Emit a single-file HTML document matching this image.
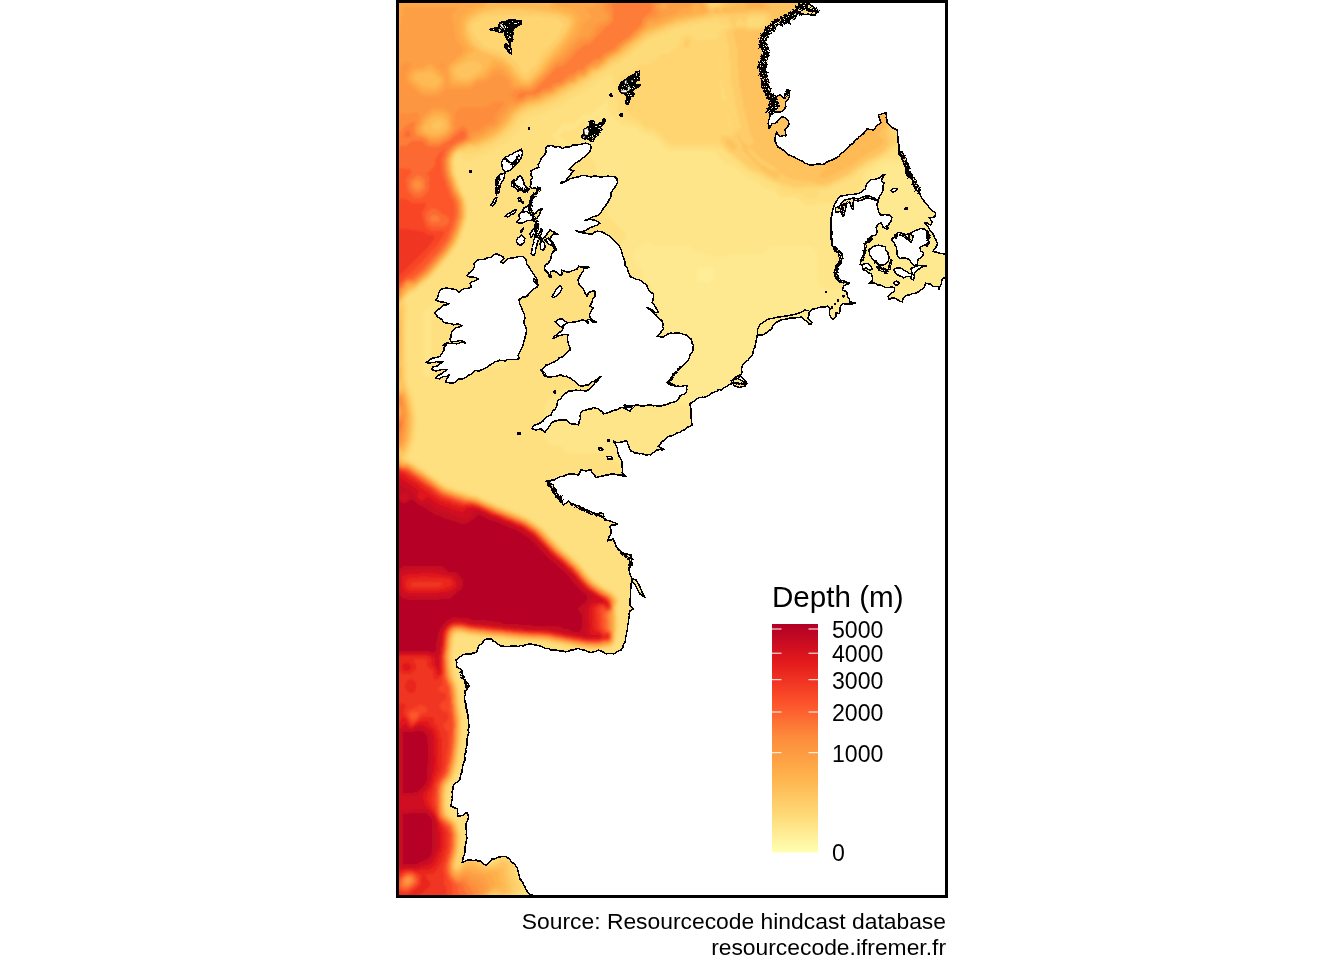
<!DOCTYPE html>
<html><head><meta charset="utf-8"><title>Depth (m)</title>
<style>
html,body{margin:0;padding:0;background:#fff;}
body{width:1344px;height:960px;overflow:hidden;position:relative;font-family:"Liberation Sans",Arial,sans-serif;color:#000;}
svg{position:absolute;left:0;top:0;}
.cap{position:absolute;right:398px;text-align:right;font-size:22.85px;line-height:26px;white-space:nowrap;}
</style></head><body>
<svg width="1344" height="960" viewBox="0 0 1344 960">
<defs>
<clipPath id="clip"><rect x="399" y="3" width="546" height="892"/></clipPath>
<linearGradient id="lg" x1="0" y1="1" x2="0" y2="0">
<stop offset="0" stop-color="#FFFFB2"/><stop offset="0.1667" stop-color="#FED976"/><stop offset="0.3333" stop-color="#FEB24C"/><stop offset="0.5" stop-color="#FD8D3C"/><stop offset="0.6667" stop-color="#FC4E2A"/><stop offset="0.8333" stop-color="#E31A1C"/><stop offset="1" stop-color="#B10026"/>
</linearGradient>
<filter id="b1" x="0" y="0" width="100%" height="100%" filterUnits="userSpaceOnUse"><feGaussianBlur stdDeviation="0.8"/></filter>
</defs>
<g clip-path="url(#clip)">
<rect x="396" y="0" width="552" height="898" fill="#FFEE97"/>
<g filter="url(#b1)">
<path d="M376,-20 376,919 969,919 969,-20ZM698,269 699,268 712,268 713,269 713,278 711,279 708,283 706,282 707,281 698,281 697,280 698,279Z" fill="#FEE990"/>
<path d="M376,-20 376,919 969,919 969,473 952,473 949,471 698,471 694,468 694,465 693,464 694,460 697,458 707,458 710,456 710,453 711,452 711,410 710,409 710,406 709,405 701,405 695,402 693,402 692,403 687,403 686,404 657,404 654,402 654,399 653,398 653,327 654,326 654,323 658,318 658,315 660,310 652,300 652,288 645,280 643,276 643,270 636,262 634,258 634,253 636,250 641,245 646,244 647,243 652,244 654,246 688,246 689,247 691,247 699,254 705,254 706,255 715,256 720,258 723,258 731,254 763,254 771,247 774,247 775,246 808,246 813,248 817,252 817,281 819,285 823,289 825,290 856,290 858,288 858,286 860,283 860,203 862,199 869,191 869,184 870,183 870,178 871,176 875,172 876,172 879,168 887,164 895,164 896,165 899,165 905,169 914,169 915,170 919,170 939,190 941,193 941,200 945,205 945,224 946,225 947,241 949,246 949,244 950,243 951,216 953,214 955,214 960,218 966,221 969,221 969,-20Z" fill="#FEE589"/>
<path d="M487,919 494,919 493,917 489,917 489,918ZM431,312 431,367 434,366 434,364 439,361 501,361 501,321 461,321 456,319 454,316 449,313 448,311 447,311 446,309 445,309 444,307 440,304 439,304 439,305 437,306 437,307 435,308 432,312ZM376,-20 376,-6 378,-6 378,-10 380,-11 382,-14 384,-14 385,-16 387,-13 387,-6 385,-5 384,-3 381,-3 378,1 376,1 376,919 478,919 482,916 482,912 484,910 498,910 499,911 499,916 501,917 501,919 530,919 530,911 531,910 614,910 615,908 786,908 787,909 787,914 786,915 617,915 616,917 537,917 537,919 969,919 969,479 956,479 956,481 957,482 957,484 956,485 687,485 686,483 685,483 684,481 683,481 682,479 678,476 678,475 634,475 626,468 617,463 608,454 606,453 568,453 560,446 550,444 545,438 545,405 546,404 546,402 560,390 562,390 563,389 592,389 593,388 596,388 599,386 636,386 636,317 638,316 641,312 642,312 642,309 641,309 640,307 636,304 636,293 635,293 634,291 633,291 632,289 631,289 630,287 626,284 626,273 625,273 624,271 623,271 622,269 621,269 620,267 616,264 616,247 618,246 618,245 620,244 620,243 622,242 625,238 626,238 626,232 625,233 624,231 623,231 622,229 621,229 620,227 619,227 618,225 617,225 616,223 615,223 614,221 613,221 612,219 611,219 610,217 606,214 606,203 605,203 604,201 603,201 602,199 601,199 600,197 596,194 596,162 593,161 592,159 591,159 590,157 586,154 586,118 584,119 575,129 570,131 563,131 559,135 559,136 566,143 566,144 567,143 568,144 571,152 571,261 590,261 591,262 594,262 597,266 600,267 601,269 605,272 605,274 609,276 609,279 610,280 610,380 607,383 605,384 604,383 604,277 603,277 602,275 601,275 600,273 599,273 598,271 594,268 594,267 565,267 564,266 564,147 563,147 562,145 561,145 560,143 559,143 558,141 557,141 556,139 555,139 554,137 551,135 552,134 554,134 554,133 556,132 556,131 558,130 561,126 562,126 561,125 562,124 574,124 574,123 576,122 576,121 578,120 578,119 580,118 583,114 592,114 592,113 599,107 602,106 606,100 607,101 607,108 611,114 613,115 613,116 621,125 623,126 635,127 643,134 653,136 667,150 669,150 670,151 710,151 711,152 714,152 726,164 734,166 749,180 756,181 763,187 767,189 771,189 773,190 781,198 795,198 796,199 798,199 803,204 807,206 812,206 813,205 822,204 823,203 845,204 846,205 844,206 844,207 840,211 839,211 838,209 835,207 835,276 846,276 846,203 848,202 848,201 850,200 850,199 860,189 860,187 862,183 862,179 864,174 869,169 872,168 875,165 884,160 886,160 887,159 909,159 910,158 912,158 913,156 924,156 925,158 926,158 927,160 928,160 929,162 930,162 931,164 932,164 933,166 934,166 935,168 936,168 937,170 938,170 939,172 940,172 941,174 942,174 943,176 944,176 945,178 946,178 947,180 948,180 949,182 950,182 951,184 955,187 955,202 957,203 957,207 955,208 958,208 961,212 964,212 965,214 968,214 969,216 969,-20 841,-20 841,-18 840,-17 807,-17 806,-18 806,-20 563,-20 563,-18 561,-17 558,-13 483,-13 482,-15 478,-18 478,-20 403,-20 403,-18 401,-17 398,-13 387,-13 386,-14 386,-19 387,-20 396,-20ZM787,896 792,896 793,897 793,908 792,909 787,909 786,908 786,897ZM956,486 957,484 959,484 960,485 957,487ZM635,475 641,481 641,575 640,576 640,651 639,652 639,655 635,657 635,659 633,660 633,661 631,662 631,663 629,664 629,665 627,666 627,667 625,668 622,672 619,673 619,674 617,675 614,679 611,679 610,680 581,680 580,679 577,679 574,675 571,674 570,672 566,670 491,670 490,669 487,669 484,665 481,664 480,662 481,678 490,688 490,691 491,692 491,759 488,767 487,768 485,767 486,768 481,773 481,781 475,790 471,793 471,798 476,803 476,804 479,806 481,810 481,818 486,823 486,824 487,823 490,828 490,831 491,832 491,845 489,846 492,846 492,845 494,844 497,840 514,840 515,842 516,842 517,844 518,844 519,846 520,846 521,848 522,848 523,850 524,850 525,852 526,852 527,854 530,856 531,858 531,868 532,868 533,870 534,870 535,872 536,872 537,874 538,874 539,876 543,879 543,880 549,886 551,890 786,890 787,891 787,896 786,897 542,897 541,896 544,892 544,887 543,887 542,885 538,882 538,881 535,880 534,879 534,877 533,877 532,875 528,872 528,871 524,869 524,857 523,857 522,855 521,855 520,853 519,853 518,851 514,848 514,847 497,847 497,848 495,849 492,853 489,853 488,851 484,848 484,827 483,827 482,825 481,825 480,823 476,820 476,819 475,820 474,819 474,807 473,807 472,805 468,802 468,801 464,799 464,793 466,792 466,791 468,790 468,789 470,788 473,784 474,784 474,772 475,771 476,772 476,771 478,770 478,769 480,768 483,764 484,764 484,687 483,687 482,685 478,682 478,681 474,679 474,655 475,654 479,654 480,655 479,656 480,656 481,658 482,658 483,660 487,663 487,664 569,664 570,665 569,666 570,666 571,668 572,668 573,670 577,673 577,674 614,674 614,673 616,672 616,671 618,670 618,669 620,668 620,667 622,666 622,665 624,664 624,663 626,662 626,661 628,660 628,659 630,658 633,654 634,654 634,476ZM424,311 425,310 428,310 428,309 430,308 430,307 432,306 432,305 434,304 437,300 438,300 440,296 441,298 442,298 443,300 444,300 445,302 446,302 447,304 448,304 449,306 450,306 451,308 452,308 453,310 457,313 457,314 506,314 507,315 507,366 506,367 437,367 437,368 435,369 432,373 431,373 429,377 425,377 424,376ZM815,-6 840,-6 841,-5 841,-1 839,1 821,1 821,14 817,17 817,18 815,19 812,23 811,23 811,68 812,68 821,78 821,118 822,118 823,120 828,120 828,119 830,118 830,108 831,106 834,104 834,103 836,102 836,101 838,100 838,99 840,98 840,97 842,96 842,95 844,94 847,90 894,90 897,94 898,94 899,96 900,96 901,98 902,98 903,100 907,103 907,104 911,106 911,118 912,118 921,128 921,150 915,156 914,155 914,127 913,127 912,125 908,122 908,121 904,119 904,107 903,107 902,105 901,105 900,103 899,103 898,101 894,98 894,97 847,97 847,98 845,99 845,100 843,101 843,102 841,103 838,107 837,107 837,118 835,119 835,120 833,121 830,125 829,125 830,126 829,127 822,127 820,123 819,123 818,121 814,118 814,77 813,77 812,75 811,75 810,73 806,70 806,69 805,70 804,69 804,23 806,22 806,21 808,20 808,19 810,18 813,14 814,14 814,-5ZM841,-18 845,-18 847,-16 847,-7 845,-5 841,-5 840,-6 840,-17Z" fill="#FEE081"/>
<path d="M406,-20 406,-18 405,-16 403,-15 403,-13 401,-9 394,-9 391,-7 391,-5 388,-2 381,1 380,3 376,4 376,422 379,418 380,413 382,410 382,408 387,395 388,394 390,396 390,412 385,422 383,424 383,426 379,431 379,433 376,437 376,919 476,919 483,908 500,908 505,919 522,919 522,917 524,914 524,911 528,908 611,908 614,906 777,906 778,905 781,905 782,904 782,901 777,899 516,899 515,898 516,897 518,897 524,894 524,890 526,885 526,881 520,875 518,871 518,862 516,859 512,856 512,855 509,853 501,853 492,861 489,861 480,853 478,853 477,852 464,852 462,850 462,841 463,840 462,830 460,827 460,824 458,820 450,813 449,808 448,807 448,793 449,792 449,788 456,778 456,776 458,773 458,769 460,765 460,760 461,759 461,755 462,754 463,737 464,736 464,717 463,716 463,710 462,709 461,691 460,690 460,685 458,682 458,680 456,677 456,674 454,670 454,660 453,659 453,654 454,653 454,643 455,642 456,637 458,635 462,635 463,636 468,636 469,637 473,637 474,638 486,638 487,639 493,639 494,640 506,640 507,641 513,641 514,642 544,643 545,644 552,644 556,646 562,646 567,648 573,648 578,650 587,650 588,651 601,651 602,650 608,650 613,648 616,645 616,642 618,638 618,631 619,630 619,615 618,614 618,606 620,603 620,600 618,596 611,589 609,589 597,581 588,572 588,571 586,570 581,563 576,558 569,553 568,551 567,551 566,549 565,549 548,532 548,531 544,528 544,527 526,515 524,515 521,513 514,511 512,509 509,509 506,507 504,507 502,505 499,505 497,503 495,503 479,495 473,494 467,491 464,491 461,489 458,489 455,487 452,487 450,485 448,485 433,475 429,471 409,458 410,454 412,451 412,449 414,446 414,443 416,440 418,418 417,417 417,411 416,410 415,400 408,381 408,362 407,361 407,320 408,319 408,304 407,303 407,299 412,294 413,294 429,280 430,280 442,267 446,261 448,260 458,246 460,242 460,240 462,238 462,235 464,232 464,230 466,227 466,224 468,220 468,201 462,189 462,187 460,185 460,183 456,173 456,167 455,166 456,159 460,156 463,160 469,161 480,156 482,156 485,154 487,154 490,152 492,152 497,148 506,143 519,130 521,126 529,118 534,116 537,116 541,114 544,114 564,104 569,100 581,94 607,76 611,75 613,77 613,82 615,87 615,98 617,101 617,109 621,116 625,120 632,122 635,124 638,124 646,131 648,131 649,132 654,132 668,146 673,148 720,148 728,154 731,158 737,162 747,171 776,185 782,192 784,192 785,193 790,193 791,194 799,194 807,199 814,199 815,198 817,198 819,196 819,194 818,193 821,190 827,190 852,178 858,174 859,172 867,166 872,164 874,162 876,162 878,160 880,160 889,154 895,148 901,145 905,141 905,135 904,134 904,130 898,123 898,111 891,103 889,103 888,102 854,102 853,103 851,103 845,109 843,112 843,119 840,124 831,132 819,132 809,122 808,120 807,82 798,71 798,21 808,9 808,-8 810,-10 832,-10 834,-11 834,-12 832,-13 805,-13 803,-15 803,-20 566,-20 565,-16 563,-15 562,-11 560,-9 552,-9 547,-7 540,-7 539,-8 489,-8 488,-9 480,-9 479,-10 478,-15 477,-15 475,-18 475,-20Z" fill="#FEDB79"/>
<path d="M407,-20 407,-18 403,-13 403,-9 401,-7 393,-7 390,-1 387,-1 378,5 376,5 376,416 380,409 380,407 382,404 382,401 384,398 384,396 386,393 386,391 388,387 391,384 393,387 393,390 391,393 391,408 392,410 378,438 378,440 377,441 378,442 376,444 376,919 475,919 478,915 480,910 484,907 498,907 499,908 501,908 506,919 515,919 515,910 517,908 530,908 531,907 611,907 615,904 780,904 781,903 780,901 611,901 610,900 505,900 504,899 505,897 513,896 518,894 520,890 520,888 522,885 521,881 516,875 515,863 514,861 513,861 510,857 504,855 499,857 494,862 492,863 488,863 479,855 461,855 460,854 460,843 461,842 460,830 457,822 448,814 447,807 446,806 446,795 447,794 447,789 448,788 448,786 454,778 454,776 456,773 456,769 458,766 458,761 459,760 459,756 460,755 460,747 461,746 461,740 462,739 462,715 461,714 461,709 460,708 460,697 459,696 458,685 454,677 453,667 452,666 452,650 453,649 454,637 457,634 464,634 469,636 478,636 479,637 486,637 487,638 498,638 499,639 506,639 507,640 532,641 533,642 548,642 553,644 558,644 563,646 569,646 570,647 580,648 581,649 587,649 588,650 600,650 601,649 610,648 612,647 616,642 616,636 617,635 617,630 618,629 618,616 617,615 618,599 614,593 608,589 603,587 595,581 588,574 588,573 586,572 580,564 568,553 567,553 566,551 565,551 546,532 546,531 544,530 544,529 530,519 518,513 516,513 513,511 511,511 508,509 506,509 503,507 496,505 494,503 487,501 475,495 471,495 470,494 453,489 450,487 448,487 441,483 424,470 421,469 418,466 409,461 406,458 410,450 410,447 412,444 412,442 414,438 414,432 415,431 415,413 414,412 414,407 413,406 412,398 411,397 411,395 407,385 407,382 406,381 406,364 405,363 405,318 406,317 406,306 404,303 404,301 406,297 408,296 409,294 416,290 417,288 422,285 434,274 434,273 450,255 456,246 460,238 460,236 462,234 462,231 464,228 464,225 466,222 466,218 467,217 467,206 466,205 466,200 458,184 458,181 456,178 456,175 454,171 454,159 456,155 459,152 462,152 465,154 466,153 471,154 472,153 478,152 481,150 483,150 485,148 488,148 506,136 506,135 508,134 511,130 512,130 518,121 523,116 529,112 532,112 535,110 542,109 564,98 569,94 584,86 587,83 590,82 593,79 596,78 599,75 602,74 613,66 618,64 632,54 633,52 642,46 643,44 652,38 654,38 657,36 659,36 662,34 664,34 677,28 680,28 685,26 690,26 695,24 700,24 705,22 713,22 716,20 722,25 725,25 726,24 728,24 729,25 728,27 723,28 718,32 718,38 716,40 715,39 709,39 708,40 696,40 691,35 685,35 681,37 679,40 679,43 677,47 671,51 670,53 663,54 657,57 657,58 651,63 638,66 630,73 625,75 622,75 619,78 620,95 625,102 625,108 626,109 626,111 635,119 638,120 647,128 654,128 671,144 718,144 722,146 730,154 731,154 737,160 738,160 739,162 740,162 749,170 755,173 760,174 769,180 771,180 773,182 775,182 782,186 792,188 793,189 825,188 826,187 829,187 834,184 836,184 838,182 840,182 842,180 844,180 846,178 851,176 867,164 883,156 887,152 888,152 891,148 900,142 900,138 898,135 898,132 895,127 895,124 896,123 896,112 890,105 888,105 887,104 857,104 856,105 853,105 847,111 845,115 845,121 843,124 834,133 832,134 825,134 824,135 819,135 817,134 806,123 806,109 805,108 805,104 804,103 804,85 802,80 795,72 795,21 798,16 804,10 805,5 806,4 806,-4 802,-12 802,-20 710,-20 710,-16 709,-15 699,-15 697,-20 567,-20 567,-18 563,-13 563,-9 562,-8 560,-8 559,-7 552,-7 548,-5 530,-5 529,-6 489,-6 488,-7 480,-7 478,-9 478,-13 474,-18 474,-20ZM729,118 731,122 731,127 730,128 728,125 728,119ZM728,115 729,116 729,118 728,119 727,118 727,116ZM721,78 722,79 723,87 724,88 724,92 726,97 726,101 725,102 722,99 722,96 721,95 721,89 720,88 720,79ZM720,55 721,56 721,70 720,71 719,70 719,56ZM747,23 748,22 748,20 750,18 763,18 765,20 765,24 762,26 749,26Z" fill="#FED571"/>
<path d="M688,38 685,39 684,41 684,47 685,48 687,48 690,46 690,44 691,43 690,42 690,40ZM801,-20 717,-20 717,-16 711,-11 699,-11 696,-16 695,-20 568,-20 564,-12 565,-10 565,-8 562,-6 554,-6 553,-5 551,-5 549,-3 514,-3 513,-4 491,-3 485,-6 395,-6 391,0 384,1 380,5 376,6 376,410 380,403 380,401 382,398 382,395 384,392 384,390 390,377 391,376 393,377 394,384 395,385 395,390 392,394 392,406 393,407 393,412 380,437 380,441 384,443 387,447 391,450 389,451 386,449 383,449 378,446 376,446 376,919 475,919 475,917 478,914 480,909 482,907 500,907 503,909 507,919 514,919 514,909 517,907 608,907 609,906 611,906 615,903 778,903 778,902 492,901 490,898 493,896 508,896 509,895 514,894 516,892 516,886 517,884 514,880 514,877 512,872 512,865 507,859 501,859 495,864 488,865 484,863 478,857 465,857 462,859 459,866 458,867 456,866 456,861 458,857 458,852 459,851 460,834 458,830 458,827 455,821 447,814 446,812 446,805 445,804 446,787 452,779 456,769 456,765 458,760 459,748 460,747 460,735 461,734 461,717 460,716 460,708 459,707 459,701 458,700 458,689 457,688 456,683 454,680 454,677 452,674 452,664 451,663 452,641 453,640 454,635 456,633 464,633 465,634 476,635 477,636 488,636 489,637 508,638 509,639 516,639 517,640 535,640 536,641 546,641 547,642 553,642 558,644 563,644 564,645 574,646 575,647 579,647 580,648 589,648 590,649 600,649 601,648 606,648 607,647 612,646 614,644 614,642 615,641 615,638 616,637 616,606 618,601 616,597 611,592 608,591 593,581 592,579 588,576 588,575 583,570 578,563 577,563 569,555 561,549 560,547 559,547 540,527 528,519 520,515 518,515 515,513 513,513 510,511 503,509 496,505 489,503 487,501 485,501 478,497 467,495 464,493 461,493 458,491 455,491 452,489 449,489 447,487 445,487 439,483 438,481 425,473 422,470 419,469 416,466 407,461 404,458 404,456 406,454 410,446 410,443 412,440 413,428 414,427 414,416 413,415 412,404 411,403 410,396 408,393 408,390 406,387 405,379 404,378 404,306 402,304 402,302 404,300 404,298 409,292 414,290 423,282 424,282 424,281 426,280 436,270 437,268 438,268 446,257 448,256 456,244 462,231 462,228 464,225 464,222 466,218 466,205 465,204 464,197 462,195 462,193 460,191 460,189 457,184 457,182 454,175 453,166 452,165 452,162 453,161 454,156 456,153 459,151 463,151 470,148 477,149 483,146 485,146 487,144 489,144 504,134 504,133 506,132 509,128 510,128 516,119 523,112 532,108 542,106 544,104 546,104 558,98 560,96 565,94 567,92 572,90 577,86 580,85 583,82 588,80 595,74 600,72 611,64 622,58 648,37 680,24 685,24 690,22 695,22 700,20 710,19 713,17 726,17 729,19 731,23 734,26 726,32 726,36 727,37 727,42 729,47 729,59 730,60 731,84 733,89 733,94 735,99 735,104 737,109 737,114 739,118 739,122 740,123 741,128 735,131 732,136 728,136 727,135 723,135 721,136 720,140 723,145 729,151 734,154 735,156 736,156 750,168 752,168 754,170 757,170 759,172 764,174 769,178 777,182 780,182 783,184 786,184 787,185 790,185 795,187 805,187 806,186 827,186 830,184 832,184 834,182 836,182 838,180 840,180 842,178 844,178 846,176 848,176 867,162 883,154 893,144 894,144 895,142 894,138 892,136 892,134 891,133 891,128 892,127 894,117 893,116 893,112 889,107 855,107 849,114 848,121 845,126 843,127 843,128 834,136 831,136 830,137 821,137 820,138 818,138 816,137 803,124 803,122 802,121 802,107 800,104 800,101 799,100 799,83 798,81 794,78 791,72 791,22 794,16 800,10 802,6 802,-6 797,-7 796,-8 791,-8 790,-10 791,-11 797,-11 798,-12 800,-12 801,-14ZM735,25 739,18 740,18 742,21 744,22 745,21 745,19 750,15 764,15 766,16 768,19 768,24 765,27 763,27 762,28 749,28 745,26 738,27ZM472,31 472,25 475,22 477,22 482,18 487,16 498,16 499,15 515,15 516,16 540,16 541,17 552,17 553,18 557,18 564,24 563,28 560,31 557,38 543,53 543,54 541,55 538,62 535,66 533,67 530,71 529,71 528,73 524,73 521,70 520,67 517,63 508,55 503,53 501,51 499,51 495,49 490,49 483,45 482,43 481,43 480,41 476,38ZM708,-11 715,-10 719,-7 720,2 718,5 712,6 710,4 709,-4 707,-8 707,-10ZM580,-9 584,-11 589,-11 590,-10 618,-10 619,-9 618,-8 581,-8ZM404,-11 407,-9 474,-9 477,-11 473,-20 408,-20Z" fill="#FECD69"/>
<path d="M726,139 725,140 726,144 732,150 735,150 738,146 730,139ZM799,-20 724,-20 724,-12 727,-6 727,2 721,7 716,7 711,9 708,5 708,-1 706,-5 704,-5 703,-6 691,-6 690,-7 574,-6 573,-5 554,-4 547,1 540,1 539,0 526,0 525,-1 496,-1 495,0 491,0 490,-1 488,-1 484,-4 396,-4 394,-2 394,8 393,9 393,32 392,33 392,38 391,39 389,36 389,27 388,26 388,23 391,17 390,2 389,1 386,1 381,5 376,7 376,402 380,395 380,393 382,390 382,387 384,384 386,377 390,369 393,366 395,366 396,367 396,382 399,387 393,395 393,407 394,408 394,413 391,417 391,419 389,421 389,423 387,425 387,427 385,429 385,431 382,437 382,439 384,440 389,445 389,446 397,450 399,452 399,454 398,455 393,455 378,447 376,447 376,919 474,919 474,917 477,914 479,909 482,906 500,906 505,910 505,912 508,917 508,919 512,919 512,911 513,909 517,906 610,906 612,904 611,902 493,902 492,901 488,901 487,900 487,898 492,894 505,895 506,894 509,894 512,891 511,884 510,883 510,879 508,874 508,868 507,867 507,865 505,863 501,863 499,865 497,865 493,867 486,867 479,863 478,861 476,860 464,861 462,865 458,869 456,869 454,865 456,860 456,856 458,852 458,841 459,840 459,835 458,834 457,827 454,821 453,821 446,814 445,812 445,808 444,807 444,794 445,793 445,788 446,787 446,785 452,777 454,772 454,769 456,765 457,755 458,754 458,747 459,746 459,739 460,738 460,716 459,715 459,710 458,709 458,698 457,697 456,685 452,677 451,667 450,666 450,651 451,650 451,643 452,642 452,637 453,635 456,632 464,632 469,634 477,634 478,635 485,635 486,636 497,636 498,637 505,637 506,638 517,638 518,639 529,639 530,640 547,640 552,642 558,642 563,644 568,644 569,645 580,646 581,647 586,647 587,648 601,648 602,647 606,647 607,646 610,646 614,642 615,631 616,630 616,615 615,614 615,607 617,602 616,601 616,599 611,593 603,589 593,582 587,576 582,569 581,569 580,567 570,558 570,557 562,551 541,529 537,527 534,524 531,523 528,520 518,515 516,515 513,513 511,513 508,511 506,511 503,509 496,507 489,503 487,503 475,497 470,497 469,496 452,491 449,489 447,489 429,477 422,471 419,470 411,464 407,462 405,462 402,459 402,455 406,451 406,449 408,446 408,444 410,441 410,438 411,437 411,432 412,431 412,413 411,412 410,402 408,398 408,395 406,392 406,389 403,383 403,369 402,368 402,308 401,308 397,313 394,310 394,307 397,304 400,303 404,296 410,290 412,290 425,279 426,279 434,271 434,270 445,258 451,250 452,247 455,244 460,233 460,231 462,228 462,225 465,217 465,207 464,206 464,200 458,189 458,187 456,184 456,182 452,172 452,158 454,156 454,154 458,150 466,148 469,146 478,146 494,138 500,134 500,133 502,132 509,124 510,124 514,117 519,112 529,106 533,106 537,104 540,104 560,94 572,86 576,85 582,80 584,80 590,76 590,75 594,72 601,69 611,61 614,60 623,54 627,50 628,50 632,46 648,34 650,34 657,30 660,30 667,26 672,25 678,22 682,22 687,20 692,20 697,18 702,18 703,17 710,16 713,14 737,15 738,14 746,14 751,12 766,12 767,13 769,13 771,15 771,17 772,18 772,23 768,29 766,30 754,30 753,31 748,31 745,29 737,29 733,32 734,38 735,39 735,43 737,48 737,66 738,67 738,79 739,80 739,86 741,91 741,96 743,101 743,106 744,107 744,110 745,111 745,114 746,115 746,118 747,119 750,134 754,141 754,142 750,146 749,146 742,141 739,135 737,135 742,145 743,151 763,171 774,178 778,178 780,174 783,174 786,177 794,180 814,182 817,184 824,184 825,183 830,182 848,173 851,170 869,158 871,158 873,156 875,156 877,154 880,153 884,150 887,146 888,146 889,141 888,140 888,137 886,134 886,130 888,128 888,126 890,123 890,113 889,111 885,109 861,109 855,113 851,124 836,139 829,139 828,140 820,141 819,142 814,141 799,126 798,124 798,111 794,104 794,101 793,100 793,84 787,77 787,73 786,72 786,22 788,17 793,12 794,9 796,7 796,5 798,2 798,-4 797,-5 787,-5 786,-6 780,-6 779,-7 769,-8 768,-9 766,-9 764,-11 765,-13 770,-13 771,-14 798,-14 799,-15ZM748,148 749,147 759,157 769,164 775,167 777,170 776,171 773,171 771,169 768,168 766,166 761,164 757,161 748,151ZM468,30 468,25 471,20 482,13 484,13 485,12 490,12 491,11 495,11 496,10 523,10 524,11 543,12 544,13 557,14 560,16 567,18 569,20 569,26 567,28 567,30 559,42 545,58 537,70 527,79 525,79 522,77 517,72 514,67 503,57 493,53 490,53 487,51 485,51 481,49 472,40ZM565,-11 567,-10 578,-10 581,-12 603,-12 604,-11 693,-11 696,-13 696,-15 694,-18 694,-20 569,-20 567,-15 565,-13ZM405,-13 405,-12 408,-10 473,-10 476,-12 472,-20 409,-20 407,-15Z" fill="#FEC35E"/>
<path d="M376,448 376,919 474,919 474,916 477,913 480,907 483,905 498,905 499,906 502,906 506,909 507,913 509,915 510,919 511,919 511,909 514,906 527,906 528,905 610,905 611,903 609,903 608,902 487,902 485,901 484,899 492,892 494,892 495,891 497,891 501,893 505,893 507,892 506,882 505,881 505,877 504,876 504,871 501,867 500,868 495,868 494,869 485,869 482,867 480,867 474,863 469,863 468,864 466,864 458,871 454,868 454,861 456,857 457,847 458,846 458,833 454,823 446,816 444,812 444,788 445,787 445,785 450,779 452,775 452,773 454,770 454,766 456,761 456,755 457,754 457,750 458,749 458,739 459,738 459,716 458,715 458,707 457,706 456,689 450,673 450,660 449,659 450,644 451,643 451,638 453,633 456,631 462,631 463,632 468,632 469,633 473,633 474,634 484,634 485,635 492,635 493,636 504,636 505,637 512,637 513,638 543,639 544,640 551,640 556,642 562,642 567,644 572,644 573,645 577,645 578,646 585,646 586,647 602,647 603,646 608,646 612,644 614,640 614,632 615,631 615,616 614,615 614,607 616,604 616,601 614,597 613,597 612,595 608,592 605,591 593,583 586,576 580,568 571,559 563,553 562,551 561,551 540,529 525,519 523,519 516,515 514,515 511,513 509,513 506,511 504,511 501,509 494,507 492,505 485,503 483,501 481,501 478,499 472,498 471,497 467,497 464,495 461,495 458,493 455,493 452,491 445,489 432,479 408,463 404,463 399,458 399,457 395,457 393,455 391,455 380,449ZM403,389 401,389 395,393 394,395 394,406 396,411 395,412 395,414 393,416 393,418 391,420 391,422 389,424 389,426 387,428 387,430 384,436 385,438 389,441 390,444 393,447 398,449 401,452 404,451 406,447 406,445 408,442 409,436 410,435 410,424 411,423 410,409 408,404 408,400 406,396 406,393ZM400,367 397,375 398,380 400,380 401,379 401,369ZM886,115 884,113 862,113 860,115 855,126 840,141 837,143 830,143 827,145 825,145 823,147 821,147 819,149 819,155 825,165 825,169 821,172 821,174 819,178 826,178 829,176 831,176 833,174 835,174 837,172 839,172 841,170 843,170 845,168 853,164 860,158 865,156 867,154 878,148 884,142 884,140 881,138 878,134 885,125 885,123 886,122ZM714,10 714,12 716,13 719,11 718,9 715,9ZM770,6 768,3 759,-3 750,-3 742,4 735,4 729,7 724,7 722,10 724,12 730,12 731,11 748,11 749,10 769,10 770,9ZM703,-4 694,-4 693,-5 581,-5 580,-4 576,-4 575,-3 557,-3 553,-1 553,0 548,4 539,4 538,3 520,3 519,2 498,2 497,3 489,3 485,-1 480,-3 398,-3 396,-2 395,0 395,28 394,29 393,57 392,58 391,70 389,74 388,73 388,68 387,67 387,57 386,56 386,50 388,47 388,28 387,27 387,23 389,19 389,3 388,2 386,2 379,7 377,7 376,8 376,394 380,387 380,385 382,382 382,379 384,376 384,374 389,363 393,358 396,356 398,357 400,355 400,322 398,320 394,312 394,310 393,309 394,305 400,301 409,289 413,288 425,278 426,278 426,277 428,276 438,265 442,259 444,258 454,244 462,225 462,222 464,218 464,204 463,203 463,200 460,195 460,193 458,191 458,189 455,184 455,182 452,175 452,171 451,170 451,159 454,153 457,150 461,148 463,148 465,146 467,146 470,144 474,145 490,138 499,132 508,123 513,115 521,108 529,104 533,104 534,103 539,102 542,100 544,100 546,98 548,98 550,96 552,96 556,94 561,90 563,90 572,84 575,84 579,80 583,78 585,78 589,74 590,74 591,72 594,70 597,70 603,65 606,64 609,60 615,56 620,54 644,34 652,30 654,30 657,28 659,28 662,26 664,26 667,24 674,22 677,20 681,20 682,19 691,18 692,17 696,17 697,16 702,16 703,15 708,14 710,11 706,4 706,-2ZM432,128 432,124 436,121 440,121 443,123 443,126 440,129 435,130ZM481,64 482,66 481,70 472,77 470,77 469,78 461,78 460,77 458,77 456,75 456,73 455,72 456,69 459,66 464,64 466,62 474,61 475,62 478,62ZM469,18 483,10 491,9 492,8 497,8 498,7 531,8 532,9 539,9 540,10 547,10 548,11 559,12 562,14 569,16 572,19 572,25 565,38 551,55 551,56 549,57 549,58 545,62 540,70 532,79 526,82 525,81 523,81 519,78 511,67 503,60 497,57 494,57 491,55 488,55 485,53 483,53 477,49 472,44 468,38 468,36 466,33 466,23ZM567,-15 567,-11 578,-11 582,-13 601,-13 602,-12 692,-12 694,-13 694,-18 693,-20 570,-20 569,-19 569,-17ZM407,-15 407,-12 408,-11 473,-11 474,-12 474,-15 472,-17 472,-19 471,-20 410,-20 409,-19 409,-17Z" fill="#FEBA54"/>
<path d="M376,449 376,919 473,919 474,915 477,912 479,907 481,905 501,905 507,908 510,908 515,905 608,905 609,903 487,903 486,902 483,902 481,900 485,896 486,896 487,894 496,888 501,888 501,883 500,882 500,876 499,875 499,873 497,871 483,871 473,866 465,867 458,873 454,870 453,868 453,863 454,862 454,858 456,854 456,848 457,847 457,833 456,832 456,829 454,824 449,819 448,819 444,814 444,811 443,810 443,791 444,790 444,786 450,778 454,767 454,763 455,762 455,758 456,757 456,751 457,750 457,744 458,743 458,728 459,727 458,712 457,711 457,705 456,704 456,693 455,692 454,684 450,676 450,671 449,670 449,659 448,658 449,649 450,648 450,639 451,638 452,633 457,630 461,630 466,632 479,633 480,634 490,634 491,635 510,636 511,637 519,637 520,638 540,638 541,639 548,639 549,640 554,640 555,641 565,642 566,643 570,643 571,644 576,644 577,645 581,645 582,646 592,646 593,647 604,646 605,645 610,644 613,641 613,639 614,638 614,605 615,604 615,601 613,597 610,594 607,593 592,583 586,577 580,569 570,559 569,559 568,557 560,551 540,530 527,521 519,517 517,517 514,515 512,515 509,513 507,513 504,511 497,509 490,505 488,505 486,503 484,503 476,499 465,497 462,495 459,495 456,493 453,493 450,491 448,491 435,483 428,477 410,465 405,463 402,463 395,457 391,455 389,455 387,453 385,453 378,449ZM401,391 395,395 395,406 397,409 397,413 395,415 387,431 387,436 391,440 391,442 394,446 400,449 403,449 408,437 408,431 409,430 409,412 408,411 408,405 407,404 406,397 404,393ZM861,151 862,152 864,152 864,150 862,150ZM746,6 746,8 764,8 765,7 763,4 758,3 757,2 751,2ZM703,-2 697,-2 696,-3 684,-3 683,-4 588,-4 587,-3 583,-3 579,-1 557,-1 553,2 550,6 550,8 556,9 557,10 561,10 564,12 567,12 571,14 575,18 575,24 573,27 573,29 571,31 571,33 559,50 557,51 557,52 551,58 541,72 530,83 528,83 527,84 522,83 519,81 514,76 508,67 500,61 498,61 497,60 491,60 491,62 486,70 481,75 479,75 470,81 457,81 454,78 452,74 452,67 466,58 470,54 474,52 474,50 472,47 470,46 464,35 464,21 469,15 475,11 486,6 485,3 482,0 480,-1 398,-1 396,4 396,33 395,34 395,58 394,59 394,68 393,69 393,79 392,80 392,85 391,86 390,98 389,99 389,101 387,103 386,102 386,95 385,94 385,84 384,83 384,78 386,75 386,58 385,57 385,50 387,46 387,28 386,27 386,23 388,19 388,3 385,3 382,6 376,9 376,386 380,380 380,377 382,374 382,371 384,368 384,366 386,363 386,361 388,357 398,345 398,339 399,338 398,324 393,312 393,306 402,297 403,294 409,288 413,286 415,286 419,282 420,282 426,276 427,276 436,266 436,265 438,264 438,263 452,246 458,234 458,232 462,222 462,219 463,218 463,203 462,202 462,199 460,197 460,195 455,186 455,184 451,174 451,170 450,169 450,159 453,153 457,149 463,146 465,146 467,144 478,142 496,132 508,120 512,113 521,106 530,102 534,102 535,101 540,100 551,94 553,94 558,90 565,87 567,85 571,83 576,82 579,78 584,77 588,74 591,70 596,69 604,64 607,60 620,52 624,48 640,36 641,34 647,30 649,30 651,28 654,28 657,26 659,26 662,24 664,24 677,18 682,18 687,16 691,16 695,14 702,14 707,12 707,9 705,6 705,1ZM442,117 445,119 447,123 447,128 444,131 438,134 432,134 424,130 424,127 431,119 435,117ZM415,75 419,73 431,71 440,79 440,83 436,87 428,87 427,86 424,86 423,85 421,85 415,79 414,77ZM568,-12 578,-12 582,-14 600,-14 601,-13 606,-13 607,-12 660,-12 661,-13 692,-13 694,-15 692,-20 571,-20 569,-17ZM408,-14 408,-12 473,-12 472,-17 470,-20 411,-20Z" fill="#FEB14B"/>
<path d="M501,904 505,906 511,906 516,904ZM376,449 376,919 472,919 478,908 482,904 486,904 479,902 478,900 481,897 484,896 484,895 486,894 495,885 495,883 492,876 490,874 481,873 473,869 466,869 462,871 459,874 456,874 452,868 452,864 454,859 454,855 456,851 456,840 457,839 457,837 456,836 456,831 455,830 454,825 444,816 443,809 442,808 442,793 443,792 443,787 444,786 444,784 449,778 452,772 452,769 454,764 454,759 456,754 456,746 457,745 457,737 458,736 458,717 457,716 457,711 456,710 455,691 454,690 454,686 450,678 449,668 448,667 448,651 449,650 450,636 452,632 455,630 464,630 469,632 485,633 486,634 496,634 497,635 505,635 506,636 528,637 529,638 547,638 548,639 558,640 559,641 568,642 569,643 573,643 574,644 586,645 587,646 601,646 602,645 606,645 611,643 613,640 613,609 614,608 614,600 610,595 591,583 590,581 586,578 581,571 568,558 567,558 560,551 559,551 558,549 557,549 538,529 522,519 520,519 517,517 515,517 512,515 510,515 507,513 505,513 498,509 491,507 475,499 470,499 469,498 463,497 460,495 457,495 454,493 451,493 448,491 446,491 431,481 424,475 415,470 412,467 406,464 402,464 394,457 392,457ZM399,393 396,396 396,398 395,399 396,405 399,412 389,430 389,435 393,439 393,442 395,445 399,447 402,447 406,439 407,427 408,426 408,412 407,411 406,401 405,400 404,395 402,393ZM702,0 697,0 696,-1 685,-1 684,-2 680,-2 679,-3 594,-3 584,1 558,1 556,3 556,5 557,6 562,6 563,7 571,8 580,16 580,20 578,23 575,33 569,40 567,44 565,45 559,54 557,55 552,61 551,61 543,72 530,85 522,85 517,83 508,71 504,68 504,67 497,64 494,65 484,76 476,79 471,83 469,83 468,84 462,84 461,83 454,83 452,81 451,76 450,75 450,72 449,71 449,69 451,65 456,62 468,51 468,48 460,36 460,25 459,24 461,17 471,8 475,6 480,5 480,2 478,1 399,1 398,3 398,20 397,21 397,50 396,51 395,82 394,83 393,100 392,101 392,107 391,108 391,115 390,116 390,120 389,121 389,126 386,129 384,126 383,109 382,107 384,103 384,87 383,86 383,78 385,74 384,49 386,46 386,19 387,18 387,5 386,4 379,9 377,9 376,10 376,381 377,381 379,377 380,370 382,366 382,363 384,360 386,353 388,349 396,340 396,336 397,335 397,333 396,332 396,323 395,322 394,315 392,311 392,305 401,297 404,291 406,290 409,286 416,284 425,276 426,276 426,275 428,274 431,270 432,270 432,269 442,258 451,246 458,232 458,230 462,220 463,211 462,210 462,201 454,186 454,183 452,180 452,177 450,173 449,161 452,153 457,148 467,143 473,142 480,138 482,138 491,132 496,130 496,129 498,128 503,122 504,122 508,115 518,106 531,100 536,100 539,98 541,98 543,96 550,94 554,92 557,89 566,85 570,82 574,82 577,78 581,76 584,76 591,68 596,68 598,67 609,57 618,52 622,48 638,36 639,34 648,28 649,26 659,24 661,22 663,22 666,20 668,20 671,18 673,18 683,14 688,14 692,11 692,8 696,4 698,4 701,7 702,10 704,10 704,8 703,7 703,1ZM422,126 424,124 425,121 433,114 443,114 447,117 449,122 449,128 448,130 445,133 438,136 431,136 426,134 422,131ZM412,74 417,70 424,70 429,67 431,67 442,77 443,82 442,83 442,85 436,90 427,90 426,89 422,89 412,80 411,78ZM569,-14 570,-13 578,-13 583,-15 600,-15 605,-13 662,-13 663,-14 691,-14 692,-15 692,-18 691,-20 572,-20ZM409,-15 410,-13 471,-13 472,-14 469,-20 412,-20 411,-19 411,-17Z" fill="#FEA848"/>
<path d="M376,450 376,919 472,919 472,916 480,904 477,903 475,900 484,894 488,890 490,886 488,884 486,879 480,875 476,875 470,872 464,872 458,876 454,874 452,870 452,861 454,857 455,847 456,846 456,833 452,823 451,823 443,815 443,813 442,812 442,788 444,783 450,775 450,773 452,770 452,766 454,762 455,750 456,749 457,726 458,725 457,723 457,715 456,714 456,706 455,705 454,689 448,673 448,659 447,658 447,655 448,654 448,647 449,646 449,639 450,638 450,635 453,630 455,630 456,629 461,629 462,630 467,630 472,632 482,632 483,633 490,633 491,634 502,634 503,635 523,636 524,637 550,638 555,640 560,640 561,641 565,641 566,642 572,642 573,643 583,644 584,645 592,645 593,646 598,646 603,644 608,644 612,641 612,639 613,638 613,632 612,631 612,611 613,610 614,601 609,595 593,585 582,574 582,573 575,566 575,565 574,565 566,557 565,557 564,555 556,549 537,529 525,521 523,521 521,519 519,519 516,517 514,517 511,515 509,515 506,513 499,511 492,507 485,505 483,503 481,503 478,501 476,501 472,499 467,499 464,497 461,497 458,495 455,495 452,493 449,493 441,489 434,483 427,479 420,473 417,472 407,465 401,465 400,463 399,463 394,458 388,455 386,455 380,451 377,451ZM402,395 398,395 396,399 397,405 400,410 400,413 397,417 395,422 393,424 393,426 391,429 391,433 395,439 395,442 400,446 402,445 404,440 404,436 406,431 406,419 407,418 405,402 404,401 404,398ZM690,2 688,2 687,1 681,1 680,0 671,-1 670,-2 601,-2 600,-1 597,-1 596,4 594,7 585,7 587,10 589,11 591,15 591,18 583,25 581,29 580,34 569,45 565,51 551,64 547,70 545,71 545,72 531,86 529,87 515,86 513,84 512,80 504,72 504,71 500,69 495,69 493,70 487,77 484,79 480,79 476,81 470,86 452,86 449,83 447,68 450,63 452,62 452,61 454,60 463,51 462,46 460,45 456,40 456,38 455,37 455,32 454,31 454,25 452,21 452,15 454,11 456,10 458,7 403,7 403,14 401,17 401,23 400,24 400,29 399,30 399,47 398,48 397,83 396,84 395,104 394,105 394,111 393,112 393,121 392,122 391,137 390,138 390,142 389,143 389,148 386,153 384,152 382,148 382,139 381,138 381,132 382,131 381,105 383,101 383,94 382,93 382,77 384,73 384,62 383,61 383,49 384,48 384,22 383,21 383,19 384,18 384,9 383,11 381,11 379,13 376,13 376,378 377,378 379,373 380,363 382,360 382,356 383,355 384,350 386,347 386,345 390,339 394,335 394,329 395,328 395,326 394,325 394,318 393,317 392,310 391,309 392,304 400,297 402,293 402,291 404,290 409,284 415,284 430,271 430,270 446,252 454,239 454,237 458,230 458,227 460,224 460,221 462,217 462,206 461,205 461,201 454,188 454,185 452,182 452,179 450,176 450,172 449,171 448,161 449,160 450,155 452,152 459,146 467,142 469,142 475,138 483,135 489,130 493,128 495,128 500,123 503,117 508,112 511,107 516,106 523,102 525,102 527,100 538,98 544,94 552,92 556,88 558,88 566,84 567,82 573,81 578,76 583,75 586,73 591,67 597,66 603,62 607,57 610,56 613,53 618,51 623,46 624,46 625,44 630,41 635,36 636,36 637,34 643,30 649,22 656,22 666,16 669,16 670,15 675,14 679,10 684,8 687,8 690,6 691,4ZM433,111 443,111 444,112 446,112 447,114 449,115 450,122 451,123 451,128 450,130 445,135 438,138 431,138 423,134 420,131 420,126 422,124 423,120ZM410,72 415,68 422,68 427,64 431,63 436,68 437,68 444,76 445,78 445,83 444,84 444,86 443,88 437,93 424,93 420,91 410,82 408,77ZM660,6 663,3 666,3 668,5 668,7 666,9 662,9ZM573,-16 577,-16 578,-18 599,-18 604,-14 663,-14 664,-15 689,-16 690,-17 690,-20 599,-20 598,-18 596,-20 575,-20 575,-17ZM413,-16 468,-16 466,-17 466,-20 415,-20 415,-17Z" fill="#FD9F44"/>
<path d="M376,451 376,919 471,919 472,915 478,906 477,904 474,904 472,901 475,898 479,896 484,891 484,887 480,881 476,879 473,879 468,875 463,875 460,877 456,877 453,874 451,869 451,863 452,862 452,859 454,854 454,850 455,849 455,832 454,831 453,826 451,823 443,816 442,814 442,809 441,808 441,793 442,792 442,785 450,774 450,771 452,767 452,763 454,758 454,752 455,751 455,745 456,744 456,731 457,730 457,720 456,719 456,711 455,710 455,703 454,702 454,692 453,691 452,684 448,676 448,667 447,666 447,651 448,650 448,641 449,640 450,633 454,629 458,628 459,629 464,629 465,630 476,631 477,632 487,632 488,633 507,634 508,635 516,635 517,636 546,637 547,638 553,638 558,640 563,640 564,641 574,642 575,643 579,643 580,644 588,644 589,645 606,644 612,640 611,613 613,608 613,601 608,595 592,585 583,576 578,569 577,569 576,567 570,562 570,561 569,561 563,555 555,549 554,547 553,547 552,545 536,529 524,521 517,519 510,515 507,515 500,511 493,509 477,501 474,501 469,499 465,499 462,497 459,497 456,495 453,495 450,493 447,493 445,491 443,491 437,487 430,481 407,466 402,466 394,459 378,451ZM401,396 399,396 397,398 397,402 402,412 400,416 397,419 393,427 393,432 395,434 395,436 398,443 400,443 402,441 402,438 404,433 404,427 405,426 405,411 404,410 404,402ZM441,63 440,64 442,68 444,68 444,65ZM664,0 662,-1 606,-1 605,0 603,0 602,1 603,2 603,10 607,14 607,16 608,17 607,19 604,21 599,22 593,28 591,34 588,37 583,37 579,39 579,40 577,41 577,42 575,43 572,47 571,47 567,53 560,60 557,61 549,69 549,70 547,71 547,72 532,87 530,88 512,88 510,86 509,81 505,77 500,74 495,74 487,81 477,83 470,89 449,89 447,88 445,89 442,93 437,96 423,96 411,87 406,81 405,74 412,64 410,63 403,63 401,65 400,74 399,75 399,89 398,90 398,98 397,99 397,109 396,110 396,116 395,117 395,125 394,126 394,132 393,133 393,142 392,143 392,149 391,150 391,158 390,159 389,170 387,175 385,177 382,175 380,170 381,150 380,149 380,135 379,134 380,129 381,128 381,123 380,122 380,104 381,103 381,85 380,84 380,76 382,73 382,68 381,67 380,62 379,63 376,63 376,376 377,376 377,374 378,373 380,359 382,354 382,349 383,348 386,337 390,331 392,330 392,327 393,326 392,313 391,312 391,308 390,307 392,303 394,302 394,301 396,300 399,296 400,296 401,291 406,287 406,285 408,283 414,283 416,282 425,274 426,274 429,270 430,270 434,264 448,248 458,228 458,225 461,217 461,206 460,205 460,201 458,198 458,196 454,190 454,188 449,175 449,172 448,171 448,158 450,155 450,153 457,146 470,140 474,135 481,133 490,126 494,126 498,122 498,118 500,115 504,112 510,103 516,104 517,103 522,102 528,98 537,97 543,93 552,91 557,86 560,86 564,84 567,81 572,80 577,75 579,74 583,74 590,66 592,66 602,61 605,57 616,51 620,48 621,46 632,38 640,30 641,30 649,20 657,18 660,15 661,13 657,7 658,5ZM432,108 444,108 446,109 452,116 452,130 448,135 438,140 431,140 427,137 420,134 418,132 418,127 420,124 422,117ZM603,-20 603,-16 606,-14 660,-14 666,-18 666,-20Z" fill="#FD9640"/>
<path d="M376,452 376,919 470,919 470,916 476,908 476,905 472,905 469,903 469,901 479,893 479,890 475,885 471,883 470,881 469,881 468,879 465,877 463,877 460,879 457,879 453,876 451,872 450,864 451,863 452,856 454,852 455,835 454,834 454,831 453,830 452,825 451,825 450,823 449,823 448,821 447,821 442,816 442,814 441,813 441,807 440,806 441,787 442,786 442,784 450,772 450,769 451,768 452,761 453,760 454,747 455,746 455,739 456,738 456,716 455,715 455,709 454,708 453,690 452,689 452,686 450,683 450,681 448,678 448,674 447,673 447,663 446,662 446,653 447,652 447,648 448,647 448,638 449,637 450,632 455,628 462,628 463,629 473,630 474,631 492,632 493,633 501,633 502,634 512,634 513,635 521,635 522,636 543,636 544,637 550,637 551,638 555,638 556,639 560,639 561,640 566,640 567,641 571,641 572,642 577,642 578,643 582,643 583,644 602,644 603,643 610,642 612,639 612,632 610,629 610,613 612,610 612,600 610,597 591,585 584,578 578,570 569,561 561,555 560,553 559,553 546,540 546,539 545,539 544,537 543,537 542,535 538,532 538,531 526,523 518,519 516,519 513,517 511,517 508,515 501,513 494,509 487,507 485,505 483,505 478,502 463,499 460,497 457,497 454,495 451,495 448,493 446,493 439,489 432,483 406,466 401,466 393,459 385,455 383,455 381,453ZM405,882 407,878 409,878 411,880 409,883 406,883ZM403,415 399,419 395,426 395,430 397,433 397,435 399,439 400,439 401,437 402,431 403,430 403,423 404,422 404,417ZM400,397 398,399 398,401 399,402 399,404 402,407 403,405 402,404 402,399ZM376,113 376,190 377,190 379,188 378,161 380,158 380,149 379,148 379,137 378,136 379,119ZM503,101 495,101 485,107 462,107 458,109 455,113 455,121 454,122 455,127 453,132 451,133 448,137 438,142 431,142 426,138 422,136 420,136 417,134 416,132 416,127 418,124 418,121 420,116 418,112 414,112 413,113 401,113 399,116 399,119 397,124 397,130 396,131 396,135 395,136 395,146 394,147 394,152 393,153 393,163 392,164 391,180 390,181 390,185 389,186 388,196 387,197 387,199 384,201 380,197 376,195 376,374 378,370 378,364 380,359 380,353 381,352 382,343 384,339 384,335 386,332 387,328 391,322 390,304 398,297 400,294 401,289 405,286 405,284 407,282 414,282 420,278 420,277 422,276 432,266 433,264 434,264 442,253 444,252 450,243 454,235 456,228 458,225 458,222 460,218 460,203 458,200 458,198 456,196 456,194 454,192 454,190 452,187 452,185 448,175 448,170 447,169 447,159 448,158 448,156 453,148 459,144 468,140 470,138 470,135 472,132 478,131 486,124 494,122 494,119 496,114 504,105 504,102ZM416,184 418,183 419,185 417,186ZM658,1 656,0 612,0 611,1 608,1 607,3 607,8 610,13 610,19 609,21 599,27 599,28 597,29 595,32 595,34 589,40 581,42 562,62 558,63 555,65 555,66 553,67 553,68 535,87 529,90 524,90 523,89 521,89 520,90 514,91 511,95 512,98 517,102 518,101 521,101 529,96 536,96 542,92 551,90 555,86 562,84 569,78 572,78 579,72 583,72 586,70 588,66 591,64 593,64 596,61 602,60 602,59 606,55 616,50 619,46 620,46 625,41 628,40 629,38 630,38 638,30 639,30 643,26 644,22 648,18 652,16 654,16 656,13 655,6ZM605,-20 605,-16 606,-15 659,-15 661,-16 661,-20Z" fill="#FD8D3C"/>
<path d="M376,453 376,919 469,919 469,908 470,907 466,903 466,901 468,900 468,899 470,898 474,894 474,893 464,880 462,880 461,881 456,880 452,876 450,872 450,861 452,857 452,853 454,848 454,833 451,825 442,817 440,812 440,789 443,781 448,775 448,773 450,770 450,766 452,762 452,757 453,756 453,751 454,750 455,729 456,728 456,721 455,720 455,715 454,714 454,705 453,704 452,688 448,680 447,671 446,670 446,651 447,650 448,635 450,631 453,628 465,628 470,630 478,630 479,631 486,631 487,632 498,632 499,633 506,633 507,634 518,634 519,635 530,635 531,636 548,636 553,638 558,638 563,640 569,640 570,641 580,642 581,643 586,643 587,644 600,644 605,642 609,642 611,640 611,638 612,637 612,634 609,629 609,619 608,618 608,615 612,609 612,601 608,596 605,595 588,583 580,574 580,573 579,573 578,571 566,559 565,559 558,552 557,552 537,531 525,523 517,519 515,519 512,517 510,517 507,515 505,515 502,513 495,511 488,507 486,507 484,505 482,505 474,501 464,500 463,499 455,497 452,495 449,495 446,493 444,493 428,481 407,467 401,467 392,459 390,459 388,457 386,457 379,453ZM404,884 404,879 407,877 410,877 413,880 412,882 408,885 405,885ZM402,421 400,421 397,425 397,429 399,432 400,432 400,430 402,426ZM376,135 376,188 378,186 377,161 379,156 379,153 378,152 378,137ZM463,126 460,127 448,139 438,144 431,144 423,138 417,137 415,135 415,133 414,132 414,126 415,125 415,123 414,122 412,122 408,125 406,125 398,134 398,136 397,137 397,149 395,154 395,163 394,164 393,182 392,183 392,190 391,191 391,200 390,201 390,207 389,208 389,214 388,215 387,222 384,225 381,223 380,221 376,219 376,372 377,367 378,366 378,361 379,360 379,356 380,355 380,347 382,343 382,338 383,337 384,328 389,317 389,304 398,295 400,289 404,286 404,284 407,281 414,281 416,280 417,278 423,274 429,268 429,267 434,262 434,261 436,260 436,259 444,250 452,237 452,235 456,228 456,225 459,217 459,205 458,204 458,201 452,190 452,188 447,175 447,172 446,171 446,158 448,155 448,153 454,146 466,140 466,139 468,138 468,131 467,129ZM415,180 419,180 422,183 422,187 418,190 415,189 413,187 413,183ZM653,3 651,2 615,2 612,4 612,8 613,9 613,21 608,26 607,26 590,44 585,45 581,47 581,48 579,49 579,50 577,51 577,52 575,53 575,54 573,55 573,56 564,65 560,67 558,67 555,69 555,70 553,71 553,72 551,73 551,74 534,91 532,92 522,92 521,93 519,93 517,97 518,98 522,98 527,94 534,94 539,92 543,89 550,88 553,84 561,82 565,78 566,78 569,74 573,74 576,72 577,70 583,69 587,64 590,63 594,59 600,58 603,54 615,48 615,47 619,43 620,43 624,39 627,38 637,28 638,28 639,26 640,26 642,22 642,20 644,17 652,11 652,4ZM607,-20 607,-16 658,-16 659,-18 659,-20Z" fill="#FD7C37"/>
<path d="M376,453 376,919 468,919 468,917 467,916 467,907 465,905 463,905 462,904 462,902 466,898 467,894 464,890 463,885 460,883 457,883 451,877 449,872 449,869 448,868 450,858 451,857 451,854 452,853 452,848 453,847 453,833 452,832 452,829 450,825 449,825 448,823 447,823 440,816 440,811 439,810 439,791 440,790 440,785 442,781 445,778 449,770 449,767 451,762 451,758 452,757 453,744 454,743 454,727 455,726 455,723 454,722 454,713 453,712 453,705 452,704 452,693 451,692 450,685 448,682 448,680 446,676 446,664 445,663 445,653 446,652 446,645 447,644 448,633 452,628 454,628 455,627 462,627 463,628 468,628 469,629 473,629 474,630 484,630 485,631 492,631 493,632 504,632 505,633 512,633 513,634 526,634 527,635 542,635 543,636 551,636 556,638 562,638 567,640 572,640 573,641 584,642 585,643 600,643 601,642 607,642 611,639 611,633 607,628 607,616 606,615 607,613 610,611 612,607 612,604 610,599 608,597 599,592 587,583 580,575 580,574 574,568 574,567 572,566 572,565 571,565 565,559 557,553 556,551 555,551 554,549 553,549 552,547 551,547 550,545 549,545 548,543 547,543 546,541 536,531 520,521 518,521 515,519 513,519 510,517 508,517 505,515 503,515 500,513 498,513 491,509 489,509 477,503 471,502 470,501 464,501 463,500 452,497 449,495 446,495 444,493 442,493 422,478 413,473 410,470 406,468 402,468 390,459 388,459 386,457 384,457ZM412,876 414,879 414,882 408,887 404,887 402,885 402,881 403,879 406,876ZM376,144 376,160 377,158 377,147 376,146ZM464,131 461,131 449,141 441,145 439,147 429,147 425,145 424,143 421,141 411,141 411,142 406,146 402,146 401,145 399,149 399,152 397,157 396,178 395,179 394,194 393,195 393,207 392,208 392,213 391,214 391,225 390,226 390,233 389,234 389,240 388,241 387,252 383,255 376,249 376,369 377,362 378,361 378,356 379,355 379,348 380,347 381,337 382,336 382,329 384,325 384,320 387,312 388,303 389,301 397,294 398,290 400,287 402,286 402,285 407,280 413,280 424,270 425,270 425,269 442,250 450,238 450,236 454,228 454,226 456,222 456,219 457,218 457,215 458,214 458,209 457,208 457,203 456,202 456,200 452,194 452,192 448,184 448,181 446,178 446,174 445,173 445,169 444,168 444,159 445,158 446,153 450,147 457,142 465,138 466,134ZM430,217 432,215 436,215 439,217 440,220 438,222 432,222 430,220ZM417,175 421,176 425,180 425,189 419,194 414,193 410,188 410,181ZM410,132 409,131 407,131 403,137 410,137Z" fill="#FC6932"/>
<path d="M376,455 376,919 466,919 466,909 465,907 460,907 456,904 460,899 460,895 458,893 458,887 450,878 447,870 448,861 450,857 450,853 452,848 452,833 451,832 450,827 442,820 439,815 439,812 438,811 438,789 442,779 445,776 448,770 448,766 450,762 450,757 451,756 451,751 452,750 453,730 454,729 454,721 453,720 452,705 451,704 451,695 450,694 450,689 445,676 445,661 444,660 444,655 445,654 445,650 446,649 446,639 447,638 448,632 451,628 455,626 461,626 466,628 478,629 479,630 490,630 491,631 510,632 511,633 519,633 520,634 539,634 540,635 548,635 549,636 554,636 555,637 565,638 566,639 570,639 571,640 576,640 577,641 581,641 582,642 592,642 593,643 597,643 598,642 602,642 603,641 608,641 610,639 610,637 611,636 610,635 610,633 607,631 605,628 605,619 604,618 604,615 606,612 610,610 611,608 611,603 610,602 610,600 607,597 601,594 591,587 580,576 580,575 572,566 571,566 564,559 563,559 562,557 554,551 535,531 526,525 518,521 516,521 513,519 511,519 508,517 501,515 478,504 472,503 471,502 461,501 460,500 455,499 452,497 449,497 446,495 444,495 440,492 437,491 436,489 423,481 410,471 406,469 403,469 397,466 391,461 379,455ZM414,876 416,881 412,886 407,889 404,889 400,886 400,882 402,878 405,875 410,874ZM445,148 443,149 443,150 438,155 435,161 435,164 433,168 429,172 427,172 427,174 429,176 429,179 430,180 429,181 429,190 423,197 421,198 415,198 413,197 407,190 406,179 410,174 411,170 410,169 404,169 403,168 401,168 399,171 399,177 397,182 397,190 396,191 396,198 395,199 395,210 394,211 394,217 393,218 393,231 392,232 392,238 391,239 391,250 390,251 390,258 389,259 389,267 388,268 388,273 387,274 387,280 384,285 383,285 379,281 376,280 376,364 377,358 378,357 378,348 379,347 379,343 380,342 380,334 381,333 381,328 382,327 382,322 383,321 383,313 385,309 386,301 396,291 398,287 400,286 400,285 405,280 408,278 411,278 419,272 427,264 432,257 434,256 446,240 448,236 448,234 450,231 450,229 452,225 452,222 454,219 454,216 455,215 454,202 450,196 450,194 448,191 448,189 446,186 446,184 442,174 441,159ZM428,211 434,208 438,210 442,214 445,215 449,218 449,223 446,226 443,226 442,227 440,227 439,226 434,227 429,225 426,219 426,214Z" fill="#FC562C"/>
<path d="M376,456 376,919 465,919 464,914 459,909 455,907 453,904 452,885 448,879 448,877 446,874 446,864 447,863 448,856 450,852 451,835 448,827 440,819 438,815 437,803 436,802 438,784 446,772 446,769 448,764 448,760 449,759 449,755 450,754 451,738 452,737 452,716 450,711 450,698 449,697 448,687 446,684 446,682 444,678 444,651 445,650 446,635 448,632 448,630 453,626 465,626 470,628 477,628 478,629 485,629 486,630 497,630 498,631 505,631 506,632 517,632 518,633 529,633 530,634 548,634 553,636 558,636 563,638 569,638 570,639 580,640 581,641 586,641 587,642 599,642 603,640 608,640 610,638 610,634 608,632 606,632 602,627 602,610 603,609 604,610 608,610 610,609 610,607 611,606 610,605 609,600 606,597 601,595 591,588 580,577 580,576 574,570 574,569 570,566 570,565 569,565 563,559 555,553 554,551 553,551 552,549 551,549 550,547 549,547 548,545 534,531 531,530 528,527 512,519 509,519 502,515 499,515 497,513 495,513 492,511 490,511 488,509 481,507 479,505 477,505 473,503 463,503 460,501 457,501 454,499 451,499 448,497 441,495 434,489 427,485 414,475 411,474 408,471 401,469 389,461 387,461 385,459 383,459 378,456ZM414,874 415,876 417,877 417,883 413,887 407,891 401,890 398,887 398,884 400,879 407,873ZM410,714 412,712 417,712 418,713 418,716 414,720 413,720 410,717ZM376,310 376,359 376,357 377,356 377,349 378,348 378,341 379,340 379,329 380,328 380,313ZM426,203 413,203 406,199 403,199 402,198 401,198 399,201 399,205 397,210 396,226 395,227 394,245 393,246 393,258 392,259 392,267 391,268 391,288 393,288 396,286 397,284 398,284 406,276 412,272 412,271 414,270 414,269 416,268 424,260 424,259 426,258 427,256 428,256 428,255 438,244 444,234 444,232 443,231 432,231 428,229 425,226 424,221 423,220 423,217 422,216 422,212 426,205Z" fill="#F84528"/>
<path d="M376,457 376,919 464,919 463,917 454,908 449,905 447,902 446,887 444,885 444,874 443,873 443,867 444,866 444,863 446,860 446,857 448,852 448,847 449,846 449,834 448,833 448,830 441,822 438,817 438,815 436,812 436,807 435,806 435,801 434,800 434,798 435,797 435,792 436,791 436,785 440,777 442,775 445,768 445,765 446,764 446,755 447,754 447,749 448,748 448,733 443,726 444,723 446,722 448,719 448,714 446,712 443,711 439,706 440,704 446,699 446,694 442,693 438,690 438,688 442,685 442,677 444,672 444,670 443,669 443,654 444,653 444,644 445,643 446,633 448,629 451,626 453,626 454,625 463,625 464,626 468,626 469,627 473,627 474,628 484,628 485,629 492,629 493,630 504,630 505,631 512,631 513,632 527,632 528,633 543,633 544,634 552,634 557,636 562,636 567,638 573,638 574,639 585,640 586,641 600,641 601,640 606,640 608,639 610,636 608,633 604,633 600,628 599,609 602,606 606,609 608,609 610,608 610,604 606,598 603,597 591,589 580,578 580,577 578,576 578,575 571,567 570,567 564,561 563,561 562,559 561,559 554,552 553,552 535,533 531,531 528,528 519,523 517,523 510,519 507,519 500,515 493,513 477,505 474,505 473,504 463,504 462,503 459,503 456,501 453,501 450,499 447,499 439,495 433,491 432,489 405,471 403,471 395,467 392,464 382,459 380,459 378,457ZM412,872 416,874 419,878 419,883 417,886 406,893 399,891 396,888 396,882 397,880 404,873 406,872ZM426,707 428,710 427,712 422,714 416,721 412,723 407,715 408,711 420,705 422,705ZM434,236 432,235 428,235 422,231 417,231 416,230 411,230 410,229 403,229 402,228 400,229 399,231 399,235 398,236 398,240 397,241 397,256 396,257 396,274 397,276 401,274 428,247 434,239Z" fill="#F03623"/>
<path d="M410,679 407,681 405,685 405,688 409,693 412,693 414,692 416,689 416,683 412,679ZM376,459 376,722 378,725 378,731 376,733 376,864 380,864 386,868 392,869 395,874 397,874 398,875 399,874 401,874 405,871 412,871 422,875 422,877 421,878 421,884 416,889 408,895 399,895 398,896 399,897 399,899 402,902 404,903 409,903 424,892 424,891 430,886 430,883 425,876 427,874 432,874 436,871 442,861 442,859 444,856 444,853 446,849 446,832 444,829 444,827 441,824 436,815 436,813 432,805 432,801 431,800 434,785 442,768 442,739 441,738 440,732 438,729 438,727 434,723 434,719 433,717 423,717 417,721 413,725 411,725 408,719 404,714 404,710 406,706 403,703 400,704 397,707 397,709 396,710 396,718 394,721 393,720 393,717 392,716 392,661 394,659 398,659 400,661 397,664 396,667 402,674 411,674 416,669 416,664 413,661 415,659 425,659 427,661 427,666 433,671 433,676 436,680 438,679 442,675 442,654 443,653 443,648 444,647 444,637 447,629 450,626 454,624 463,624 467,626 473,626 474,627 492,628 493,629 501,629 502,630 512,630 513,631 522,631 523,632 543,632 544,633 556,634 557,635 566,636 567,637 571,637 572,638 578,638 583,640 600,640 604,638 608,638 609,637 608,635 603,635 597,628 597,625 596,624 597,623 597,621 596,620 596,609 600,605 604,605 608,608 609,607 609,603 606,599 587,587 586,585 582,582 582,581 572,570 572,569 570,568 570,567 569,567 563,561 555,555 554,553 553,553 534,533 522,525 515,523 510,520 505,519 498,515 491,513 484,509 482,509 480,507 477,507 474,505 460,505 457,503 454,503 451,501 443,499 433,493 432,491 402,471 400,471 398,469 396,469 394,467 378,459ZM410,585 412,582 441,582 443,584 441,586 439,586 438,587 413,587Z" fill="#E9261F"/>
<path d="M382,734 381,735 376,736 376,861 381,862 388,866 390,866 391,865 391,860 390,859 390,839 388,836 388,814 386,810 385,769 384,768 384,744 383,743 383,736ZM402,717 397,727 397,870 400,872 403,870 415,870 416,871 419,871 420,870 428,870 433,868 438,861 438,859 440,856 440,854 442,851 442,848 443,847 443,833 442,832 442,829 440,826 440,824 438,822 438,820 434,812 430,807 427,799 428,793 432,787 432,785 434,781 434,778 436,775 436,772 438,769 438,739 437,738 436,731 434,728 430,725 428,721 421,721 417,723 414,726 411,727 408,724 407,721 403,717ZM402,666 403,670 405,671 408,671 410,670 411,668 411,666 408,663 405,663ZM376,462 376,697 379,699 379,718 382,722 383,720 383,621 384,620 385,621 385,625 387,627 387,630 388,631 388,634 389,635 389,638 390,639 393,654 395,656 427,656 431,659 431,664 435,669 437,675 439,675 441,673 441,671 442,670 441,669 441,655 442,654 442,647 443,646 444,633 446,629 451,624 453,624 454,623 462,623 463,624 467,624 472,626 482,626 483,627 490,627 491,628 502,628 503,629 510,629 511,630 523,630 524,631 550,632 555,634 561,634 566,636 572,636 573,637 583,638 584,639 600,639 603,637 600,633 594,630 594,628 593,627 593,612 592,610 595,606 599,604 605,604 608,607 608,603 604,599 587,588 581,582 576,575 575,575 574,573 564,564 564,563 556,557 535,535 520,525 518,525 515,523 513,523 510,521 508,521 505,519 503,519 500,517 493,515 477,507 467,506 462,508 461,507 458,507 457,506 452,505 449,503 446,503 443,501 441,501 423,489 416,483 407,478 404,475 399,473 397,471 395,471 393,469 391,469 389,467 387,467 378,462ZM406,587 406,581 409,578 418,578 419,577 445,578 446,579 450,579 453,582 453,584 450,587 447,587 444,589 441,589 440,590 410,590Z" fill="#E0181D"/>
<path d="M376,738 376,860 382,860 384,862 389,863 389,860 388,859 388,840 386,837 386,816 384,812 384,793 382,790 382,769 380,764 380,744 379,743 379,739 378,738ZM404,724 399,729 399,868 401,869 404,869 405,868 412,868 413,869 416,869 417,868 420,868 421,867 424,867 425,866 430,865 433,862 440,847 440,832 439,831 438,823 434,815 425,805 424,800 423,799 423,795 430,785 430,783 432,780 432,775 434,771 434,765 435,764 434,736 432,731 424,725 419,724 411,729 409,728 406,724ZM376,467 376,576 378,579 378,583 379,584 381,595 383,599 383,604 385,608 385,613 387,617 387,622 389,626 389,631 391,635 391,640 392,641 392,644 393,645 393,648 394,649 395,654 426,654 427,655 430,655 434,658 435,660 435,665 437,667 439,672 440,671 440,660 439,659 440,658 440,654 441,653 443,633 445,628 449,624 453,622 464,622 468,624 474,624 475,625 494,626 495,627 502,627 503,628 514,628 515,629 523,629 524,630 545,630 546,631 557,632 562,634 567,634 568,635 578,636 579,637 583,637 584,638 599,638 600,637 599,635 592,635 590,633 590,631 589,630 590,628 589,609 590,608 590,606 594,603 598,603 599,602 604,602 604,601 584,587 576,578 576,577 562,563 561,563 560,561 553,556 533,535 521,527 519,527 512,523 510,523 507,521 505,521 502,519 500,519 497,517 490,515 488,513 481,511 479,509 476,509 475,508 467,508 463,512 461,512 460,511 457,511 456,510 451,509 448,507 445,507 442,505 440,505 428,497 426,497 423,500 421,500 418,497 419,491 417,489 396,475 394,475 392,473 390,473 388,471 386,471 379,467ZM402,577 408,574 420,574 421,573 440,574 441,575 450,576 452,577 456,582 456,586 453,589 449,591 439,592 438,593 409,593 408,592 406,592 402,587Z" fill="#D01020"/>
<path d="M423,809 410,810 409,811 403,811 401,812 401,815 400,816 400,862 401,863 401,866 403,866 404,867 414,867 415,866 418,866 421,864 428,862 432,858 434,854 434,851 436,848 436,824 435,823 434,818 427,811ZM420,727 418,727 413,730 404,729 401,731 401,733 400,734 400,790 401,791 401,794 403,796 416,796 418,795 428,784 429,778 430,777 430,768 431,767 431,745 430,744 430,735 426,731ZM376,473 376,567 378,569 378,573 380,577 380,582 382,587 382,592 384,596 385,605 386,606 387,614 389,619 389,624 391,629 391,634 393,638 393,643 394,644 394,647 396,652 398,652 399,653 430,653 431,654 434,654 437,656 439,654 439,650 440,649 440,638 441,637 442,630 449,622 453,620 462,620 463,621 472,622 473,623 491,624 492,625 510,626 511,627 520,627 521,628 539,628 540,629 549,629 550,630 556,630 561,632 566,632 571,634 577,634 578,635 583,635 584,636 586,636 587,635 585,631 585,628 586,627 585,609 590,601 594,598 594,597 590,593 586,591 578,583 572,575 571,575 570,573 562,566 562,565 555,560 534,538 517,527 515,527 512,525 510,525 507,523 505,523 502,521 495,519 479,511 472,511 473,513 472,515 467,519 463,519 460,517 457,517 454,515 451,515 448,513 445,513 442,511 439,511 427,503 420,503 416,499 413,493 395,481 387,477 385,477 379,473ZM398,575 403,570 413,570 414,569 435,569 436,570 442,570 448,574 453,574 455,575 460,581 460,586 459,588 452,594 450,595 446,595 445,596 438,596 437,597 414,597 413,596 405,596 400,592 400,590 399,589 399,583 398,582ZM400,498 400,496 403,493 406,493 409,496 409,497 405,501 403,501Z" fill="#C30922"/>
<path d="M424,813 404,814 403,815 403,864 417,864 419,862 427,859 430,856 432,852 432,820 430,817 428,816 428,815ZM420,731 415,731 414,732 404,732 403,733 403,792 405,793 416,792 418,791 424,785 427,779 427,765 428,764 427,737 424,733ZM376,479 376,564 379,566 379,568 380,569 380,574 382,579 382,583 383,584 383,588 384,589 384,593 385,594 385,598 386,599 386,603 387,604 389,618 391,623 391,628 393,633 395,647 397,651 430,651 431,652 436,651 436,642 437,641 437,637 438,636 438,633 440,630 440,628 445,622 449,619 454,617 468,618 473,620 486,620 487,621 494,621 495,622 500,622 505,624 519,624 520,625 532,625 533,626 559,626 562,628 568,629 575,632 579,632 582,628 582,616 578,610 578,608 586,601 587,596 578,588 578,587 574,584 569,577 562,570 561,570 554,563 553,563 552,561 551,561 540,550 540,549 539,549 538,547 537,547 536,545 535,545 534,543 530,540 530,539 514,529 511,529 504,525 502,525 494,521 491,521 480,515 477,516 470,522 466,524 461,524 454,521 451,521 448,519 445,519 437,515 435,515 426,509 418,505 413,500 410,500 406,503 401,503 400,501 398,500 398,493 399,491 397,489 382,481 380,481ZM396,573 397,571 403,566 442,566 450,572 456,572 463,579 463,587 460,591 459,591 450,599 441,599 440,600 407,600 406,599 403,599 397,593 397,591 396,590Z" fill="#B70325"/>
</g>
<g fill="#fff" stroke="#000" stroke-width="1.5" stroke-linejoin="round" shape-rendering="crispEdges">
<path d="M496.6,253.9 L499.4,255.1 L501.2,255.5 L502.7,256.7 L504.4,258.6 L502.5,260 L500.5,261.7 L502.8,263.3 L505.9,260.9 L508.3,258.6 L511.4,257.9 L513.8,257.8 L516.9,257.1 L520,256.2 L523.9,257 L525.6,259 L526.2,260.9 L526.7,263.6 L527.8,265.6 L529.5,267.6 L530.9,270.3 L533.1,273.3 L534.1,275 L536.1,277.9 L537.2,279.7 L537.3,282.8 L538,285.2 L537,287 L534.8,288.3 L532.8,289.3 L530.9,291.4 L529.3,293.5 L527.8,295.3 L526,296.8 L523.1,296.9 L521.1,298.6 L519.2,299.2 L519.3,302.4 L520,304.7 L521.2,306.8 L522.3,310.2 L523.8,312.8 L524.7,315.6 L524.8,318.6 L523.9,321.1 L524,323.8 L525.5,326.6 L526.4,329.3 L526.2,332.8 L525.2,336.5 L524.7,339.1 L523.5,342.3 L523.1,345.3 L521.6,348.3 L520.8,350 L520,351.9 L518.4,353.9 L518.2,356 L519.2,358.6 L516.5,359.6 L513.8,359.4 L510.1,359.5 L507.5,359.4 L505.2,360.9 L502.7,360.6 L499.7,360.2 L497.8,361 L495,361.7 L493.7,363 L491.1,364.1 L489.3,365.6 L487.2,367.2 L485,368.2 L482.5,369.5 L478.6,371.1 L474.7,370.3 L473.3,372 L471.6,374.2 L468.8,375 L466.9,376.6 L464.7,378 L462.2,378.9 L459.8,378.7 L457.5,379.7 L455.9,381.8 L453.6,382.8 L449.7,382.8 L445.8,382 L446.6,378.9 L448.3,377.4 L448.9,375 L446.7,376.4 L443.4,376.6 L441.5,377.6 L439.5,378.9 L435.6,378.1 L437.5,376.2 L438.8,375 L441.5,373.9 L443.4,371.9 L445.9,370.8 L447.3,369.5 L445.2,369.6 L441.9,369.5 L438.7,370.5 L435.6,371.1 L431.7,369.5 L433.3,366.4 L436.7,366.2 L438.8,364.8 L441.5,362.7 L443.4,361.7 L441.2,361.7 L438.9,362.2 L436.4,361.7 L433.7,362.6 L431.2,362.4 L429.4,363.3 L426.2,362.5 L428.6,360.7 L430.2,359.4 L432.9,358 L434.8,357.8 L437.1,357.3 L440.3,356.2 L440.9,354.4 L442.7,352.3 L444,350 L444.2,347.7 L446.6,344.5 L442.7,345.3 L445.3,343.5 L447.3,343 L450.4,343.4 L453.1,343.4 L455.9,343.8 L458.5,343.7 L461.4,342.2 L465.3,343 L462.7,341.1 L461.4,340.6 L459.7,340.6 L456.7,341.4 L453.4,341.4 L451.2,342.2 L449.7,339.1 L450.9,337.4 L451.2,334.4 L451.7,331.9 L453.6,329.7 L455,328.2 L457.5,327.3 L459.5,326.8 L462.2,325.8 L459.1,324.2 L456.1,324.2 L453.6,325 L451.3,323.6 L448.9,323.4 L445,322.7 L442.9,321.8 L441.9,319.5 L439.5,318.2 L438,317.2 L436.7,315.7 L434.8,313.3 L437.2,310.2 L439.7,308.5 L441.1,307.8 L443.4,304.7 L446.4,305 L448.9,303.9 L445,302.3 L441.6,302.2 L439.5,301.6 L435.6,300 L437.3,297.8 L438,296.1 L438.4,293.9 L439.5,291.4 L441.4,289.4 L443.4,288.3 L446.5,288.2 L449.7,288.3 L452.9,289.1 L455.9,289.8 L459.1,292.2 L460.8,290.5 L463,289.1 L465.8,288.4 L467.7,288.3 L471.6,287.5 L470,283.6 L472,281.7 L473.9,281.2 L476.6,279.8 L478.6,278.9 L474.7,277.3 L471.7,277 L470,277.3 L466.9,275.8 L469.2,272.7 L472.3,270.3 L473.1,269 L474.7,266.4 L473.9,263.3 L477,260.2 L479.5,259.5 L482.5,259.4 L484.7,259.2 L487.2,257.8 L489.7,257.6 L491.9,257 L494.2,254.7Z"/>
<path d="M547.5,145.6 L549.2,145.9 L551.9,145.2 L555,147.5 L558.1,146.2 L560.4,147.2 L561.9,148.8 L564,147.8 L566.2,146.9 L568.9,147 L571.2,146.2 L573.1,144.9 L576.2,145 L579.8,144.4 L582.5,144 L585.4,143.1 L587.5,143.5 L590.6,144.8 L591,148.8 L589.8,151.3 L588.8,153.1 L586.2,155.6 L584,157.5 L582.5,158.1 L581.2,159 L578.8,161.2 L576.2,162.6 L575,163.8 L573.7,165.2 L571.2,166.9 L568.8,169.4 L570.9,169.9 L573.8,170.6 L571.2,173.8 L568.8,176.9 L566.2,180 L563.8,182.5 L560.6,183.1 L562.2,181.9 L565.1,181.4 L567.5,180.6 L569.6,179 L572.5,178.1 L575.3,177.4 L578.8,176.9 L581.6,175.6 L585,175.6 L588.6,176.3 L591.2,176.9 L593.9,176 L596.2,176 L600,177 L602.5,176.9 L605.1,176.3 L608.8,176.2 L611.9,176.6 L614.4,176.5 L616.9,178.8 L617.5,182.5 L615.6,186.2 L613.1,189.4 L611.2,192.5 L611.2,196.2 L609.4,199.4 L607.5,203.1 L605,206.2 L603.1,208.8 L601.2,211.9 L598.8,215 L595,216.2 L591.2,217.5 L587.5,219.4 L585,220.2 L588.1,219.7 L590,219.4 L592.7,219.9 L594.4,220 L596.9,221.2 L600,223.1 L597.5,225 L593.8,226.2 L590.6,227.5 L587.5,229.4 L583.8,231.2 L581,231.5 L578.8,231.5 L575.6,230.6 L578.3,232 L580,232.5 L582.5,232.9 L585,233.1 L588.1,233.8 L592.5,233.8 L594.3,232.1 L597.5,231.2 L600.1,231.4 L601.9,231.9 L605.6,233.8 L607.3,235.1 L610,236.2 L611.8,238.3 L613.1,240 L616.2,243.1 L619.4,245.6 L620.1,247.7 L621.2,250 L621.9,252.9 L622.5,255 L623.4,257.4 L624.2,259.3 L625,262.5 L625.2,265.3 L627.3,267.6 L627.5,270 L628.4,271.8 L629.6,275.3 L630.6,276.9 L633.8,278.2 L636.2,279.4 L639.6,279.9 L641.9,281.2 L644.1,283.4 L646.2,284.4 L647.2,286.5 L648,288.8 L649.8,291.2 L651.3,292.6 L653.5,293.8 L653.7,296 L653,300 L652.2,302.5 L654,304.7 L655.1,306.3 L656,308 L657.2,310 L658.5,312.5 L655.4,312.4 L653.5,311.2 L651.5,309.5 L649.3,308.7 L647.2,307.5 L648.8,308.8 L650.8,310.7 L652.6,311.9 L653.6,313.1 L656,315 L657.6,317.2 L660.6,319.6 L662.2,321.2 L663,324.2 L662.7,326.7 L663.5,328.8 L661.9,330.7 L659.8,333.8 L657.2,336.2 L659,336.2 L662.2,337.5 L664.7,335.9 L665.9,335.2 L668.5,333.8 L670.8,333 L673,333.4 L675.5,332.9 L678.5,333 L681.3,333.6 L683.3,334.3 L686,335 L687.8,336.7 L691,338.8 L691.7,340.4 L692.1,343.5 L693.5,345 L693.1,347.1 L692.8,350.4 L692.2,352.5 L690.3,354.3 L689.2,357.8 L688.5,360 L686.4,362 L685.4,363.4 L683.5,365 L681.4,367.3 L680.6,368.4 L678.5,370 L675.6,372.1 L673.5,373.8 L672.1,376.4 L671,378.8 L668.8,380.8 L667.2,382.5 L668.5,383.5 L671,385 L674.2,385.9 L675.7,386.3 L678.5,386.2 L681.1,386.6 L684.6,385.6 L687.2,385.5 L686.5,387.1 L686.9,389.5 L686,392.5 L684.4,394.4 L682,394.5 L679.8,396.2 L678.4,399.4 L676,401.2 L673.8,402.1 L670.8,402.7 L668.5,403.8 L665.6,404.8 L663.4,405 L661,406.2 L657.9,406.1 L655.7,405.6 L653.3,405.8 L651,405 L649.1,404.7 L645.6,405.6 L643.5,406.2 L641.7,406.2 L638.3,405 L636,405 L633.7,406.1 L631,406.2 L629.1,406.3 L626.5,407.1 L623.5,407.9 L621,407.5 L618.1,409.1 L616,410 L612.9,410.4 L611.6,411.3 L608.5,412.5 L606.4,413.3 L603.5,413.8 L602.3,411.9 L599.9,410.2 L598.5,408.8 L596.5,408.3 L593.5,407.5 L591.6,408.9 L588,409.2 L586,410 L582.9,410.6 L581,412.5 L580,415.5 L580.6,418 L579.8,420 L578.9,422.7 L578.5,425 L576.4,424.4 L573.6,423.8 L571,423.8 L567.9,421.6 L566,420 L564,420.1 L561.6,419.9 L558.5,420 L556.1,421.2 L554.8,421 L552.2,422.5 L550.6,424.4 L548.5,427.5 L546.1,430.5 L544.8,432.5 L542.3,430.3 L541,428.8 L539.2,429.3 L536,430 L532.2,428.8 L533,426.4 L534.8,425 L536.5,424.5 L538.4,423.9 L541,422.5 L542.5,421.5 L544.9,418.9 L546,417.5 L548.2,416.2 L551,415 L551.7,413.3 L552.9,410.6 L555.4,409.1 L556,407.5 L557,404.9 L557.4,401.9 L558.5,400 L560.7,399 L562.5,396.1 L563.5,395 L565.6,393.3 L568.5,391.2 L571.7,390.9 L573.8,390.6 L576,390 L578.2,390.4 L580.7,390.2 L582.9,390.6 L586,391.2 L588.6,389.6 L590,388.3 L592.2,386.4 L593.5,385 L594.8,382.9 L596.4,381.7 L598.8,379.1 L599.8,377.5 L601,376.2 L598.3,378.2 L596,380 L594.2,381.4 L591.9,381.8 L590,383.2 L588.5,385 L586.1,384.8 L582.9,386 L581,386.2 L578.6,384.9 L576.9,383.4 L574.8,381.2 L572.2,380 L571,378.1 L568.5,377.5 L566.6,376.2 L563.9,376.5 L561,375 L559,375.3 L556,376.2 L552.9,376.7 L551.6,376.8 L548.5,377.5 L546.6,375.7 L543.5,375 L542.8,371.8 L541,370 L542.4,368.9 L544.8,367.2 L546,365 L549,364.5 L551.3,362.9 L553.5,362.5 L555.3,360.8 L557.6,360.2 L558.8,358.1 L561,357.5 L563.7,356.3 L565.2,354.2 L567.2,352.5 L570,350 L569.9,347.4 L568.8,345 L568,342.3 L567.5,340 L567.5,336.8 L568.1,335 L565,334.4 L562.7,334.9 L560,335.6 L557.9,335.9 L555.6,337.5 L553.1,338.8 L554.4,336.4 L556.2,335 L559.4,332.5 L562.5,330 L563.1,326.9 L564.1,324.7 L566.2,323.1 L570,322.5 L573,322.1 L575,321.9 L577.4,321.4 L580,320.6 L582.4,319.9 L585.6,320.6 L587.2,322.2 L588.8,323.8 L587.5,320 L589.4,319.4 L592.5,321.9 L596.2,321.9 L593.1,320.6 L590,317.5 L589.4,315 L591.2,311.2 L593.1,308.1 L590,306.2 L591.2,303.8 L592.1,301.5 L592.5,299.4 L595,296.2 L595.3,294 L595,291.2 L591.9,291.2 L588.8,292.5 L586.9,296.2 L585.3,293.7 L584.4,291.2 L583.1,289 L581.9,287.5 L580.2,285.7 L578.8,283.8 L578.1,280 L580,276.2 L581.9,272.5 L583.4,270.9 L583.8,268.1 L586.3,268 L589.4,267.5 L586,266.6 L583.8,266.9 L581.3,267.1 L578.8,266.2 L577.5,268.8 L574.5,270.1 L572.5,270.6 L570.8,271.3 L568.1,272.5 L565,271.2 L561.2,270 L561.8,272.7 L561.9,274.4 L560,275.6 L556.9,272.5 L553.1,270.6 L550.6,271.9 L550.7,274.7 L551.2,276.9 L549.4,277.5 L549.1,275.4 L548.1,273.1 L545,270 L544.4,266.9 L546.2,264.4 L548.3,263.4 L549.4,261.2 L550.9,258.8 L551.2,256.2 L551.7,253.7 L553.1,251.9 L556.2,248.8 L554.6,246.4 L553.8,243.8 L552.3,241.3 L550,240 L551.5,242.3 L552.3,244 L553.3,246.3 L554.3,248.7 L556.2,250 L555,248.1 L553.5,246.7 L551.2,245 L549,244.3 L547.5,242.5 L545,240 L548.1,238.1 L550,240 L551.2,236.2 L553.8,233.8 L558.1,234.4 L555,232.5 L551.9,231.2 L550,230 L548.7,232 L546.2,235 L544.7,237.4 L542.5,238.8 L540,236.2 L541.1,234.4 L541.6,232.7 L542.5,230 L541.2,228.8 L540.7,231.1 L538.8,233.8 L537.9,235.6 L536.2,237.5 L534.5,235.4 L533.8,233.8 L532,236.2 L531.2,237.5 L530,233.8 L531.9,231.4 L532.5,230 L535,226.9 L535.4,224.6 L535.6,222.5 L536,219.7 L537.5,217.5 L538.4,216 L540,213.8 L540.6,210.9 L542.5,208.8 L539.9,209.3 L537.5,211.2 L536,213 L534.6,214.1 L532.5,216.2 L529.7,214.4 L527.5,212.5 L524.7,212 L522.5,211.2 L523.8,208.1 L527.5,206.2 L530,203.8 L531.2,200.6 L533.8,197.5 L535.6,193.8 L538.8,191.2 L536.6,189.6 L535,187.5 L531.9,188.8 L530,186.9 L531.2,183.8 L530.6,180 L532.5,177.5 L530.6,175 L531.3,173.2 L531.2,170.6 L535,168.8 L538.8,167.5 L538.1,164.4 L540,161.9 L541.2,158.1 L543.8,155.6 L546.2,152.5 L545.6,148.8Z"/>
<path d="M511.2,183.8 L513.1,180 L516.2,180.6 L518.1,176.9 L520.6,175.6 L522.5,178.8 L523.8,181.9 L523.8,183.8 L524.7,185.4 L526.9,188.1 L529.4,188.8 L527.5,191.9 L523.8,192.5 L521.2,190 L518.1,191.2 L517,189.7 L515,187.5 L511.9,186.2Z"/>
<path d="M518.1,198.1 L520.6,198.1 L521.2,200.6 L518.8,201.2Z"/>
<path d="M521.9,201.9 L523.8,201.9 L523.1,203.8Z"/>
<path d="M505,216.2 L508.1,213.8 L510.5,212.8 L512.5,211.2 L516.2,209.4 L515.6,211.9 L513.8,213.8 L511.2,214.4 L509.7,216.2 L507.5,216.9Z"/>
<path d="M518.8,215 L521.2,211.9 L524.1,212 L526.2,211.2 L528.1,212.2 L530,213.8 L531.2,215.2 L533.8,216.2 L532.5,220 L530,220.7 L527.5,220.6 L523.8,222.5 L521.1,223.2 L518.8,223.1 L516.9,221.9 L520,218.8Z"/>
<path d="M521.2,230 L523.1,228.1 L522.5,231.2 L520.6,232.5Z"/>
<path d="M516.2,241.2 L518.1,237.5 L519.6,236.9 L521.9,235 L525,238.1 L524.2,240.6 L524.4,242.5 L522.2,243.7 L521.2,245.6 L517.5,243.8Z"/>
<path d="M531.2,253.8 L531.8,250.5 L532.5,247.5 L532.6,245.5 L533.8,242.5 L533.7,240 L535,237.5 L536.9,233.8 L538.8,237.5 L538.7,239.4 L537.5,242.5 L536.9,245.2 L536.2,247.5 L535.3,249.8 L535.6,252.5 L533.8,255.6Z"/>
<path d="M540,243.8 L541.9,240.6 L544.4,242.5 L544.8,244.9 L545,247.5 L543.1,250.6 L540.6,248.8 L540.4,245.9Z"/>
<path d="M555,321.9 L558.1,319.4 L561.9,318.8 L564.4,321.2 L567.5,322.5 L565.6,323.8 L563.8,325 L561.2,326.9 L558.1,325Z"/>
<path d="M551.9,296.9 L553.1,294.9 L554.4,292.5 L556.2,289.5 L557.5,287.5 L560.6,285.6 L561.9,288.8 L560,292.5 L556.9,295.6 L553.8,297.5Z"/>
<path d="M502.7,160 L504,158.6 L506,156.7 L508.5,156.4 L510,154.7 L512.7,154.2 L514.1,152.7 L516.9,151.4 L518.5,150.8 L521.3,149.2 L522.7,153.3 L521.9,155.4 L521,158.3 L518.5,161.7 L516.6,163.3 L515.2,165 L512.7,168.3 L511.1,169.7 L508.5,170.8 L505.2,171.7 L502.7,169.2 L501.8,165 L501.6,162.2Z"/>
<path d="M496,179.2 L497.5,177 L500.2,174.2 L502.9,174 L505.2,172.5 L504.4,174.7 L504.3,177.5 L503.4,179.8 L501.8,181.7 L500.7,184 L500.2,185.8 L499.6,189.1 L499.3,191.7 L496.8,195 L495.7,192.1 L495.7,190 L496.4,186.9 L496,184.2 L495.7,182.1Z"/>
<path d="M491,205 L492.8,202.4 L493.5,200.7 L494.3,199.2 L496.8,197.5 L496,201.7 L495,203.1 L492.7,205.8Z"/>
<path d="M624.8,408 L626.5,406.7 L628.5,405.5 L630.9,406.2 L633.5,407 L631.5,409.3 L629.8,411.2 L627,409.8Z"/>
<path d="M554.2,391.2 L555.5,391.2 L555.5,393 L554.2,393Z"/>
<path d="M518,432.5 L520.2,432.5 L520.2,434.5 L518,434.5Z"/>
<path d="M598.5,448.2 L601.5,447.8 L603.5,449.5 L599.8,450.5Z"/>
<path d="M607.2,456.5 L611.5,456.5 L612.2,459 L608,459.2Z"/>
<path d="M608,440 L609.5,440 L609.5,441.5 L608,441.5Z"/>
<path d="M536,900 L534.7,897 L532.2,895 L529,893.8 L527.2,891.2 L525.5,888.6 L524.9,886.9 L523.5,885 L522.8,882.6 L521.7,880.6 L519.8,878.8 L519.3,876.3 L518.5,872.5 L517.9,871 L517.1,867.7 L516,866.2 L514.9,864.7 L512.4,862.4 L511,861.2 L509.8,859.6 L508.3,858.3 L506,856.2 L503.5,856.6 L499.8,856.8 L497.5,857.6 L494.4,858.8 L492.2,858.8 L489.9,861.3 L488.7,863.1 L486,865 L483.6,864.2 L482.2,862.5 L480.4,861.2 L477.4,860.9 L476,860 L473.1,860.6 L471.6,860 L469.3,860.2 L467.2,860 L465.3,861 L462.2,862.5 L462.7,860.1 L463.2,857.6 L464.2,854.9 L464.8,852.5 L465.4,850 L464.9,848.2 L465.6,844.9 L466,843.1 L466.5,840 L467,837.5 L466.2,834.4 L466.8,832 L466.2,829.8 L465.8,827.3 L466,825 L466.4,821.9 L467.7,820.4 L468.5,817.5 L468.1,814.6 L467.2,812.5 L465.6,813.1 L463.5,815 L460.2,816.1 L457.2,816.2 L457.8,813.7 L457.7,811.3 L457.2,808.8 L455.2,808.1 L453.8,807.4 L451,806.2 L451.3,804 L451.8,801 L452.3,799.1 L452.2,796.2 L452.6,794.6 L452,791.7 L453.2,789.3 L452.8,787.5 L453.5,785 L455.5,783 L457.1,782.3 L459.8,780 L460.2,777 L460.6,774.7 L462.1,772.1 L462.2,770 L462.4,766.9 L463.2,764.6 L463.5,762.8 L464.9,760.5 L464.8,757.5 L464.6,754.8 L466.1,751.8 L465.6,750 L466.2,747.9 L467.1,745 L467.2,742.5 L467.1,739.6 L467.5,736.9 L468.3,734.5 L468.9,732.7 L468.1,730 L469,727.5 L468.8,724.4 L468.4,721.8 L468.5,719.3 L468,718.2 L468,714.6 L467.2,712.5 L466.8,709.5 L466,708 L466.2,704.3 L465.1,702.7 L464.8,700 L464.3,697.5 L465.4,694.2 L464.8,691.2 L466.3,690 L468.2,687.4 L469.8,686.2 L467.6,683.2 L466,681.2 L464,679.4 L461,677.5 L461.9,674.8 L462.2,671.2 L460.4,668.9 L457.2,667.5 L456.7,665.5 L456.8,662.3 L456,660 L458.7,657.7 L461,656.2 L463,654.8 L465.8,654.2 L468.5,653.8 L471,654 L473,653 L476,652.5 L477.3,650.5 L477.7,648.7 L478.5,646.2 L479.4,645.3 L481.9,643.5 L483.7,641 L484.8,640 L487.3,638.9 L491,638.8 L493.1,641.1 L495.7,642 L497.2,643.8 L499.5,644.9 L501.2,646.1 L503.5,646.2 L506.6,646.5 L509.1,646.6 L511.2,645.9 L513.5,646.2 L515.7,645.8 L517.9,646.8 L520.7,645.5 L523.5,646.2 L525.3,644.8 L527.6,644.4 L529.8,643.8 L532.4,644.4 L536,645 L538.4,645.6 L541.4,646.4 L543.5,647.5 L546.1,648.7 L549.1,648.6 L550.4,650 L553.5,650 L556,650 L558,650.4 L561,651.2 L563.2,650.7 L565.4,651.9 L568.5,651.2 L571.4,649.9 L573.5,650 L576,648.8 L578.5,648.6 L580.8,649.4 L583.5,650 L586.6,650.9 L588.4,651.8 L591,652.5 L592.9,651.9 L596.4,651.1 L598.5,650 L600.8,651 L602.8,651.9 L606,653.8 L608,653.7 L611.4,653.4 L613.5,653.8 L616,652.7 L618.7,650.6 L621,650 L622.9,647.6 L623.3,644.6 L624.8,642.5 L625.5,640.6 L625.5,637.4 L626.3,634.5 L626.6,633.1 L627.2,630 L627.6,628 L627.5,625.5 L628.6,622.1 L628.5,620 L628.9,618.1 L629.3,615.7 L629.1,613.5 L629.8,611.2 L631.4,610.4 L633.5,608.8 L631.5,607.6 L629.8,605 L630,602.1 L629.9,599.5 L630.5,596.9 L630.4,594.7 L630.8,592 L630.5,590 L631.1,588.1 L630.8,585 L631.3,583.5 L631.5,580.4 L632.2,578.8 L631.2,576.7 L629.9,574.4 L629.4,570.8 L628.5,568.8 L629.8,566.7 L632.2,565 L631.9,562 L631,560 L631,557.4 L631,555 L628.7,554.7 L626.7,553.4 L624,553.6 L622.2,552.5 L620,550.4 L618.5,549.8 L617.6,548.4 L616,546.2 L615.3,543.5 L614.2,541.6 L613.5,538.8 L611,540 L609.2,539.8 L607.2,541.2 L608.2,538.8 L609.2,536.8 L611,533.8 L611.2,531.3 L610.8,529 L609.8,526.2 L612.3,524.9 L615.4,525.2 L617.2,523.8 L615.1,522.8 L612.5,522.2 L611,521.2 L608.4,520.4 L604.8,520 L603.9,517.1 L603.5,513.8 L601.4,513 L598.2,513.3 L595.4,513.3 L593.5,512.5 L590.7,512.1 L588.4,510.4 L586,510 L583.3,508.2 L581.5,507.8 L579.8,506.2 L577.1,505.8 L573.5,505 L570.7,503.3 L568.5,501.2 L566.3,502.9 L563.5,505 L562.1,502.9 L561.4,500.4 L561,498.8 L558.3,497.6 L556,497.5 L555.3,495.1 L554,493.6 L552.2,491.2 L552.2,488.7 L553.5,485 L551.4,483.8 L549,482.4 L546,481.2 L549.8,481.2 L551.2,479.9 L553.7,480.1 L556,478.8 L559,477.4 L560.8,476.5 L563.5,476.2 L565.6,475.2 L568.4,474.1 L571,473.8 L573.7,473.8 L576.5,474.6 L578.5,475 L579.7,472.9 L581,470 L583.3,470.3 L586,471.2 L588,470.3 L591,470 L591.9,472.2 L593.3,474 L594.4,475 L596,477.5 L598.2,476.9 L601.6,476.2 L603.5,476.2 L605.6,474.9 L608.2,475.2 L611,473.8 L614.1,473.8 L615.4,474.6 L618.5,475 L621.1,474.9 L623.4,476.2 L626,476.2 L623.4,474.7 L622.2,472.5 L622.5,470.4 L622.2,467.4 L622.2,464.5 L622.2,462.5 L621,459.6 L619.5,456.9 L618.5,455 L617.6,451.9 L617.7,449.6 L617.2,447.5 L616,445.4 L614.4,442.8 L613.5,441.2 L617,442.5 L619.6,442.4 L622.3,441.9 L624.6,440.9 L627,441.2 L627.7,444.1 L628.7,445.6 L629.7,449.2 L630.8,451.2 L632.4,451.3 L635.1,453 L637.2,452.8 L639.5,453.8 L642.1,453.5 L643.7,454.4 L646.8,455 L648.3,454.4 L650.8,455 L652.7,452.8 L654.6,452 L657,450 L660.2,449.5 L661.4,450 L664.5,449.5 L663.1,448.8 L660.2,447.6 L658.2,446.2 L660.5,444 L662,441.2 L663.9,440.6 L666.1,438.3 L667.5,436.9 L669.5,436.2 L671.8,435.7 L674.5,434.4 L677.4,432.8 L679.5,432.5 L681.2,431.2 L683.2,430.3 L685.7,429.2 L687,427.5 L689.6,426.5 L692,425 L691.8,423.2 L691.5,420.1 L691,417.4 L690.8,415 L691,412.6 L691,410.8 L691,408.6 L690.3,405.9 L690,403.8 L691.7,402.4 L695,400.8 L697,398.8 L699.9,397.5 L702.3,397.2 L704.3,397.4 L707,396.2 L708.9,395.2 L710.4,393.8 L712.6,392.8 L715,391.6 L717,391.2 L718.4,389.6 L721.3,389.9 L723.4,388.2 L724.5,387.6 L727,386.2 L729,384.4 L732,383.8 L732.8,382.2 L733.4,380.1 L734.5,377.5 L736.8,376.9 L739.5,375 L741.7,377.4 L743.2,378.8 L745.8,381.7 L747,383.8 L744.1,385 L742,386.2 L740.4,384.8 L738.3,383 L737,381.2 L737.9,378.6 L739.4,377.3 L740.8,374.5 L742,372.5 L741.6,369.2 L742,366.2 L743.9,363.8 L745.9,361.7 L748.2,360 L749.2,358.4 L750.9,356.4 L752.5,354.6 L753.2,352.5 L753.4,349.6 L754.8,347.3 L755.5,344.2 L756.1,340.8 L756.5,338.8 L757.1,335.8 L758.1,334.8 L762.3,335.3 L764.8,333.9 L766.5,332.7 L768.7,330.5 L771.7,329.6 L772.7,325.4 L775.8,322.3 L777.9,321.8 L779.5,320.6 L782.1,319.7 L785.3,319.2 L788.3,318.6 L791.1,317.8 L794.6,318.1 L796.4,317.5 L800,317.3 L801.9,317.1 L805,320.2 L807.1,321.2 L808.6,323.9 L810.7,324.4 L812.3,322.3 L810.2,320.7 L807.6,318.1 L809.1,315.7 L809.2,312.4 L811.4,310.5 L813.3,308.8 L816.2,308.7 L818.7,307.3 L821.7,307.2 L825.4,306.8 L827.9,306.1 L830,308.2 L829.6,311.2 L829.5,314.5 L830.7,317.2 L833.1,319.7 L835.1,317.8 L836.2,316 L835.7,312.9 L839.4,313.4 L840,311.5 L839.8,309.1 L840.4,306.7 L842.5,303.5 L845.8,304.1 L847.7,304.1 L849.9,304 L853.1,303.8 L855.5,303 L852.9,302.8 L849.8,301.5 L849.7,301.9 L849.3,298.9 L847.6,296.7 L847,293.5 L846.5,291.5 L842.4,290.4 L843.4,286.2 L846.2,284.6 L847.5,284.3 L849.7,283.1 L846.5,282.1 L843.4,282.1 L839.2,282.1 L837.8,280 L836.5,278.9 L835.1,276.9 L834.6,274.2 L834.6,271.7 L835.5,268.6 L836.1,265.4 L838.3,264.5 L840.2,262.1 L841.3,261.2 L841.6,258.3 L842.3,256.3 L842.4,254 L840.8,252.4 L838.2,250.8 L836.5,248.1 L834,246.7 L832,245.6 L832,243.3 L832.2,240.6 L831,239.2 L831.1,236.6 L831.1,235.1 L831.2,232.7 L830.9,230 L831.6,232.8 L831.2,234.4 L831.5,237.6 L832.2,239.3 L831.8,241.7 L832.4,239.6 L831.3,237 L832,234.4 L832,231.3 L831.1,229.7 L830.9,227.1 L831,224 L831.1,220.8 L830.8,217.7 L832.2,215.1 L832,212.5 L832.7,210.3 L833.5,207.8 L834,205.3 L835.1,203.1 L836.4,201.6 L837.7,199 L840,196.9 L841.3,195.8 L844.5,195.7 L847.6,194.8 L851.3,194.6 L853.8,194.3 L856.6,194 L859,193.2 L861.3,192.2 L863.2,190.1 L865.2,189 L865.8,186.5 L866.3,184.7 L867.9,182.3 L870.5,179.7 L874.7,179.4 L878.8,178.1 L880.9,176.6 L882.8,175.2 L885.1,174.5 L882.5,177.6 L881.4,181.2 L884,182.8 L882.9,185.7 L883,187.5 L883.1,190.1 L882,192.7 L879.9,195.8 L879.1,197.5 L878.3,200 L878.1,202.5 L876.8,204.2 L877.8,208.3 L878.8,212.5 L880.9,215.1 L885.1,214.6 L889.2,215.1 L891.9,217.7 L890.8,221.9 L888.2,225 L885.6,226.6 L888.7,227.6 L887.2,229.2 L884.6,228.3 L883,227.1 L882.6,224.7 L880.9,222.9 L878.8,224 L877.3,225.6 L876.2,227.6 L876.6,229.4 L877.3,232.3 L875.2,235.4 L873,235.6 L870.5,236.5 L872.6,239.4 L870.8,240.9 L868.4,242.5 L864.2,243.5 L866.3,246.7 L865.2,249.1 L863.2,250.8 L864.2,252.9 L864.2,256 L863.1,258.5 L861.1,260.2 L860.1,264.4 L863.2,265.4 L862.7,269.6 L864.8,270 L867.4,271.7 L868.9,273.1 L871.5,273.8 L872.6,277.9 L872.1,281 L868.9,283.6 L872.6,283.1 L875.4,283.3 L876.8,284.7 L880.9,285.2 L882.6,286.1 L885.1,287.3 L888.2,287.8 L891.3,286.8 L894.5,287.8 L894.5,291.5 L890.8,293.5 L888.2,296.7 L889.2,299.8 L892.4,297.7 L896.5,298.8 L899.7,301.4 L902.3,301.9 L902.4,300 L903.8,297.7 L907,295.1 L910.1,294.8 L912.2,293.5 L914.4,293.6 L917.4,292.5 L919.8,290.5 L921.5,289.4 L923.6,288.4 L924.7,286.2 L925.7,283.1 L928.8,284 L930.9,284.2 L933,286.8 L936,286.5 L938.2,286.2 L939.2,289.4 L939.6,287.1 L941.3,284.2 L941.8,281.1 L942.4,279 L945.1,277.4 L947.5,277.9 L951.5,276.8 L953.8,277.4 L956.2,277.5 L960,277 L959.7,279.7 L959.9,281.7 L959.4,284 L959.6,285.7 L960,287.8 L959.6,290.2 L959.4,292 L959.5,295.1 L959.7,297.5 L960.6,298.6 L960.5,301.9 L959.9,303.4 L960.2,305.7 L959.7,308.2 L959.6,309.9 L959.3,312 L960.4,314 L959.6,316.6 L959.7,318.2 L959.4,320.7 L960.4,323.7 L960.4,325.8 L960.7,327.4 L960.3,329.9 L960.6,332.1 L960.3,334.7 L960.6,336.9 L959.8,339 L960.4,341.6 L959.6,343.5 L960.3,344.9 L959.5,347.7 L960.1,349.5 L960.2,351.5 L960.1,354.2 L960.5,356.7 L959.4,358.7 L959.5,360.8 L960.2,363.3 L959.3,365.3 L959.5,367.4 L960,369.6 L960.4,371.6 L960,373.7 L959.6,376.4 L959.5,378.9 L959.8,380.1 L960.4,382.2 L959.7,385.3 L959.3,387.6 L960.1,390.2 L959.7,392.2 L960.7,393.9 L959.4,395.9 L960.4,397.6 L960.2,400.5 L960.3,402.5 L960.6,404.4 L959.9,406.9 L960.1,408.9 L959.8,411.5 L960.6,413.1 L959.7,415.5 L960.3,418.5 L959.3,420.8 L960.5,422.5 L960.1,425.2 L960.6,426.6 L960.3,428.6 L959.8,432 L960.2,433.6 L959.9,435.7 L959.3,438.1 L960.6,439.7 L959.3,442.6 L960.5,444.5 L959.4,447 L960.2,448.7 L960.4,451.3 L960.4,453.1 L959.8,455.9 L960.2,458.3 L960.6,460.4 L959.3,462.2 L960.2,464.9 L959.7,466.1 L960.1,468.5 L960,470.7 L960.5,472.6 L960.1,476 L960.2,477.2 L960.1,480.4 L960.2,482.7 L960.4,484.2 L959.5,486.8 L960,489.2 L959.9,491.2 L959.5,493.5 L960.5,495.8 L960.4,497.8 L959.5,499.5 L959.7,501.7 L960.1,504 L960.2,506.9 L960.7,507.9 L960.2,510.9 L959.9,513.3 L960.5,514.8 L960.2,516.9 L959.9,519.4 L960.4,522.4 L960.5,524.1 L960.3,526.4 L960.1,527.9 L959.7,531.3 L960.1,532.3 L959.8,534.5 L959.5,537.1 L959.7,538.8 L960,542.3 L959.9,543.7 L959.8,545.8 L959.8,547.9 L959.9,551.1 L959.8,553.2 L960,555.1 L960,557 L960.5,559.4 L959.6,561.2 L959.9,563.8 L959.8,565.6 L959.7,568.8 L960.3,570.9 L960.6,572 L960.1,575.1 L960,577 L960.2,579.3 L959.5,580.7 L959.7,582.9 L959.7,585.1 L959.4,588.2 L959.6,590.5 L959.9,592.9 L960.1,595.1 L959.9,596.7 L960.6,599.3 L959.9,601.7 L960.3,603.6 L959.3,606.2 L959.4,607.2 L959.8,609.6 L959.6,612.2 L960,614.7 L960.5,616.9 L960.5,618.8 L959.5,621.4 L960.7,622.8 L960.2,625.3 L960.7,627 L960,629.7 L959.8,632.4 L959.3,634 L960.7,636.5 L959.3,638.9 L960.2,641.5 L960.5,643.8 L959.7,645.1 L960.3,647.3 L959.8,649.1 L959.6,651.4 L959.8,654.4 L959.6,656.1 L959.4,658.4 L960.1,660.9 L960.2,663 L960.3,665.6 L960.5,666.7 L960.6,669.6 L960.7,672.2 L959.9,673.4 L959.4,676.6 L959.3,677.8 L960.3,680.8 L960.2,682.2 L960.6,685.4 L959.3,687.3 L959.8,689.1 L960.2,692.3 L959.3,694.3 L960.6,695.5 L960.6,697.6 L959.8,699.8 L959.5,702.2 L960.1,704.8 L960.7,707.4 L959.4,708.7 L959.7,711.9 L960.4,714.2 L960.5,716.2 L960.1,718.6 L960.5,720.8 L960.5,722.6 L959.4,724.9 L960.3,727.6 L960.3,729.7 L960.6,731.1 L960.6,733.7 L959.9,735.7 L960,737.8 L960.3,739.8 L959.9,742.6 L960.7,744.9 L960.1,746.6 L960.2,749.6 L959.3,751 L959.7,753.8 L960.2,754.9 L960.6,757.7 L959.5,759.5 L959.4,761.9 L959.4,764.7 L959.5,766.5 L960.2,768.8 L959.7,771 L959.9,773.4 L960.1,775.2 L960.3,778.2 L960.7,780 L959.7,781.4 L959.9,785 L960.7,786.8 L959.6,788.3 L959.5,790.8 L960.6,792.7 L960.4,795.4 L959.7,797.5 L959.4,799.9 L960.6,801.7 L960.7,803.8 L959.8,806.6 L959.6,807.9 L960,810.7 L959.5,812.5 L959.5,814.7 L959.5,817.6 L960.5,819.7 L959.6,821.8 L960.6,823.8 L960.3,825.5 L960.4,828.9 L960.1,831.2 L960.1,833.2 L960,834.8 L959.7,837.3 L960.4,838.8 L960.2,841 L960.2,844.1 L960.6,846.3 L960.2,848.5 L960.2,850.7 L960.3,853.1 L959.8,855.5 L959.6,856.4 L959.4,859.3 L960.5,860.9 L960.5,863.7 L960.2,865.4 L960.7,868 L959.6,870.5 L959.4,872.7 L960.5,874.2 L959.7,876.6 L959.6,879.3 L960.4,881.3 L960.3,884.1 L960.4,885.6 L960.6,887.5 L960.5,889.6 L959.7,891.8 L960.1,894 L960.2,896.3 L960.2,899 L959.7,900.7 L960.4,903 L959.8,906.2 L960.5,908.1 L960,910 L958,910.5 L956,910.5 L953.7,909.9 L951.5,909.9 L949,909.3 L946.3,910.2 L943.9,909.4 L942.8,910.6 L940.8,910.4 L937.6,910.1 L935.7,909.4 L933,910.2 L931.2,910.1 L929.6,909.4 L926.4,910.7 L924.1,909.8 L922.5,909.7 L920,909.5 L918.4,909.6 L916.1,909.9 L913.6,909.4 L911.9,909.3 L909.7,909.3 L906.8,909.9 L904.9,909.7 L903.2,909.8 L899.9,910.3 L898.3,910.2 L896.5,910.5 L893.4,910.6 L892,909.4 L889.3,910.5 L886.9,909.8 L884.8,910.5 L881.9,910.2 L880.7,910.6 L878.4,909.7 L876.2,910.3 L873.3,910.4 L871.7,910.1 L869.6,910.2 L866.7,909.5 L864.3,909.7 L862.3,910.1 L860,909.5 L858.3,910.4 L856.1,909.4 L854.5,910.1 L852.3,910.4 L850,910.4 L847.6,910.5 L845.3,910.7 L843.4,909.5 L840.6,910.6 L838.7,910.2 L836.1,909.4 L833.9,909.3 L831.3,909.9 L829.5,910.2 L827.5,910.4 L825.3,910.4 L822.3,909.9 L821.4,910.3 L819,910.7 L815.8,910 L814.6,909.7 L811.9,909.6 L809.1,910.6 L807.8,910.4 L805.8,910.1 L803.5,910.4 L800.8,910 L798.2,909.9 L796.9,909.3 L794.8,909.6 L792,909.7 L789.1,910.2 L787.1,909.9 L785.8,909.9 L782.9,909.5 L780.3,910.4 L778.7,909.7 L776.9,910 L773.9,910.6 L772,909.8 L770.6,909.9 L767.6,910.5 L765.7,909.7 L762.6,909.4 L760.6,910.3 L758.7,910 L756.3,909.4 L755.1,910.2 L752.5,910.2 L749.4,910.5 L748.3,909.6 L746.1,910.6 L742.9,910.6 L740.5,910.3 L739.6,909.5 L736.7,909.3 L734.6,909.4 L732.3,909.6 L729.7,910.2 L727.5,909.5 L725.4,909.8 L723.7,910.1 L721.4,910.3 L718.7,910.3 L716.2,909.4 L714.7,910.2 L712.1,910.7 L709.7,910.4 L708.1,910.1 L705.7,909.4 L703.5,910.3 L701.7,910.4 L698.9,910 L696.4,909.9 L694.6,910.4 L692,909.4 L690.5,910.4 L687.5,910.3 L685.4,910.5 L683.9,909.6 L681.3,910.5 L679.9,909.4 L677,909.5 L675.5,910.6 L672.5,910.5 L670.1,910.5 L667.8,909.7 L666,910.3 L663.8,909.5 L660.9,909.5 L659.1,910.2 L656.7,910.6 L655.2,909.7 L652.8,910.5 L650.2,910.2 L648.5,910.5 L646.3,909.4 L644.4,909.6 L641.8,909.5 L639.9,910.5 L637.7,910.3 L635.6,910 L633.3,909.7 L630.1,909.6 L628.3,910.4 L626.6,909.7 L624.4,910.6 L621.6,910.3 L619.3,909.8 L617,909.7 L614.6,909.8 L613.4,909.6 L610.3,910.6 L608.3,909.6 L605.9,909.3 L604.6,910.3 L602.5,910.5 L599.9,910.6 L597.1,910.3 L595.7,909.5 L593.6,910.7 L590.4,909.5 L588.1,909.6 L586.2,910.4 L583.8,909.6 L582.3,910.4 L579.1,910.4 L577.8,909.7 L575.3,909.4 L573.1,909.3 L571.3,910 L568.3,909.6 L566.6,909.7 L564.7,910.1 L562.5,909.5 L559.5,910.6 L558,909.9 L556.2,909.4 L553.4,909.5 L550.8,909.6 L548.7,909.4 L546.2,910.2 L544,910 L542.9,910.4 L540,910 L538.4,907.8 L538.1,905.1 L537.4,903.1Z"/>
<path d="M806.7,-3.3 L807.3,0.6 L806.7,3.3 L809.3,4 L811,5.7 L813,6.5 L814.6,8.2 L816.7,9.5 L819.2,10.8 L816.4,12.3 L815,15 L813,14.7 L810.3,15 L807.8,13.9 L806,14.5 L803.3,14.2 L801,13.1 L798.3,11.7 L797.3,13.2 L795.3,14.8 L793.3,16.7 L791.2,18.3 L788.6,18.9 L786.7,20.8 L784.2,22.2 L781.8,23 L779.2,24.2 L777.4,25.1 L774.8,26.7 L773.3,28.3 L771.2,30 L768.3,32.5 L765.9,34 L764.6,36.7 L763.3,38.9 L763.3,41.7 L764.5,44.1 L765.3,45.4 L766.7,47.5 L766.4,49.5 L767.1,52 L766.7,54.2 L765.9,56.5 L765.8,60 L764.7,62.8 L762.9,65 L764.4,67.5 L765,70.8 L765.3,73.7 L765.5,76 L765.1,78.4 L765.8,80 L766.7,78.3 L766.3,81 L766.6,84.3 L767.5,86.7 L768.6,89.6 L769.6,91.7 L770,93.3 L771.7,96.1 L773.3,97.5 L775.9,96.5 L778.4,95.7 L780,95 L781.7,96.1 L784.2,98.3 L785,95.1 L786.5,93.4 L786.7,90 L790,90.4 L789.3,92.2 L789.5,94.7 L789.2,97.5 L787.6,100 L785.8,101.7 L785.5,104.1 L785.8,106.7 L784.3,109.1 L781.7,111.7 L779.2,112.2 L777.7,112.3 L775,111.7 L772.8,113.2 L770,115 L769.7,117.7 L769.1,119.1 L768.3,121.7 L768.2,123.8 L769,126.2 L768.8,128.3 L770.4,127.5 L771.7,123.3 L774.3,123.4 L776.7,122.5 L777.8,120.8 L779.8,118.7 L781.7,116.7 L785,117.5 L786.9,119.4 L788.4,121.4 L789.2,124.2 L787.9,126.2 L786,128.2 L785,130 L785.6,132.8 L786.2,135.8 L783.4,135.6 L780,136.7 L778.2,134.6 L776.7,131.7 L775.8,134.5 L775.4,136.5 L775,138.5 L775,140.8 L776.1,143.2 L777.5,146.7 L779.9,147.9 L781.7,149.2 L784,150.7 L785.9,152 L787.6,154 L789.4,155.3 L792,156.2 L795,157.5 L797.4,159 L799.5,160 L801.6,160.7 L803.2,161.8 L805.2,163.6 L807.3,163.8 L809.5,165 L811.9,165.2 L814.5,164.7 L816.7,164.1 L818.9,163.8 L821.7,164.5 L824.5,163.8 L826.6,162.2 L828.6,161.2 L830.8,160.6 L833.3,159.3 L835.4,158.2 L837,157.5 L839.3,156.2 L839.7,155 L841.7,153 L843.2,152.2 L844.8,150.6 L847,148.8 L848.6,147.3 L850.2,144.7 L852.9,143.7 L853.6,142.4 L855.8,140 L858.1,138.1 L858.6,137.2 L860.5,135.8 L862.7,134.3 L864.5,132.5 L865.8,131 L867,128.8 L870.6,129.5 L873.2,130 L875.2,127.9 L876.5,125.7 L879.4,124 L880.8,122.5 L879.8,119.7 L879.2,117.5 L878.2,115 L881.2,114.1 L883.1,113.5 L885.8,112.5 L886.4,115.6 L886.1,118 L887.4,120.7 L887,122.5 L888.1,124 L890.7,126.3 L892,127.5 L893.9,128.6 L897,130 L897.6,132.9 L897.6,134.6 L897.8,136.9 L898.2,140 L898.2,142.3 L899.2,144.9 L898.8,146.7 L898.9,149.7 L899.4,151.4 L899.7,154.2 L901.5,156.4 L902.3,158.3 L903.7,161 L903.8,163.5 L904.8,165.5 L905.7,168.3 L906.4,169.8 L907.9,172.6 L908,175 L911.1,177.1 L912.1,178.5 L913.2,181.2 L915.2,183.1 L916.3,185.4 L916.8,186.9 L917,189.4 L918.4,191.7 L920.4,194.6 L921,196.9 L923.1,199.7 L924.7,202.1 L925.7,203.4 L927.6,205 L928.8,207.3 L930.8,209.1 L932.5,210.9 L935.6,212.5 L935.1,216.7 L932,217.7 L928.8,217.7 L930.5,219.3 L932,221.9 L930.9,225 L928.2,223.9 L926.8,222.9 L924.7,222.4 L925.8,224.4 L927.8,226 L928.6,228.3 L929.9,230.2 L932.5,233.3 L933.9,235.5 L934.6,237.5 L935.9,239.7 L937.2,242.7 L937.7,243.5 L936.4,246.3 L935.6,247.7 L934,249.2 L933,251.4 L937.2,252.4 L939.8,253.2 L942.9,253.5 L945.1,254.5 L948.1,253.8 L950.1,254.6 L952.6,254 L954.6,255.1 L956.9,254 L959,254.5 L959.6,253 L958.5,250.5 L958.4,247.3 L959.4,246 L959.7,243.7 L959.1,241 L959.2,239.8 L959.3,237.4 L958.7,235 L959.4,231.9 L959.5,229.8 L958.7,227.4 L959.3,225.3 L959.8,222.9 L959.6,221.8 L959.2,219.3 L959.6,217.2 L958.6,215.2 L959,212.7 L959.2,211 L959.1,208.7 L958.6,205.8 L959.4,204 L959.7,201.2 L959.6,199.8 L958.7,196.7 L959.3,195.7 L959.4,192.7 L959.3,191 L959.3,188.4 L959.4,186.8 L959.7,184.4 L958.9,181.9 L959.7,179.9 L959.9,177.9 L958.8,175.2 L959.1,172.5 L959.3,171.4 L959.7,168 L959,166.2 L959.9,164.1 L958.9,162 L959,159.1 L959.5,158.2 L959.8,155.6 L958.9,153.2 L959.6,151.3 L959.3,148.1 L960,146.2 L959.8,144.2 L959.8,141.9 L958.9,139.8 L959.4,138.1 L959.3,135.7 L959.3,133.6 L959,131.6 L960.1,128.2 L960,127 L959.8,123.9 L959.8,122.6 L959.7,120.7 L960.1,118 L960.1,115.1 L959.3,113.5 L959.6,111.9 L959.7,109.2 L959.7,107.4 L959.4,105 L959.7,102.3 L959.4,99.7 L958.9,97.8 L959.3,95.2 L959.6,93.4 L960.2,91.8 L959.9,89.7 L959.3,86.4 L959.8,84.4 L960.3,82.5 L960.2,80 L959.1,78.3 L959.9,75.6 L960.3,74.4 L960,72.2 L960.4,68.9 L960,67.5 L960,64.7 L959.8,62.9 L960.2,59.9 L959.6,58.1 L960.2,55.6 L959.1,53.4 L959.2,51.6 L960.3,49.3 L959.2,47.5 L959.6,45.2 L960.1,42.8 L960.1,40.9 L960.3,38.9 L960.4,36.6 L959.5,34.1 L960.2,32.3 L960.2,30.2 L960.3,27.5 L960.1,24.6 L959.8,23.4 L960.5,21.3 L959.8,18.3 L960.4,16.7 L959.5,13.6 L960.4,12.1 L959.4,10.5 L960.1,8 L960.4,5.1 L960,2.8 L960.1,0.9 L960.4,-1.7 L959.6,-3.5 L959.3,-5.7 L960.6,-7.3 L960,-10 L957.3,-9.4 L955.2,-10.2 L953.5,-10 L950.7,-10.2 L948.4,-9.9 L947.2,-10.1 L944.5,-9.7 L942.5,-9.9 L939.8,-8.8 L937.1,-9.2 L935.3,-9 L933.5,-9.4 L931.6,-9.1 L929.3,-9.2 L926.1,-9 L923.9,-8.8 L921.7,-8.9 L920.5,-8.2 L917.8,-8.1 L916,-8.7 L912.7,-7.7 L910.4,-7.9 L909.1,-7.3 L906,-7.8 L904.2,-7.5 L901.6,-7.1 L900.7,-7.3 L898,-6.8 L896.1,-6.7 L893.3,-7.7 L891.5,-6.5 L889.2,-7.2 L887.3,-6.6 L884.2,-6.3 L881.9,-7 L880.6,-7.1 L878.3,-6.6 L875.7,-6 L873.9,-6.6 L870.6,-6.1 L868.5,-6.1 L866.1,-6.5 L864.6,-6.5 L861.9,-5.9 L859.5,-5.2 L858.4,-6.2 L856,-5.9 L853.7,-6 L851.5,-4.6 L848.6,-5.6 L846.5,-4.5 L844.9,-5.4 L842.8,-4.5 L840.7,-4.1 L837.3,-4.3 L834.9,-5 L833.4,-4.8 L830.7,-4.6 L828.9,-3.7 L826.8,-4.1 L824.8,-4.5 L822.7,-3.6 L820.5,-4 L817.9,-4.4 L815.5,-3.5 L814,-3 L810.9,-3.1 L809.4,-2.8Z"/>
<path d="M898.6,232.3 L901.8,233.3 L905.9,234.4 L908.3,234.2 L909.7,233.7 L912.2,232.3 L913.8,231.5 L916.3,230.2 L917.8,229.8 L920.5,228.6 L924.7,229.2 L927.3,231.2 L926.6,234.1 L926.8,236.5 L927.8,240.6 L926.8,244.8 L927.4,242.8 L927.2,240.5 L928.2,237.1 L927.8,235.2 L928.3,238.4 L928.8,240.4 L928.1,242.4 L926.8,244.6 L922.6,245.6 L920,247.7 L920.5,250.8 L923.6,252.9 L922.6,256 L920.2,258.2 L918.4,259.2 L917.3,262.2 L917.4,264.4 L914.2,265.4 L911.1,262.3 L909,259.2 L904.9,258.1 L902.8,257.9 L899.7,258.6 L897.6,256 L897,253.3 L896.9,251 L896.5,248.8 L896.4,247.3 L894.9,245.2 L894.5,242.5 L891.3,240.4 L892.3,238.3 L894.5,237.3 L896.5,234.2Z"/>
<path d="M868.4,249.8 L870.3,248.8 L872.6,246.7 L876.2,245.5 L878.8,245.1 L882.5,246.1 L885.1,246.7 L885.8,249.9 L887.7,251.9 L888.1,254.2 L889.2,257.1 L888.2,261.2 L886.5,262.9 L885.1,264.4 L880.9,265.4 L878.3,264.6 L876.8,263.3 L875.2,261.3 L872.6,259.2 L871.5,257.3 L869.5,255 L869.4,252Z"/>
<path d="M893.4,269.6 L896.5,268 L899.5,267.8 L901.8,268.5 L904,270.2 L907,271.7 L908.4,273.1 L911.1,273.8 L912.2,276.9 L908,276.4 L906.3,276.5 L903.8,277.9 L902,276.9 L899.7,275.8 L897.8,274.9 L895.5,272.7Z"/>
<path d="M910.6,268.5 L913.2,267.8 L915.3,266.5 L918.5,265.5 L920.5,265.4 L922.7,266.1 L926.2,265.9 L923.1,266.8 L920.5,268 L917.4,270.1 L916.2,271.5 L914.2,273.8 L914.3,276.9 L913.2,280 L911.1,279 L911,277 L912.2,273.8 L911.5,270.6Z"/>
<path d="M862.2,264.4 L866.3,263.3 L867.9,263.8 L870.5,265.4 L872.1,269.1 L869.5,270.1 L866.3,268 L862.7,269.1 L862.6,266.3Z"/>
<path d="M893.4,282.6 L896.5,281 L899.7,283.1 L897.6,285.2 L895,284.7Z"/>
<path d="M890.3,260.2 L891.9,260.2 L891.2,263.1 L890.3,266.5 L888.6,269.1 L887.8,271 L887.2,273.8 L885.6,272.7 L886.5,270.8 L888.4,268.5 L888.7,266.5 L890.2,264Z"/>
<path d="M876.8,266.5 L878.2,267 L880.9,268.5 L882.8,269.8 L885.1,270.6 L883,271.7 L880.4,270.4 L878.8,270.1Z"/>
<path d="M890.8,190.6 L893.4,188.5 L897.6,188.3 L896.5,190.1 L893.4,192.2Z"/>
<path d="M904.4,208.3 L907.5,208.1 L907,209.6 L904.4,209.6Z"/>
<path d="M895,234.4 L897.1,234.9 L896.5,238.5 L895.3,237.5Z"/>
</g>
<g fill="#FEE690" stroke="#000" stroke-width="1.5" stroke-linejoin="round" shape-rendering="crispEdges">
<path d="M632.2,578.8 L636,580 L639.8,586.2 L642.2,592.5 L644.8,597.5 L639.8,593.8 L636,586.2 L632.2,581.2Z"/>
<path d="M731,380.6 L737.3,378.5 L741.5,380.6 L746.7,382.7 L745.6,385.8 L739.4,387.4 L734.2,385.8Z"/>
<path d="M835.3,208.3 L839.2,206.2 L842.4,202.1 L844.5,200 L849.7,199 L853.8,197.9 L858,199 L862.2,197.4 L866.3,195.8 L870.5,196.4 L874.7,198.4 L878,200.2 L874.7,200 L870.5,198.4 L866.3,197.9 L862.2,200 L858,201 L853.8,200 L852.8,204.2 L853.8,209.4 L851.8,208.3 L849.7,202.1 L846.5,203.1 L845.5,209.4 L843.4,216.7 L841.3,212.5 L839.2,211.5 L836.1,212.5Z"/>
<path d="M908.5,235.2 L911.1,234.2 L913.2,236.2 L912.2,240.4 L910.6,242.5 L909.6,239.4Z"/>
</g>
<g fill="#000" stroke="#000" stroke-width="1.5" stroke-linejoin="round" shape-rendering="crispEdges">
<path d="M825.3,291.6 L826.4,291.6 L826.4,292.6 L825.3,292.6Z"/>
<path d="M831.6,307.2 L832.6,307.2 L832.6,308.2 L831.6,308.2Z"/>
<path d="M837.3,299.9 L838.3,299.9 L838.3,300.9 L837.3,300.9Z"/>
<path d="M834.7,303.5 L835.7,303.5 L835.7,304.6 L834.7,304.6Z"/>
<path d="M843,295.7 L844.1,295.7 L844.1,296.8 L843,296.8Z"/>
<path d="M489.9,29.3 L494.1,28.2 L498.8,27.2 L499.3,23.5 L501.4,22.2 L505.5,21.5 L508.1,20.2 L511.2,20.2 L515.4,19.9 L518.5,21.2 L520.9,20.9 L520.9,24.1 L518.5,25.6 L515.9,27.2 L513.3,29.3 L512.3,31.4 L513.9,34 L512.3,35 L511.8,38.1 L512.8,39.7 L512.3,41.8 L509.2,41.2 L507.1,39.2 L505.5,36.6 L504.5,33.4 L506,31.9 L503.4,31.4 L501.4,32.4 L498.2,31.9 L495.1,30.6 L490.4,30.6Z"/>
<path d="M504.2,44.9 L506,43.9 L508.1,45.9 L510.7,48.5 L511.8,51.1 L511.5,53.8 L510.2,53.5 L508.1,51.1 L506,48.5 L504.5,46.5Z"/>
<path d="M509.2,42.3 L510.5,42.3 L510.7,45.9 L509.7,45.9Z"/>
<path d="M618.3,88.1 L620.6,83 L624.4,80.2 L627.2,78.3 L630.9,75.5 L634.7,74.5 L635.6,71.7 L639.4,71.2 L639.8,74.1 L638.4,76.9 L639.8,79.7 L637,80.2 L634.7,82 L635.6,85.3 L640.8,84.8 L637.5,87.7 L633.7,89.1 L631.9,91.9 L634.7,93.7 L633.3,96.1 L630.5,97 L629.5,100.3 L628.6,104.1 L626.7,104.5 L625.3,102.7 L626.7,98.9 L626.2,95.6 L624.4,93.3 L621.1,92.8 L619.7,90.5Z"/>
<path d="M610.1,94.2 L611.7,94.2 L611.9,96.6 L610.3,96.6Z"/>
<path d="M620.2,113.9 L622,113.9 L622,116 L620.2,116Z"/>
<path d="M581.2,136.9 L583.6,134.1 L584.1,129.4 L587.8,127 L590.2,125.6 L589.2,121.4 L593,120.5 L594.8,122.3 L593.4,124.7 L596.7,125.2 L600,122.8 L602.8,121.9 L603.3,119.2 L604.9,119.2 L604.7,122.8 L602.3,124.7 L600,127.5 L601.9,129.8 L600,132.2 L597.7,131.2 L598.1,135 L595.8,136.4 L593.9,139.2 L593,141.6 L590.2,141.1 L589.2,138.7 L585.9,139.7 L583.1,138.3Z"/>
<path d="M528.5,128 L529.5,128 L529.5,129 L528.5,129Z"/>
<path d="M470,171 L471,171 L471,172 L470,172Z"/>
</g>
<g fill="none" stroke="#000" stroke-width="1.5" stroke-linejoin="round" shape-rendering="crispEdges">
<path d="M757.9,334.8 L757.3,330.1 L760.2,324.4 L767.5,319.4 L776.9,317.3 L786.2,316 L794.6,314.5 L800.8,312.4 L805,310 L809.2,310.8"/>
</g>
<path d="M805.8,4.2 L803.8,5.8 L803.1,7 L800.2,8.8 L798.3,10 L795.8,11.7 L795.3,14.1 L793.3,15 L790.1,15.9 L787.9,18.6 L786.7,19.2 L785.3,18.9 L784.2,22 L781.5,22 L779.2,22.5 L776.4,22.7 L775.3,24.2 L773.3,26.7 L770.6,27.4 L768.2,29.3 L767.5,30.8 L765.9,33.3 L764.7,34.5 L763.3,35.8 L762.8,38.2 L762.1,39.2 L761.7,41.7 L764.1,44.9 L764.8,46.1 L765,47.5 L764.5,49 L764.5,50.9 L765,54.2 L765.3,56.8 L764.2,60 L764,61.4 L763.1,64.2 L760.8,65 L760.4,66.2 L763.5,68.8 L763.3,70.8 L764.8,72.8 L762.7,75.7 L764.7,77.1 L764.2,80 L765,78.3 L764.1,80 L766.6,83.2 L764.6,84 L765.8,86.7 L765.6,87.8 L768.2,90.3 L768.3,93.3 L769.6,94.8 L769.8,97.2 L771.7,98.3 L771.3,100.9 L771.8,102.6 L773.3,105 L771.8,106.9 L771.7,110 L771.7,112.4 L769.2,113.3" fill="none" stroke="#000" stroke-width="4.8" stroke-linejoin="round" shape-rendering="crispEdges"/>
<path d="M805.4,4.7 L808.1,4.8 L803.6,6.6 L800,6.9 L802.4,10 L797,6.9 L795.9,11.8 L799.6,6.6 L800.9,14.9 L797.3,13.1 L792.4,9.3 L794.3,10.7 L790.6,13.1 L788.1,15.6 L790.2,19.4 L789.7,18.5 L788.4,19.4 L786.8,17.1 L789.9,23.5 L787.4,21.8 L781.9,18.5 L780.4,17.8 L782.9,21 L782.3,21.5 L782,25.9 L773.2,21.6 L779.3,24.5 L778.8,24.7 L770.4,27.4 L774.9,25.3 L768.2,26.6 L774.1,30.9 L766.1,27.6 L764.9,26.9 L769.4,28.8 L766.6,32 L762.8,35.3 L761.4,35.7 L760.4,35 L760.7,35.1 L766.4,40.7 L760.7,42.7 L759.6,40.2 L764.9,43.4 L759.5,47.4 L761.1,42.8 L766.3,44.6 L763.2,43.8 L761.7,49.2 L762.9,50.7 L764,50.9 L768.7,52.6 L765.6,57 L762.3,52.7 L767.9,59.4 L762.4,55.8 L766.2,63.2 L761.2,64.5 L765.9,62.9 L761.4,60 L757.5,68.1 L759,67.2 L759.7,69.4 L762.9,66.5 L760.1,71.2 L759.8,68.5 L763.9,74.9 L764.5,71.7 L767,72.5 L760,74.4 L763.5,74.2 L761.5,78 L765,76.6 L763.9,81.4 L769,80.9 L766.8,81.8 L762.5,78.8 L761.7,87.2 L767.3,89 L762,87.8 L766.1,89.8 L765.3,93.3 L763.9,91 L769.7,95.1 L770.2,94.8 L771.4,97.7 L768.6,97 L773.8,99.7 L770.7,100.2 L774.8,99.7 L773.2,99.6 L773.2,102.7 L769.5,104.3 L777.1,107.6 L774.8,105 L774.5,107.9 L771.7,111.3 L768.4,111.9 L767.1,111.9 L769.9,110 L770.8,113.3M806.7,7.6 L802.7,1.1 L802,7.3 L800.1,4.1 L804.6,8.9 L799.8,11.6 L797.8,10.7 L795.7,9.7 L799.5,14.5 L799.1,11.3 L795.8,11.7 L791.2,14.2 L795.8,17.9 L793.6,19.5 L788.9,14 L789.1,15.6 L786.1,17.5 L788.2,18.9 L784.5,22.3 L788.5,19.7 L780,16.9 L785.1,17.6 L782.5,22.4 L778,24.7 L774.5,20.2 L776.8,20.1 L778.7,22.6 L772,21.9 L774.8,25.9 L773.7,28.4 L773.9,31.6 L771.8,26.4 L769,27 L764.1,30.2 L768.8,28.8 L764.3,31.2 L766.8,33.7 L765.3,36.6 L762.6,38 L766.2,33.6 L766.1,40.1 L759.3,39.3 L762.9,44.3 L761.1,42.8 L765.8,45.9 L767,44.4 L765.3,43.6 L766.6,49.7 L766.1,50.3 L762.7,53.1 L768.8,55.1 L765.3,55 L763.6,57.4 L767.7,54.3 L761.3,56.4 L764.8,60.4 L764.1,55.9 L766.1,57.4 L765.2,59.4 L760.7,65.5 L758.4,61.5 L761.2,67.4 L764.3,68.4 L765.7,68.1 L766.3,66.1 L761,70.9 L761.7,73.9 L764.7,73.7 L766.4,75.4 L762.3,75.3 L766.7,80.9 L761.8,81.9 L768.1,79.8 L765.6,75.9 L765.4,79.7 L766.1,77.3 L769.2,82.6 L764.7,86.3 L766.2,85.2 L767.3,83.2 L766.6,87.3 L770.4,92.7 L765.4,90.4 L764.8,91.4 L770.8,96.4 L768.8,92.9 L767.4,96.5 L774,93.7 L773.6,94 L769.5,97 L773.7,99.1 L771.4,102.8 L769.7,105.1 L770.2,104.7 L771,103.5 L772.8,106.8 L771.2,107.9 L772,107.2 L768.5,112.1 L771.2,112.4 L772,114.2M808.7,2.1 L806.6,7.5 L806.8,4.4 L801,10.2 L799.1,11.6 L803.4,5.6 L797.1,11.2 L796.1,7 L799.7,10.6 L798.4,9.2 L794.3,14.7 L790.2,11.8 L794.5,18.4 L795.6,12.8 L790.8,18.7 L789.6,18.9 L785.9,14.7 L784,15.2 L786.3,19.7 L785.2,17.3 L780.8,18.3 L784.8,25.2 L784.2,18.6 L776,26 L778,25.2 L775.8,23.7 L776.2,24.2 L775.7,21.7 L775.4,29.1 L770.1,26.8 L773.4,27.2 L767.9,26.1 L769.3,25.7 L771.2,32.8 L768.7,34.2 L767.2,31.7 L766,33.5 L768.2,37 L761.5,38.9 L764.9,39.2 L765.1,37.5 L765.4,42.7 L763.4,43.1 L764.2,41.5 L764.5,40.1 L762.2,44.5 L760.2,44.8 L765.9,48.2 L762.9,52.1 L766.3,48.6 L766.3,51.9 L765.3,51.8 L769,55.3 L766.4,57.6 L768.5,53.1 L765.4,60.2 L762.3,58.9 L760,58.4 L761.8,58.8 L760,66.4 L761.6,64.4 L764.8,66.1 L765.6,68 L764.6,64.8 L763.5,71.5 L759.6,74.2 L760.7,71.9 L760.9,73.5 L764.6,71.4 L767.4,75.7 L764.2,78.5 L763,77.4 L765.6,80.1 L763.3,80 L763.5,75.8 L763.2,77.4 L762.7,84.5 L764.7,87.1 L767.7,81.7 L769.7,90.2 L762.9,91.2 L766.2,89.1 L771.1,88.5 L768,95.4 L770.1,93 L772.9,96.9 L770.7,92.5 L771.6,96.3 L769,94.3 L772.1,96.1 L771.8,101.9 L772.2,100 L773.5,102.6 L775.4,104.8 L777,109.6 L774.4,105.2 L769.1,111.7 L774,110.9 L769.8,109.2 L771.5,112.7 L769.9,114.4M807.8,1.7 L802.7,8.9 L806.9,8.9 L798.8,3.3 L799.5,7 L801.2,5.3 L799.5,5.9 L794.8,11.6 L797.5,12.3 L795.1,12 L792.8,12 L796.1,16.9 L789.7,12.1 L794.4,16.9 L792.9,14.3 L788.9,15.5 L790.8,17.1 L788.4,22.8 L784.5,19.9 L786.6,23.5 L782.8,19.6 L778.9,24.2 L777.4,18.5 L780,22.2 L779.8,21.5 L779.4,20.5 L773.8,26 L771.6,24 L775.6,27.9 L770.9,24.3 L770.4,29.8 L769.3,25.7 L770.9,30.2 L771.4,33.9 L770.3,30.9 L768.6,30.9 L763.8,32.7 L767.8,37.7 L761.4,34.5 L761.9,35.9 L761.8,37.4 L759.8,40.2 L764.3,41.3 L764.7,42.8 L760.1,45.6 L766.5,43 L760.3,46.1 L765.2,47.7 L768.7,49.7 L767.4,46.4 L765.4,53.6 L761.7,49.4 L766.9,57.3 L761.5,56.6 L761.8,58.9 L765.6,56.2 L762,61.8 L763.8,63 L762,60.7 L765.8,64.6 L761.2,64.7 L762.8,67.2 L764.9,66.1 L764.8,69.5 L765.5,71.9 L765.9,73.8 L767.1,73.2 L763.8,75.2 L766.1,74.3 L763.2,73.5 L765.9,81.6 L763.1,76.4 L762,79 L763.3,82.1 L761.6,78.2 L762.2,82.3 L767.6,79.9 L762,83.5 L766.3,88.5 L762.1,83.5 L763.8,85.7 L764.7,91 L768,88.4 L765.3,90.2 L765.6,95.3 L767.5,94.8 L772.4,95.4 L768.7,99.8 L774.7,96.6 L772.3,102.8 L772.1,98.3 L769,105.4 L775.3,102.3 L773.4,104.7 L771.2,109.9 L773.8,105.2 L768.2,108.4 L770.7,112.3 L772.6,111.9 L767.3,109.4 L767.8,111.4" fill="none" stroke="#000" stroke-width="1.4" stroke-linejoin="miter" shape-rendering="crispEdges"/>
<path d="M795,13h1v1h-1zM765,51h1v1h-1zM768,97h1v1h-1zM770,105h1v1h-1zM769,26h1v1h-1zM769,89h1v1h-1zM762,79h1v1h-1zM808,7h1v1h-1zM760,66h1v1h-1zM775,26h1v1h-1zM773,108h1v1h-1zM765,89h1v1h-1zM765,73h1v1h-1zM769,90h1v1h-1zM786,17h1v1h-1zM768,83h1v1h-1zM773,100h1v1h-1zM792,20h1v1h-1zM760,65h1v1h-1zM794,17h1v1h-1zM775,25h1v1h-1zM766,92h1v1h-1zM764,38h1v1h-1zM783,18h1v1h-1zM762,61h1v1h-1zM763,62h1v1h-1zM770,92h1v1h-1zM767,61h1v1h-1zM765,41h1v1h-1zM767,80h1v1h-1zM764,82h1v1h-1zM792,15h1v1h-1zM801,9h1v1h-1zM770,27h1v1h-1zM793,18h1v1h-1zM777,22h1v1h-1zM774,99h1v1h-1zM770,102h1v1h-1zM798,10h1v1h-1zM775,102h1v1h-1zM767,77h1v1h-1zM779,23h1v1h-1zM765,37h1v1h-1zM763,44h1v1h-1zM795,14h1v1h-1zM766,36h1v1h-1zM764,78h1v1h-1zM764,86h1v1h-1zM779,21h1v1h-1zM766,59h1v1h-1zM804,5h1v1h-1zM764,63h1v1h-1zM789,14h1v1h-1zM762,66h1v1h-1zM798,10h1v1h-1zM798,9h1v1h-1zM800,10h1v1h-1zM762,37h1v1h-1zM778,23h1v1h-1zM767,45h1v1h-1zM771,108h1v1h-1zM771,99h1v1h-1zM780,20h1v1h-1zM786,17h1v1h-1zM768,95h1v1h-1zM763,75h1v1h-1zM763,79h1v1h-1zM769,100h1v1h-1zM762,53h1v1h-1zM799,8h1v1h-1zM770,29h1v1h-1zM762,41h1v1h-1zM771,26h1v1h-1zM769,97h1v1h-1zM761,39h1v1h-1zM768,29h1v1h-1z" fill="#FDC968" shape-rendering="crispEdges"/>
<path d="M771,97h1v1h-1zM776,23h1v1h-1zM808,7h1v1h-1zM765,55h1v1h-1zM766,46h1v1h-1zM794,14h1v1h-1zM771,27h1v1h-1zM772,103h1v1h-1zM759,39h1v1h-1zM773,112h1v1h-1zM803,5h1v1h-1zM794,14h1v1h-1zM768,89h1v1h-1zM766,78h1v1h-1zM764,61h1v1h-1zM765,31h1v1h-1zM763,62h1v1h-1zM768,88h1v1h-1zM800,10h1v1h-1zM762,73h1v1h-1zM761,77h1v1h-1zM764,48h1v1h-1zM767,82h1v1h-1zM776,103h1v1h-1zM764,39h1v1h-1zM766,58h1v1h-1zM759,60h1v1h-1zM771,31h1v1h-1zM763,46h1v1h-1zM763,50h1v1h-1zM784,19h1v1h-1zM784,21h1v1h-1zM778,25h1v1h-1zM775,23h1v1h-1zM760,63h1v1h-1zM774,24h1v1h-1zM767,112h1v1h-1zM765,58h1v1h-1zM766,86h1v1h-1zM765,45h1v1h-1zM762,52h1v1h-1zM778,22h1v1h-1zM790,20h1v1h-1zM769,110h1v1h-1zM768,111h1v1h-1zM805,9h1v1h-1zM760,70h1v1h-1zM765,37h1v1h-1zM770,32h1v1h-1zM784,19h1v1h-1zM772,107h1v1h-1zM799,10h1v1h-1zM763,80h1v1h-1zM788,16h1v1h-1zM804,7h1v1h-1zM770,112h1v1h-1zM782,23h1v1h-1zM762,37h1v1h-1z" fill="#fff" shape-rendering="crispEdges"/>
<path d="M806.7,8.3 L809.3,9.4 L811.7,10 L815,10.9 L817.5,10.8" fill="none" stroke="#000" stroke-width="2.25" stroke-linejoin="round" shape-rendering="crispEdges"/>
<path d="M807.2,9.2 L809.3,10.5 L810.6,10.9 L809.5,9.7 L814.4,10.7 L815.9,8.9 L815.8,9.6 L817.7,11.1M804.9,7.2 L807.4,10.4 L810.7,8 L812.3,8.5 L813.2,8.7 L812.5,11.8 L814.8,9.5 L819.3,12.2M805.9,10 L808.4,9.5 L808.6,11 L811.9,11.6 L814.2,9.4 L813.8,9.1 L814.6,9 L816.8,11.2M804.8,9 L807.6,8.1 L810.9,9.3 L810.5,9.8 L813.5,8.5 L816.1,8.6 L816.9,11.9 L815.7,11.9" fill="none" stroke="#000" stroke-width="1.4" stroke-linejoin="miter" shape-rendering="crispEdges"/>
<path d="M811,8h1v1h-1zM818,10h1v1h-1z" fill="#FDC968" shape-rendering="crispEdges"/>
<path d="M810,8h1v1h-1zM813,9h1v1h-1zM816,9h1v1h-1z" fill="#fff" shape-rendering="crispEdges"/>
<path d="M784.2,97.5 L785.7,96.2 L786.7,94.2 L788.3,90.8" fill="none" stroke="#000" stroke-width="1.8" stroke-linejoin="round" shape-rendering="crispEdges"/>
<path d="M785.1,98.5 L785.1,95.5 L784.6,95.5 L786.9,94.4 L787.2,93 L787.6,91.7M784.9,97.2 L785.3,96.8 L785.2,95.1 L787.9,93 L788.5,92.8 L789.3,90.3M783,98.4 L786.1,96.1 L784.9,94.1 L787.4,93 L789,92.5 L787.4,91.3M783.8,98.8 L786.4,96.3 L786.5,95.6 L787.9,95.1 L786.2,91.8 L788.6,90.2" fill="none" stroke="#000" stroke-width="1.4" stroke-linejoin="miter" shape-rendering="crispEdges"/>
<path d="M786,95h1v1h-1zM785,96h1v1h-1z" fill="#FDC968" shape-rendering="crispEdges"/>
<path d="M900.2,151 L901,153.9 L902.8,156.2 L904.3,158.8 L905.4,161.5 L905.5,164 L907,165.7 L907,167.7 L907.9,169.7 L907.9,172.4 L909.6,175 L910.9,176.4 L912.5,178.7 L913.2,181.2 L913.8,182.2 L916.1,185.1 L916.3,186.5 L918.1,189.3 L918.6,191.7" fill="none" stroke="#000" stroke-width="3" stroke-linejoin="round" shape-rendering="crispEdges"/>
<path d="M898.5,151.9 L901.5,152.1 L900,155 L903.6,154.8 L902.7,154.7 L900.8,156.6 L904.4,156.4 L906,158.5 L903.8,158.8 L908.1,163.6 L907.9,164.3 L904,164.2 L906.7,164.5 L909.3,167.1 L905.8,170.7 L906.1,172.6 L908.2,172 L908.1,173 L907.8,172.1 L911.8,174.3 L912.1,175.4 L913.7,180.1 L913.4,180.6 L913.2,181.7 L911.6,181.6 L915.9,181.4 L917,186.1 L915.2,184.7 L916.1,186 L919.4,187.3 L915.1,187.1 L919.1,192.9 L918.6,191.7M900.5,152.2 L899.4,152.8 L901.7,154.1 L900.5,153.1 L901.9,158.2 L902.6,157.8 L903,156.5 L902.4,161.4 L906.6,160.4 L906.5,163.3 L908,166 L905.9,167.5 L909,166.9 L909,167.8 L906.9,167.9 L909.9,168.8 L906.3,173.3 L910.3,173 L911.1,172.2 L908.8,174.6 L910.3,175.2 L909.2,177.3 L914.1,181.7 L914,180.4 L912.3,184 L914.3,184.1 L912.6,182.7 L917.3,186.8 L918.2,187.1 L916.5,188.3 L919.2,188.2 L918.2,189.3 L919.9,189.3M901.1,153.3 L898.4,152.7 L902.2,155.3 L902.5,153.5 L902.2,158.3 L905.4,155.4 L901.9,156.5 L902.2,159.5 L903.4,162.9 L906.4,160.5 L906.2,162.9 L906.3,163.7 L905,164.9 L906.4,168.8 L907.8,166.9 L909,172.3 L909.8,173.2 L906.5,172.9 L907.2,175.7 L908.4,176.7 L909.5,177.9 L910.5,175.8 L911.5,178.3 L914.8,179.5 L913.5,182 L916.5,180.9 L915.4,184.2 L916.8,187.7 L915.4,187.6 L917,188.2 L915.3,190.7 L920.4,189.7 L917.7,194.2M898.2,148.9 L898.7,153.8 L902.8,153.2 L902.7,152.4 L903.4,155.7 L903.4,156.7 L903.5,157.2 L902.3,159.5 L903.9,162.1 L907.2,163.5 L905.8,162.4 L905.8,165 L907.3,168.8 L905,167.7 L907.5,170.2 L909.9,171.8 L909.1,173.1 L909.8,174.9 L910.4,175.3 L908.7,177.7 L910.1,177.5 L913,180.4 L914.5,176.8 L911.9,179.6 L913,180 L914.5,180.8 L913.9,186.4 L916.8,185.2 L914.4,188.9 L917.9,186.4 L916.6,189.8 L918.9,189.2 L920.9,190.8" fill="none" stroke="#000" stroke-width="1.4" stroke-linejoin="miter" shape-rendering="crispEdges"/>
<path d="M905,158h1v1h-1zM904,162h1v1h-1zM918,187h1v1h-1zM901,153h1v1h-1zM901,150h1v1h-1zM909,169h1v1h-1zM916,183h1v1h-1zM904,159h1v1h-1zM914,180h1v1h-1zM915,185h1v1h-1zM914,183h1v1h-1zM906,165h1v1h-1zM902,154h1v1h-1zM904,160h1v1h-1zM913,178h1v1h-1zM903,159h1v1h-1zM909,178h1v1h-1z" fill="#FDC968" shape-rendering="crispEdges"/>
<path d="M907,160h1v1h-1zM917,189h1v1h-1zM906,157h1v1h-1zM916,185h1v1h-1zM901,150h1v1h-1zM917,188h1v1h-1zM913,179h1v1h-1zM905,159h1v1h-1zM911,180h1v1h-1z" fill="#fff" shape-rendering="crispEdges"/>
<path d="M927.8,232.3 L928.5,234.1 L928.1,236.8 L928.8,238.5 L928.2,240.6 L928.3,243.2 L927.8,245.8" fill="none" stroke="#000" stroke-width="1.5" stroke-linejoin="round" shape-rendering="crispEdges"/>
<path d="M928.9,231.4 L926.9,235 L927.5,234.3 L928.9,236.4 L929.7,237.6 L929.8,239.3 L928.7,242.4 L928.7,243.9 L928.5,243.2 L928.8,246M927.3,231.5 L928.9,234 L929.4,236 L929.7,237 L929.3,238.6 L928,240.9 L927.9,242 L929.3,243.2 L927.1,245.1 L928.2,245M926.7,232.4 L926.9,234.9 L928.3,235.3 L928.3,237.2 L929.8,237.8 L928.3,240 L927.9,241.5 L928.3,242.6 L928.4,244.4 L926.8,247M927.4,232.1 L927.8,234.9 L929.4,235.3 L928.3,235.8 L929.8,237.5 L928.7,239.4 L928,240.9 L927.4,241.6 L928.1,245 L928.2,245.1" fill="none" stroke="#000" stroke-width="1.4" stroke-linejoin="miter" shape-rendering="crispEdges"/>
<path d="M928,245h1v1h-1zM929,239h1v1h-1z" fill="#FDC968" shape-rendering="crispEdges"/>
<path d="M927,241h1v1h-1zM929,240h1v1h-1z" fill="#fff" shape-rendering="crispEdges"/>
<path d="M541,188.3 L538.8,189.5 L537.6,191.9 L535.6,192.9 L534,195.3 L532.7,196.7 L531.6,199 L531.5,200.3 L530.7,202.6 L529.9,205.3 L529.3,206.7 L529.7,208.2 L531.5,210.7 L531.5,212.7 L532.7,215 L533.8,217.6 L534.9,218.8 L536.6,221.3 L537.7,223.3 L537.9,225.7 L536.8,226.9 L537.1,229.9 L535.8,231.6 L536,233.3 L537.7,235.2 L538.2,237 L540,238 L541,240" fill="none" stroke="#000" stroke-width="2.25" stroke-linejoin="round" shape-rendering="crispEdges"/>
<path d="M539.2,186.8 L539.6,190 L537.7,188.9 L537,192.3 L535.7,193.2 L536.6,192 L535.2,194.2 L533.7,197.2 L531.5,194.6 L534,197.2 L530.8,198.3 L531,202 L529.9,200.6 L530.9,203.1 L531.8,205.6 L529.1,204.5 L530.7,208.8 L528.2,209.2 L531.9,210.2 L530,212 L532.4,211.1 L532.6,212.5 L530.9,214.2 L532.7,215.7 L534.6,218.6 L536.5,220.3 L537.4,220.8 L535.6,219.7 L537.5,222.3 L538.3,221.9 L536.3,226.4 L537.6,226.9 L535.5,227.2 L538.3,229.5 L538.3,229.2 L536.1,232.9 L535.8,234.2 L537,232.9 L536.1,237.3 L537,235.4 L538.7,238.5 L541.5,238.8 L541,241.1M540.2,187.8 L540.4,189.8 L537.3,188.9 L536.7,192.2 L537.7,194.1 L537,192.4 L536,196.2 L533.5,193.5 L532.6,195.6 L531.2,195.9 L530.5,200.3 L529.8,200.7 L529.9,200.5 L531.8,202.2 L528.9,204.1 L530.4,205.7 L530.8,206.6 L530,209.1 L530.3,210.4 L530.9,209.5 L530.2,213.3 L533,215.2 L533.4,215.2 L532.1,217.4 L532.7,217 L533.5,218.1 L534.8,219.4 L537.1,221.1 L536,223.2 L538.6,224.6 L535.7,225.2 L538.7,225.3 L535.9,228.7 L536.2,228.6 L537.7,229.9 L535.1,230.7 L535.4,233.9 L536.3,235.3 L536,234.5 L538.9,236.5 L539.3,239.4 L539.3,237.7 L539.3,239.9M540.2,188.2 L538.1,187.4 L538.6,191.3 L537.3,192.9 L537.3,192 L537.1,192.3 L535.4,195.6 L534.2,194.7 L531.5,196.6 L531.2,197.1 L532.1,200.6 L532.1,200.4 L532.4,200.9 L530.1,203.6 L530.3,203.3 L529.3,206.9 L528.5,207.8 L528.3,210 L531.2,208.9 L532.8,212 L529.9,211.3 L532.1,215.4 L531.3,213.2 L532.6,214.4 L533.7,217.4 L534.6,217.2 L533.8,220.9 L536.1,220.9 L536.9,222.8 L539.2,224.6 L538.3,224.2 L536,224.6 L538.3,225.9 L537,230.5 L535.8,229.9 L536,233.4 L536.7,234.4 L535,235.2 L537.4,235.1 L539.6,237.5 L540.8,238.6 L541.7,238.6 L541.2,241.1M540.8,186.9 L540.3,190.7 L540.4,188.9 L537.6,190.3 L536.4,194.1 L535.7,192.6 L534.2,194.1 L534.7,194.8 L531.9,195.3 L531.5,199.1 L530.7,199.9 L530,201.4 L530.1,202.7 L530.3,201.4 L528.6,205.4 L529.8,205.6 L528.9,207.7 L529.9,206.7 L530.9,208.9 L532.3,211.1 L532.6,210.8 L532.9,214 L534,216.3 L533.5,216.4 L535.1,216.4 L535,219.6 L535.9,219.9 L537.6,222.7 L536.1,220.6 L538.1,222.1 L539.2,224.7 L537.3,227.4 L538.4,226.2 L536.6,227.8 L536.4,229 L537.7,231.2 L535.6,234.6 L538,233.7 L537.6,236.1 L537.3,235.2 L540.6,236.5 L540.9,239.8 L541.3,239.4" fill="none" stroke="#000" stroke-width="1.4" stroke-linejoin="miter" shape-rendering="crispEdges"/>
<path d="M535,220h1v1h-1zM538,230h1v1h-1zM538,191h1v1h-1zM532,201h1v1h-1zM531,213h1v1h-1zM536,219h1v1h-1zM539,224h1v1h-1zM541,190h1v1h-1zM535,195h1v1h-1zM538,236h1v1h-1zM534,195h1v1h-1zM532,211h1v1h-1zM535,216h1v1h-1zM531,206h1v1h-1zM538,239h1v1h-1zM530,211h1v1h-1z" fill="#FDC968" shape-rendering="crispEdges"/>
<path d="M537,232h1v1h-1zM536,195h1v1h-1zM537,234h1v1h-1zM537,222h1v1h-1zM538,192h1v1h-1zM537,229h1v1h-1zM539,190h1v1h-1zM539,222h1v1h-1zM534,217h1v1h-1zM538,222h1v1h-1z" fill="#fff" shape-rendering="crispEdges"/>
<path d="M512.7,181.7 L514,183.1 L515.8,185.3 L517.6,186.8 L519.3,188.3 L521.1,189.2 L523.8,190 L526,191.2 L527.7,191.7" fill="none" stroke="#000" stroke-width="1.5" stroke-linejoin="round" shape-rendering="crispEdges"/>
<path d="M511.6,181 L513.2,183.7 L514.7,184.3 L514.7,184.7 L517.6,185.8 L518.8,187.7 L518.4,186.5 L520.5,187.6 L519.9,189.6 L523.3,190.4 L524.9,189.4 L524,189.7 L527.6,190.2 L526.8,190.5M511.6,180.5 L513.3,181.9 L514.2,184.8 L514.9,185.5 L517.3,185.9 L517.9,187.4 L518.9,187 L519.4,187.9 L520.9,190.3 L522.3,188.5 L523.7,190.9 L524.9,191.1 L525.4,190.1 L528.1,190.6M512.2,181.4 L512.9,181.5 L513.5,184.8 L516.2,185.8 L516.7,186.8 L518.6,187 L518.8,187.7 L519.1,188.2 L521.7,188.3 L523.3,189.6 L524,190.9 L525.4,189.7 L525.8,189.9 L526.5,192.8M512.9,182.9 L514.4,182.2 L515.9,184.8 L515.6,183.7 L516.2,184.9 L517.4,185.7 L519.2,188.9 L519.1,189.2 L521.4,189 L523.5,189.3 L524.6,188.9 L526.2,189.8 L525.1,192.1 L528.3,192.1" fill="none" stroke="#000" stroke-width="1.4" stroke-linejoin="miter" shape-rendering="crispEdges"/>
<path d="M523,189h1v1h-1zM528,191h1v1h-1zM516,184h1v1h-1z" fill="#FDC968" shape-rendering="crispEdges"/>
<path d="M519,187h1v1h-1zM526,192h1v1h-1z" fill="#fff" shape-rendering="crispEdges"/>
<path d="M499.3,175.8 L498.9,178.2 L498.5,180.2 L497.9,183 L497.3,185 L497.4,186.8 L497,189.1 L496.7,191.3 L496.5,193 L496.3,195" fill="none" stroke="#000" stroke-width="1.35" stroke-linejoin="round" shape-rendering="crispEdges"/>
<path d="M499.5,176.1 L499.7,176.8 L499,179.6 L499.3,179.5 L498.4,181.9 L497.7,184.2 L497.5,184.5 L498.2,186.4 L496.6,187.1 L496.9,188 L497,191.1 L496.4,192.8 L497.4,193.6 L496.7,194.1M498.3,176.9 L498.5,176.6 L499.6,179.3 L497.5,179.8 L497.4,181.1 L496.6,183.2 L497,184.3 L496.5,185.2 L496,188.4 L497.5,189.2 L495.9,189.7 L495.7,191.6 L495.5,193 L495.6,194.3M499.6,175.7 L498.9,176.9 L498.8,179.4 L497.9,179.2 L498,181.4 L498.3,182.2 L498.2,183.5 L497.3,185.9 L496.6,188.4 L497.4,188.3 L496.7,190.8 L495.5,191.1 L496.7,194 L496.2,194.8M499.3,175.3 L499.8,178.3 L498.6,177.6 L498.1,180.9 L497.6,180.8 L497,183.6 L497.7,184.1 L497.5,186.6 L498.1,188.3 L496.7,189.7 L497.7,191.4 L497.2,192.2 L496.5,194.3 L496.6,195.5" fill="none" stroke="#000" stroke-width="1.4" stroke-linejoin="miter" shape-rendering="crispEdges"/>
<path d="M498,180h1v1h-1zM500,178h1v1h-1zM498,184h1v1h-1z" fill="#FDC968" shape-rendering="crispEdges"/>
<path d="M497,186h1v1h-1zM497,194h1v1h-1z" fill="#fff" shape-rendering="crispEdges"/>
<path d="M504.3,158.3 L506,159.7 L507.9,161.2 L509.6,162.2 L511.3,163.6 L512.7,165 L513.9,162.7 L515.3,160.8 L516.5,159.1 L518.2,157.2 L519.3,155" fill="none" stroke="#000" stroke-width="1.2" stroke-linejoin="round" shape-rendering="crispEdges"/>
<path d="M504.4,158.5 L506.1,160 L507.3,159.8 L508.5,160.8 L508.4,161 L509.9,162 L510.5,163.8 L512.6,165 L512.2,163.6 L513.3,163.4 L515.3,162.7 L516.3,161.1 L516.4,159.3 L516.6,158 L517.8,157.6 L518.7,156 L519.1,154.5M504.9,158.5 L505.9,159.8 L506.1,159.3 L507.2,161.8 L509.3,161.7 L510.4,162.4 L511.7,162.8 L512.6,165.5 L512.9,164.4 L513.1,162.8 L514.1,161.7 L514.5,160.5 L515.4,159.8 L516.8,158 L518.6,157 L518.6,157 L519.8,155.9M504.5,159 L504.5,159.7 L506.2,159.7 L508.2,161.4 L508.4,161.6 L509.4,163.6 L511.2,163.1 L512.1,163.6 L512.6,164.5 L514.8,164 L514.7,162.6 L514.9,161.3 L517.2,159 L517.8,159.5 L517.5,158 L519.5,155.5 L519.2,155.2M504.9,157.8 L505.9,159.6 L507.2,160.5 L508.4,161.2 L508.8,161.8 L509.7,162.7 L510.9,163.4 L511.4,164.3 L513.9,164.1 L514.8,164 L514.5,161.5 L516.1,161.8 L515.8,160.1 L517.5,158.8 L517,156.8 L519,156.5 L519.6,154.6" fill="none" stroke="#000" stroke-width="1.4" stroke-linejoin="miter" shape-rendering="crispEdges"/>
<path d="M518,157h1v1h-1zM518,158h1v1h-1zM509,163h1v1h-1z" fill="#FDC968" shape-rendering="crispEdges"/>
<path d="M518,157h1v1h-1zM510,163h1v1h-1z" fill="#fff" shape-rendering="crispEdges"/>
<path d="M548.5,482.5 L549.6,483.9 L550.7,486.3 L552.3,487.7 L553.6,489 L555,490.9 L556,492.5 L557.5,494.4 L558.8,495.9 L559.4,497.4 L561.2,499.1 L562.2,501.2" fill="none" stroke="#000" stroke-width="1.95" stroke-linejoin="round" shape-rendering="crispEdges"/>
<path d="M548.1,481.6 L548.3,485 L550.5,485.4 L551.3,485.6 L552.7,487.4 L553.8,488.8 L554.8,489.3 L553.5,489.5 L556.2,490.7 L556.8,493.3 L555.7,495 L556.5,496.5 L559.9,495.6 L560.4,498.4 L559.3,499.4 L560.1,501.4 L562.8,502.8M547,481.9 L549.8,484 L549.2,486.1 L552.2,485.3 L550.8,487.7 L552.5,488.8 L553.7,489.1 L553,489.4 L555.3,492.5 L556.1,493.7 L557.3,495.4 L558.5,494.7 L557.7,495.1 L558.2,498.8 L561.7,499.7 L560.1,500.5 L561,502.5M549,483.3 L549.7,483.4 L551.4,486.3 L550.3,485.8 L552.7,487.7 L552.6,488.1 L555.2,488.7 L553.6,491.2 L554.7,493.1 L555.7,494.3 L556.8,495.4 L558.8,496.1 L557.9,495.4 L558.2,496.6 L561.1,497.4 L560.5,500.2 L561.1,500.6M547.6,483.1 L548.1,485.3 L550.6,485.5 L551.3,486 L553.5,488.4 L553.9,486.8 L554,490.9 L555,490.7 L555.9,490.7 L557.1,493.9 L555.8,494.2 L558.3,494.8 L559.4,497.9 L561,497 L559.4,500 L561.7,501.1 L563.4,500.5" fill="none" stroke="#000" stroke-width="1.4" stroke-linejoin="miter" shape-rendering="crispEdges"/>
<path d="M552,487h1v1h-1zM551,485h1v1h-1zM552,486h1v1h-1zM555,492h1v1h-1zM550,482h1v1h-1z" fill="#FDC968" shape-rendering="crispEdges"/>
<path d="M556,494h1v1h-1zM562,499h1v1h-1zM559,495h1v1h-1zM552,485h1v1h-1z" fill="#fff" shape-rendering="crispEdges"/>
<path d="M571,503.8 L573,504.4 L574.6,505.5 L576.8,506.7 L578.8,507.2 L580.3,508.1 L582,509.4 L583.8,510.1 L586,511.2 L588.1,512 L589.8,512.8 L592.2,513.1 L594.2,514.4 L596,515 L598.1,515.4 L600.7,516.1 L602.3,516.6 L604.8,517.5" fill="none" stroke="#000" stroke-width="1.35" stroke-linejoin="round" shape-rendering="crispEdges"/>
<path d="M571.3,502.7 L571.8,503.8 L574.1,505.4 L575.7,504.7 L575.9,505.2 L576.7,506.9 L577.5,506.9 L580.2,508.3 L580.5,509 L583,508.3 L584.3,510.5 L584.5,509.9 L587.2,510.9 L586.5,510.8 L589.6,512.5 L590.8,513.3 L591.5,514.3 L592.4,513.9 L594.8,514.5 L596.2,514.9 L597.1,514.2 L597.4,515.1 L598.4,515.4 L599.8,515.8 L602.4,516.4 L603.2,516.5 L604.3,518.5M571.3,504 L571.5,504.9 L572.8,504.8 L575.9,506 L576.2,506.7 L578.1,507.5 L578,506.5 L579.4,507.6 L580.4,509.8 L583.2,509 L584,509.8 L585.8,510.6 L585.6,510.7 L587.6,511.2 L589,513.1 L589.9,512.1 L592.5,513.3 L591.8,512.7 L593.2,514.5 L596,514.6 L595.7,514.9 L599.2,515.6 L600.4,516.8 L599.6,516.8 L602.5,516.8 L602.9,517.4 L603.9,517.4M570.9,504.8 L573.1,503.9 L573.5,504.3 L575.7,506.5 L575.6,506.6 L577.6,506.1 L579.2,507.6 L580.5,508.2 L580,508.4 L581.3,510.4 L584.5,510.8 L584.4,509.7 L587,512.3 L586.5,511.7 L587.8,512.8 L590.7,511.9 L591.3,513.4 L592.2,514.6 L593.9,513.6 L595.4,515.3 L596,514.8 L599.1,515.9 L599.2,516 L599.9,515.7 L601.7,516.9 L602.8,516.5 L603.8,517.8M570.4,504.7 L573.1,503.5 L572.9,505.4 L574.1,504.8 L577,506.4 L577.2,507.6 L579.3,506.8 L578.9,508 L580.9,508.7 L582.9,509.8 L584.7,509.1 L584.7,510.3 L587,510.7 L586.8,511.6 L588.6,511.8 L589.5,513.7 L591.3,514.1 L592.8,512.7 L595.2,515 L596.4,515.7 L597.5,514.4 L598,514.9 L599.2,515 L600.5,517.4 L601.6,517.4 L603.3,516.9 L605.8,518.6" fill="none" stroke="#000" stroke-width="1.4" stroke-linejoin="miter" shape-rendering="crispEdges"/>
<path d="M590,512h1v1h-1zM577,506h1v1h-1zM591,513h1v1h-1zM578,507h1v1h-1z" fill="#FDC968" shape-rendering="crispEdges"/>
<path d="M604,517h1v1h-1zM573,505h1v1h-1zM600,517h1v1h-1zM585,511h1v1h-1zM593,514h1v1h-1z" fill="#fff" shape-rendering="crispEdges"/>
<path d="M621,552.5 L622.3,553.9 L624.1,555 L626.1,556.5 L627.6,557.5 L629,558.7 L631,560 L630.5,562.8 L630.2,565.2 L629.8,567.5" fill="none" stroke="#000" stroke-width="1.35" stroke-linejoin="round" shape-rendering="crispEdges"/>
<path d="M620,552.9 L621.3,553.3 L623.7,554.9 L624.3,555.1 L624.5,555.8 L626.5,557.6 L628,558.2 L628.9,557.8 L631,560.1 L630.7,559.5 L630.7,561.8 L631.1,563.5 L630.3,564.8 L629.7,565.1 L628.8,568.5M621.8,552 L623,553.4 L622.4,555 L624.6,556.1 L626,555 L627,557.5 L628.8,557.3 L629.1,559 L629.4,560.2 L631.6,559.4 L630.9,561.5 L629.8,563.5 L631.3,564.8 L629.2,566.1 L630.4,568.5M621.5,551.5 L623.2,553.6 L622.4,553.4 L623.5,555.5 L624.8,556.6 L625.9,556.9 L627.8,556.6 L627.9,559.4 L631.3,558.5 L631.5,561.5 L631.6,562.7 L630.1,563.7 L630.2,565.6 L630.5,566.9 L630.6,567.2M621.5,551.6 L621.5,554.3 L623.1,554.6 L624.6,554.5 L625.8,556.9 L626.4,556.5 L627.2,556.9 L629.8,559 L631.2,559.8 L632,559.8 L630,561.2 L630.2,564.3 L629.6,564.6 L629,565 L629.9,567.8" fill="none" stroke="#000" stroke-width="1.4" stroke-linejoin="miter" shape-rendering="crispEdges"/>
<path d="M623,555h1v1h-1zM630,560h1v1h-1zM627,557h1v1h-1z" fill="#FDC968" shape-rendering="crispEdges"/>
<path d="M630,559h1v1h-1zM630,559h1v1h-1z" fill="#fff" shape-rendering="crispEdges"/>
<path d="M834,247.7 L835.5,249.4 L837.1,251.5 L839.2,252.9 L839.8,255.4 L841.4,257.7 L841.9,260.2 L840.8,262.5 L838.8,264.5 L837.2,266.5 L836.9,268.4 L836.9,270.6 L836.5,273.1 L835.6,274.8 L836.7,276.6 L838.7,279.2 L840.3,281 L842.1,281.6 L844.3,282.3 L846.5,282.6" fill="none" stroke="#000" stroke-width="1.8" stroke-linejoin="round" shape-rendering="crispEdges"/>
<path d="M833.2,247.7 L834,249.7 L835.2,249.9 L838.3,250.4 L839.4,252.4 L839.2,253.1 L839.9,253.6 L841.6,255.1 L842.1,257.8 L839.7,257.3 L841.5,260.3 L840.6,261 L840.3,262.6 L841.1,263.7 L838.1,264.9 L838,266.2 L837.2,267.6 L838.4,268.7 L837.7,270.1 L836.7,269.5 L837.6,271.8 L834.4,273.1 L835.4,273.8 L837.8,274.7 L838.5,277.2 L837.2,277.7 L838.9,278.1 L840.6,280.9 L842.4,282.2 L843.2,283 L845,282.3 L845.2,282.3 L847.4,283.9M835,248.7 L833.6,248.5 L834.8,250 L837.3,250.9 L839.1,250.9 L839.7,253 L838.8,255.5 L838.8,255.3 L840.7,257 L842.5,258.2 L842.8,258.8 L841.5,259.6 L841.1,261.6 L840.7,261.8 L838.9,265.4 L836.7,265.7 L837.8,267 L837.1,267.7 L838.1,268.5 L837,271 L836.8,271.9 L834.4,274.2 L835,275.6 L837.9,276.7 L837,278.1 L837.8,277.6 L839.2,279.7 L840.4,280.6 L840.7,281.9 L841.8,281.9 L842.3,280.8 L846.2,281.4 L846.2,281.3M834.8,247.2 L833.7,248 L837.3,250.5 L835.5,252.1 L836.8,251.7 L839.1,253.6 L838.5,255 L839.4,256.1 L841.9,257 L839.6,258.5 L841.4,260.1 L842.4,259.5 L840.9,262.2 L841.1,263.3 L839.4,264.9 L837.1,266.3 L837.6,266.8 L835.9,267.8 L836.4,268.2 L837.7,271.6 L836,270.6 L837.3,272.2 L835.6,274.9 L837.5,276.3 L837.6,277 L839.6,279.1 L838.6,280.2 L841.2,280.4 L839.7,279.9 L843.8,280.7 L844.7,281 L844.3,281.2 L847.4,281.4M833.9,248.6 L835.1,247.2 L834.6,250.7 L836.4,249.5 L838.1,252.6 L838.5,251.6 L838.7,254 L841,254.1 L841.4,257.2 L841.3,257.7 L840.2,259.4 L841.3,261.2 L839.4,260.8 L838.4,262.9 L837.7,264.2 L838,264.7 L836.4,267.6 L836.9,266.5 L836.9,269.9 L836.4,271.7 L837.2,272.5 L834.5,273 L835.6,273.7 L836.4,276.4 L838,277.8 L838.9,277.5 L839.3,279.3 L840.6,279.3 L840,281.8 L843,280.7 L844.5,282.7 L845.6,282.1 L845.2,281.8" fill="none" stroke="#000" stroke-width="1.4" stroke-linejoin="miter" shape-rendering="crispEdges"/>
<path d="M839,277h1v1h-1zM842,260h1v1h-1zM837,250h1v1h-1zM841,256h1v1h-1zM840,259h1v1h-1zM842,259h1v1h-1zM836,275h1v1h-1zM839,256h1v1h-1z" fill="#FDC968" shape-rendering="crispEdges"/>
<path d="M842,260h1v1h-1zM839,279h1v1h-1zM840,254h1v1h-1zM839,256h1v1h-1zM839,253h1v1h-1zM841,257h1v1h-1zM842,281h1v1h-1zM839,253h1v1h-1z" fill="#fff" shape-rendering="crispEdges"/>
<path d="M874.7,261.2 L876.7,262.6 L878,264.8 L879.7,266.6 L880.9,268.5 L883.4,269.1 L885.5,270.2 L887.2,271.1 L888.1,268.7 L889.7,266.2 L890.8,264.4" fill="none" stroke="#000" stroke-width="1.65" stroke-linejoin="round" shape-rendering="crispEdges"/>
<path d="M876,260 L876.2,262.2 L877.7,263.1 L878.6,263.5 L879.7,265.3 L878.4,266.2 L880.5,266.4 L880.9,267.3 L881.3,268.2 L883.1,269.1 L885.9,270 L887.4,271.9 L888.5,271.8 L888.3,269.8 L889.8,268.3 L888.5,266.9 L890.2,264.8 L889.7,263.5M875.2,262.1 L876,262.1 L875.2,262 L877.9,264.5 L878.2,264.6 L878.2,265.7 L879.2,267.9 L880.7,268.8 L882.3,269.3 L884.5,270.5 L884.1,271.5 L887.4,271.7 L887.3,271.9 L889,268.7 L889.3,269.1 L890.2,268 L890.2,266.1 L889.6,264.9M873.7,261.8 L876.7,261.9 L875.3,262.1 L877.5,263.5 L879,265.8 L879.3,267.1 L879.2,267.5 L879.9,268.7 L883.3,268.2 L884.3,271.1 L884.6,269.4 L885.7,271.7 L886.3,271.4 L887.5,270.1 L889.9,269.1 L888.6,267 L889.6,266.7 L890.2,263.5M874.4,260.1 L874.9,262.8 L876.1,262.5 L878.6,263.8 L879.2,266 L879.4,267 L880.4,268.6 L881.7,268 L882.9,269.2 L885,268.6 L885,271.5 L885.2,271.4 L888.6,270.9 L886.9,270.1 L888.1,268.2 L890.3,266.4 L889.4,264.6 L890.4,263.3" fill="none" stroke="#000" stroke-width="1.4" stroke-linejoin="miter" shape-rendering="crispEdges"/>
<path d="M888,270h1v1h-1zM889,268h1v1h-1zM890,264h1v1h-1zM881,270h1v1h-1z" fill="#FDC968" shape-rendering="crispEdges"/>
<path d="M887,272h1v1h-1zM884,270h1v1h-1zM887,268h1v1h-1z" fill="#fff" shape-rendering="crispEdges"/>
<path d="M870.5,237.3 L869.2,239.6 L867.7,241.6 L866.3,243.5 L866.1,245.9 L865.5,248.5 L864.8,250.8 L864.4,252.8 L863.3,255.9 L863,257.7 L862.2,260.2" fill="none" stroke="#000" stroke-width="1.35" stroke-linejoin="round" shape-rendering="crispEdges"/>
<path d="M870.8,238.2 L869.6,239 L869.9,239.8 L868.6,241.4 L868,241.1 L865.7,244.4 L866.6,244.2 L866.3,245.4 L865.2,247.4 L864.6,248.2 L864.9,250.7 L864.1,252.2 L865.2,252.2 L863.3,253.7 L863.8,255.8 L862.8,256.8 L863.2,259.4 L862.1,260.9M869.9,236.9 L870.7,237.9 L868.1,238.7 L868.4,241.6 L866.2,242.1 L866.2,242.9 L865.5,244.4 L865,247.1 L864.8,247.6 L865.5,249.3 L864.8,250.4 L865.5,251.1 L863.5,252.8 L864.3,254.4 L863.1,255 L862.1,257.7 L862,258.7 L861.6,259.8M869.8,238.2 L870,238.5 L868.3,240.5 L868.2,240.1 L866.5,243.1 L866,243.1 L865.1,245.5 L865.2,246.3 L866,247.6 L864.9,248.4 L865.3,249.8 L864.8,252.8 L865.1,253.6 L864,253.8 L864.1,256.9 L862.6,256.4 L862.7,258.6 L863,260.8M870.3,237.4 L869.6,238.9 L869.2,240.1 L867.4,241.6 L866.2,241.6 L866.6,242.2 L866.3,244.3 L865.4,245.2 L865.2,247.7 L864.2,249.7 L866,250.4 L864.6,252.5 L864.5,253.6 L863.7,254.6 L863.1,255.1 L863.6,257.8 L861.5,259.4 L863.3,260" fill="none" stroke="#000" stroke-width="1.4" stroke-linejoin="miter" shape-rendering="crispEdges"/>
<path d="M865,245h1v1h-1zM866,244h1v1h-1zM866,244h1v1h-1zM864,256h1v1h-1z" fill="#FDC968" shape-rendering="crispEdges"/>
<path d="M862,258h1v1h-1zM865,246h1v1h-1z" fill="#fff" shape-rendering="crispEdges"/>
<path d="M899.7,234.2 L902.6,235 L904.9,236.2 L906.5,237.5 L908.3,238.8 L909.5,240.2 L911.1,241.5" fill="none" stroke="#000" stroke-width="1.2" stroke-linejoin="round" shape-rendering="crispEdges"/>
<path d="M900.5,233.5 L901.2,234.7 L903.5,235.1 L903.9,236 L905.1,237.4 L907.2,238 L906.7,239.5 L908.9,239.7 L910,240.5 L912,241M899,235.2 L900.6,234.3 L902.4,236.1 L903.7,234.9 L904.8,236 L905.5,238.3 L908.1,237.8 L908.3,240.5 L910.3,240.4 L911.3,242.5M899.2,234.5 L900.2,234.7 L902,235 L903.8,235.7 L906.1,236.3 L905.5,238.2 L908.5,239.2 L908.4,239.2 L910.5,239.7 L910.2,241.5M899.2,234.1 L900.4,235.7 L902.5,235 L903.6,235.4 L905.9,237.1 L907,238.4 L907.8,238.3 L908.6,238.8 L909.7,240.5 L911.8,241.7" fill="none" stroke="#000" stroke-width="1.4" stroke-linejoin="miter" shape-rendering="crispEdges"/>
<path d="M910,240h1v1h-1zM904,236h1v1h-1z" fill="#FDC968" shape-rendering="crispEdges"/>
<path d="M901,234h1v1h-1z" fill="#fff" shape-rendering="crispEdges"/>
<path d="M732.1,382.7 L734.2,383.4 L736.7,383.6 L739.4,383.8 L741.7,384.1 L743.4,384 L745.6,384.3" fill="none" stroke="#000" stroke-width="1.35" stroke-linejoin="round" shape-rendering="crispEdges"/>
<path d="M731.2,383.7 L732.8,383.5 L735.9,383.7 L736.1,383 L738.6,384.6 L739.9,383.9 L740.8,383.7 L743.1,383.9 L744.2,384.5 L745.9,383.3M731.5,383.2 L733.8,383.7 L734.1,382.5 L736.6,383.9 L737.4,384.2 L739.4,383.4 L741.8,383.1 L743.6,383.6 L743.8,383.5 L745.5,385.1M731.5,382.8 L733.5,382.5 L734.3,383.6 L736.4,383.3 L738.3,382.7 L740.3,384.7 L740.5,384.6 L743,383.6 L743.6,383.2 L745.4,384.2M732.1,382.7 L733.7,382.1 L734.5,383.3 L736.5,382.6 L737.6,384.7 L740.2,384.3 L740.8,383.8 L743,384.2 L744.4,383.1 L746.1,383.6" fill="none" stroke="#000" stroke-width="1.4" stroke-linejoin="miter" shape-rendering="crispEdges"/>
<path d="M737,384h1v1h-1zM740,385h1v1h-1zM740,384h1v1h-1z" fill="#FDC968" shape-rendering="crispEdges"/>
<path d="M839.2,208.3 L841.6,210.4 L843.4,212.5 L843,210.4 L842.9,208.7 L842.4,206.2 L844.1,204.6 L845.8,203.2 L847.6,202.1" fill="none" stroke="#000" stroke-width="1.35" stroke-linejoin="round" shape-rendering="crispEdges"/>
<path d="M840.2,208.4 L840.2,209.4 L841.9,211.5 L842.1,210.8 L843,211.4 L843.5,212.3 L842.3,210.3 L842.1,209.3 L842.6,206.6 L842,204.9 L845.1,204.1 L845.6,204 L846.3,203.5 L846.8,202.5M838.2,207.7 L840.6,208.6 L840.4,210.4 L842.6,210.3 L843.7,212.6 L842.1,211.3 L841.8,209.9 L843,208 L842.2,207.5 L842.3,205.6 L844.2,203.8 L846.2,203.2 L847.1,202.9 L846.5,201.7M839.4,208.2 L841.2,208.3 L842,211.2 L841.5,211.4 L842.3,212.6 L843.6,210.7 L843.6,209.2 L841.7,208.3 L843.1,206.4 L842.4,206.1 L844.5,204 L844.6,204.2 L847.1,202.2 L847.9,202.5M838.2,208.7 L840.2,208.4 L840.4,209.8 L842.8,210.6 L843.5,213.2 L843.3,211.6 L842.1,210.8 L843.7,209.1 L841.9,207.1 L843.6,204.9 L843.3,205.7 L845.4,204.9 L846.3,204 L848.1,201.4" fill="none" stroke="#000" stroke-width="1.4" stroke-linejoin="miter" shape-rendering="crispEdges"/>
<path d="M843,206h1v1h-1zM843,211h1v1h-1z" fill="#FDC968" shape-rendering="crispEdges"/>
<path d="M843,211h1v1h-1zM847,202h1v1h-1zM841,210h1v1h-1z" fill="#fff" shape-rendering="crispEdges"/>
<path d="M459.8,672.5 L461,674.4 L462.5,676.1 L463.4,678.3 L464.8,680 L465.6,682.4 L466.3,684.9 L467.2,687.5" fill="none" stroke="#000" stroke-width="1.5" stroke-linejoin="round" shape-rendering="crispEdges"/>
<path d="M459.8,672.6 L461.4,673.2 L460.9,675.3 L462.1,675.7 L462.7,676.8 L462.9,678.7 L465.5,680 L465.4,680.4 L465.3,681.2 L466.5,683 L465.8,686 L466.4,687.4 L467.5,688.2M460.1,671.7 L461.1,673.1 L461.1,673.9 L461,675.7 L461.7,676.9 L464.6,679.6 L464.3,678.5 L464.7,679.7 L464.8,682.4 L466.2,682.3 L466.3,684.6 L466.5,685.2 L466.9,686.5M460.3,672.9 L460.9,673.4 L462.5,674.5 L461.4,675.7 L464,676.3 L464.4,679.5 L465.4,679.4 L464.9,681.7 L466,682.9 L465.1,683.7 L466.9,684.2 L466,687 L467.4,687.3M459.8,671.9 L460,672.7 L461.1,674 L463.1,677.2 L463.2,676.2 L463.9,677.5 L464.2,678.6 L465,679.7 L464.9,681.5 L465.8,684.6 L466.5,685.5 L467.3,686.2 L466.1,686.4" fill="none" stroke="#000" stroke-width="1.4" stroke-linejoin="miter" shape-rendering="crispEdges"/>
<path d="M461,674h1v1h-1zM461,676h1v1h-1zM460,673h1v1h-1zM467,684h1v1h-1zM464,678h1v1h-1z" fill="#fff" shape-rendering="crispEdges"/>
<path d="M533.3,278.9 L534.8,281.1 L536.4,283.6" fill="none" stroke="#000" stroke-width="1.05" stroke-linejoin="round" shape-rendering="crispEdges"/>
<path d="M533.2,278.5 L534.8,280 L534.1,281.7 L534.9,281.9 L535.7,283.8M533.9,279.1 L533.6,280.7 L535.5,280.9 L535.2,282.7 L537.2,284.3M534,279.3 L533.6,280.3 L534.7,281.5 L535.6,281.9 L537.1,282.8M533,278.6 L534.9,279.4 L535,282 L535.8,283.2 L536.2,283.5" fill="none" stroke="#000" stroke-width="1.4" stroke-linejoin="miter" shape-rendering="crispEdges"/>
<path d="M534,280h1v1h-1z" fill="#FDC968" shape-rendering="crispEdges"/>
<path d="M768.3,93.3 L769.9,95.2 L771.5,97.4 L773.3,98.3 L773.8,100.8 L776.5,102.2 L777.5,103.3 L777.2,104.7 L776.4,107.5 L775,109.2" fill="none" stroke="#000" stroke-width="3.3" stroke-linejoin="round" shape-rendering="crispEdges"/>
<path d="M768.2,94 L768.8,96.6 L767.7,98 L772.5,98 L774,95.7 L775.1,99.2 L772.3,101.4 L774.9,101.8 L773.8,102.6 L774.3,100.3 L775.1,101.4 L777.2,103.7 L774.4,108.3 L777,107.3 L773.4,110.5M768.6,92.5 L768.2,93.6 L770.2,93.6 L768.6,96.1 L770.8,94.9 L772.1,99.3 L776.1,96.9 L776.9,99.5 L778.1,103.8 L775.9,103.5 L777.6,102.5 L779.2,106.1 L778.6,104.6 L774.2,110.2 L773.9,108.5M767.1,95.1 L768.2,92.3 L768.2,97.6 L768.9,94.5 L771.4,97.7 L775.2,100.9 L774.1,100.4 L774.2,100.6 L773.6,103 L777.2,103.7 L779.1,105.7 L779.3,106.5 L774,105.6 L776.2,105.8 L774.4,108.6M766.3,92.8 L770.3,96.7 L771.2,95.9 L769.5,99 L773.8,98.4 L773.2,98.7 L772,98.3 L772.6,103.2 L775.3,102.5 L778.4,102.6 L779.9,106.6 L776.6,102.8 L777.7,106.6 L772.9,109.1 L775.6,111.8" fill="none" stroke="#000" stroke-width="1.4" stroke-linejoin="miter" shape-rendering="crispEdges"/>
<path d="M776,100h1v1h-1zM779,104h1v1h-1zM769,95h1v1h-1zM775,105h1v1h-1zM777,100h1v1h-1zM772,97h1v1h-1zM778,104h1v1h-1zM769,96h1v1h-1z" fill="#FDC968" shape-rendering="crispEdges"/>
<path d="M775,107h1v1h-1zM776,107h1v1h-1zM775,103h1v1h-1zM774,96h1v1h-1zM777,109h1v1h-1z" fill="#fff" shape-rendering="crispEdges"/>
<path d="M680.8,366.9 L679.2,368.5 L677.9,370.4 L676.1,372.2 L674.5,373.9 L673.3,375.7 L672.6,377.1 L671.3,378.9 L670.3,380.9 L669.1,382.5 L670.9,383.3 L673.3,384.8 L675.3,385.6" fill="none" stroke="#000" stroke-width="1.2" stroke-linejoin="round" shape-rendering="crispEdges"/>
<path d="M680.6,366.5 L680.5,367.9 L678.9,369.2 L677.5,370.5 L677.7,370.4 L676,371.9 L675.2,373.7 L673.1,373.9 L673.3,376.6 L673.1,377.8 L671,378.1 L671,379.4 L669.6,381.7 L669.6,381.9 L670,383.4 L671.9,384.2 L672.3,385.2 L674.5,384.5 L674.6,385.5M680.3,367.7 L678.8,368.6 L678.2,369.7 L677.7,369.4 L677.8,371.1 L676.8,372 L674.4,373.6 L673.4,374.8 L673.7,376.2 L671.5,377.5 L671.2,378.3 L671.6,380.4 L669.4,380.1 L669.8,382 L670.4,383.3 L672.3,384.3 L673.7,385.1 L674.1,384.8 L674.6,386.3M680.8,366.9 L679.4,367.7 L678.8,369.4 L677.5,369.5 L677.1,372.2 L676,373.3 L674.3,374.1 L674.1,373.7 L672.6,376.3 L673.1,376.4 L672,379.2 L670.4,380.3 L669.4,380.2 L669.9,382.9 L670.4,383 L671.7,383.8 L672.9,385.1 L673.9,384.5 L674.7,385.7M681.3,366.7 L679.3,367.3 L679.3,368.1 L677.6,369.5 L677.3,371.8 L676.2,371.6 L674.4,373 L674.8,375.5 L673.8,376 L672.3,377.3 L671.8,378.1 L670.3,378.8 L669.6,380.2 L669.8,382.8 L669.4,383.7 L671.9,383.4 L673.1,384.3 L674.3,385.4 L676.1,385.8" fill="none" stroke="#000" stroke-width="1.4" stroke-linejoin="miter" shape-rendering="crispEdges"/>
<path d="M677,371h1v1h-1zM673,376h1v1h-1zM670,381h1v1h-1zM677,371h1v1h-1z" fill="#FDC968" shape-rendering="crispEdges"/>
<path d="M675,375h1v1h-1zM677,373h1v1h-1z" fill="#fff" shape-rendering="crispEdges"/>
<path d="M542.5,371.6 L543.8,373.9 L545.6,376.2" fill="none" stroke="#000" stroke-width="1.05" stroke-linejoin="round" shape-rendering="crispEdges"/>
<path d="M541.7,371.5 L543.1,373 L544.1,375.3 L545.7,376.6M543.2,371.6 L543.5,372.5 L545.1,373.9 L545.4,375.6M542.9,371.5 L543.5,373.2 L545.2,375.5 L545.4,376.9M542.9,371.9 L544.4,372.6 L544.2,374.6 L545.3,375.8" fill="none" stroke="#000" stroke-width="1.4" stroke-linejoin="miter" shape-rendering="crispEdges"/>
<path d="M544,373h1v1h-1z" fill="#fff" shape-rendering="crispEdges"/>
<path d="M623.8,405.2 L625.6,406.1 L628.2,406.7 L630,407.5 L632.6,406.3 L634.7,405.2" fill="none" stroke="#000" stroke-width="1.05" stroke-linejoin="round" shape-rendering="crispEdges"/>
<path d="M623.1,405.7 L626,405.6 L627.4,406.1 L628.2,407.5 L628.8,406.5 L630.1,406.3 L631.9,405.8 L632.7,405.5 L634.5,405.9M622.9,405.5 L625.9,406.1 L626,405.6 L627.7,405.9 L630.2,407.7 L631.3,407.4 L632.9,406.3 L632.6,405.6 L634.6,405.7M622.9,405.8 L624.9,404.9 L626.8,406.9 L628.2,407.2 L629.2,407.1 L629.9,407.8 L632.2,405.9 L632.8,405.9 L635,406M623.7,405.3 L625.5,405 L627.4,406 L628.8,407.4 L629.9,406.6 L630.6,407.1 L631.7,406.5 L633,406 L635.1,405.5" fill="none" stroke="#000" stroke-width="1.4" stroke-linejoin="miter" shape-rendering="crispEdges"/>
<path d="M632,407h1v1h-1z" fill="#FDC968" shape-rendering="crispEdges"/>
<path d="M633,406h1v1h-1z" fill="#fff" shape-rendering="crispEdges"/>
<g fill="#fff">
<path d="M500.1,24.1 L501.4,23.8 L503.4,26.7 L505,28.8 L502.9,28 L500.8,26.1Z"/>
<path d="M498.2,29.3 L499.3,29 L500.8,30.1 L499.8,30.6Z"/>
<path d="M624.8,81.1 L626.7,80.2 L626.2,83.9 L624.8,83.4Z"/>
<path d="M620.6,90.5 L626.2,90 L627.2,92.3 L622.5,92.3Z"/>
<path d="M627.7,87.2 L630,86.2 L629.5,90 L628.1,90.9Z"/>
<path d="M631.4,80.2 L632.8,80.2 L632.6,81.7 L631.4,81.7Z"/>
<path d="M636.1,73.1 L637,73.1 L636.7,75.9 L636,75.9Z"/>
<path d="M584.1,129.4 L587.3,128.4 L588.7,131.2 L587.8,135 L585,134.5Z"/>
<path d="M583.1,136.4 L584.5,136.1 L585,137.8Z"/>
</g>
<path d="M509,36h1v1h-1zM504,25h1v1h-1zM514,23h1v1h-1zM509,23h1v1h-1zM501,24h1v1h-1zM500,30h1v1h-1zM501,28h1v1h-1zM502,25h1v1h-1zM504,29h1v1h-1zM509,37h1v1h-1zM499,30h1v1h-1zM502,23h1v1h-1zM510,37h1v1h-1zM510,33h1v1h-1zM508,48h1v1h-1zM508,47h1v1h-1zM510,50h1v1h-1zM628,88h1v1h-1zM627,93h1v1h-1zM631,95h1v1h-1zM630,95h1v1h-1zM622,86h1v1h-1zM628,85h1v1h-1zM621,89h1v1h-1zM627,90h1v1h-1zM638,72h1v1h-1zM621,91h1v1h-1zM634,87h1v1h-1zM626,86h1v1h-1zM623,89h1v1h-1zM590,136h1v1h-1zM598,128h1v1h-1zM586,132h1v1h-1zM583,137h1v1h-1zM586,134h1v1h-1zM595,126h1v1h-1zM586,139h1v1h-1zM590,128h1v1h-1zM592,138h1v1h-1zM592,135h1v1h-1zM593,137h1v1h-1zM587,128h1v1h-1z" fill="#FDD57A" shape-rendering="crispEdges"/>
<path d="M518,22h1v1h-1zM507,32h1v1h-1zM515,23h1v1h-1zM507,35h1v1h-1zM500,27h1v1h-1zM512,21h1v1h-1zM507,27h1v1h-1zM508,38h1v1h-1zM516,23h1v1h-1zM493,29h1v1h-1zM505,26h1v1h-1zM505,27h1v1h-1zM499,31h1v1h-1zM510,37h1v1h-1zM509,48h1v1h-1zM510,51h1v1h-1zM633,86h1v1h-1zM627,101h1v1h-1zM629,93h1v1h-1zM630,88h1v1h-1zM624,85h1v1h-1zM624,85h1v1h-1zM632,81h1v1h-1zM630,95h1v1h-1zM637,78h1v1h-1zM632,88h1v1h-1zM628,95h1v1h-1zM627,83h1v1h-1zM634,78h1v1h-1zM592,136h1v1h-1zM588,137h1v1h-1zM594,134h1v1h-1zM600,125h1v1h-1zM600,129h1v1h-1zM596,135h1v1h-1zM593,122h1v1h-1zM596,126h1v1h-1zM599,128h1v1h-1zM600,131h1v1h-1zM599,125h1v1h-1zM592,140h1v1h-1z" fill="#fff" shape-rendering="crispEdges"/>
</g>
<rect x="397.5" y="1.5" width="549" height="895" fill="none" stroke="#000" stroke-width="3"/>
<rect x="772" y="624" width="46" height="228.5" fill="url(#lg)"/>
<path d="M772,629h9.5M808.5,629h9.5" stroke="#fff" stroke-width="1" fill="none"/>
<path d="M772,653.2h9.5M808.5,653.2h9.5" stroke="#fff" stroke-width="1" fill="none"/>
<path d="M772,679.7h9.5M808.5,679.7h9.5" stroke="#fff" stroke-width="1" fill="none"/>
<path d="M772,712h9.5M808.5,712h9.5" stroke="#fff" stroke-width="1" fill="none"/>
<path d="M772,752.7h9.5M808.5,752.7h9.5" stroke="#fff" stroke-width="1" fill="none"/>
<g font-family="Liberation Sans, Arial, sans-serif" font-size="23.1" fill="#000">
<text x="832" y="637.8">5000</text>
<text x="832" y="662">4000</text>
<text x="832" y="688.5">3000</text>
<text x="832" y="720.8">2000</text>
<text x="832" y="761.5">1000</text>
<text x="832" y="861.3">0</text>
</g>
<text x="772" y="607" font-family="Liberation Sans, Arial, sans-serif" font-size="29.6" fill="#000">Depth (m)</text>
</svg>
<div class="cap" style="top:908px">Source: Resourcecode hindcast database<br>resourcecode.ifremer.fr</div>
</body></html>
